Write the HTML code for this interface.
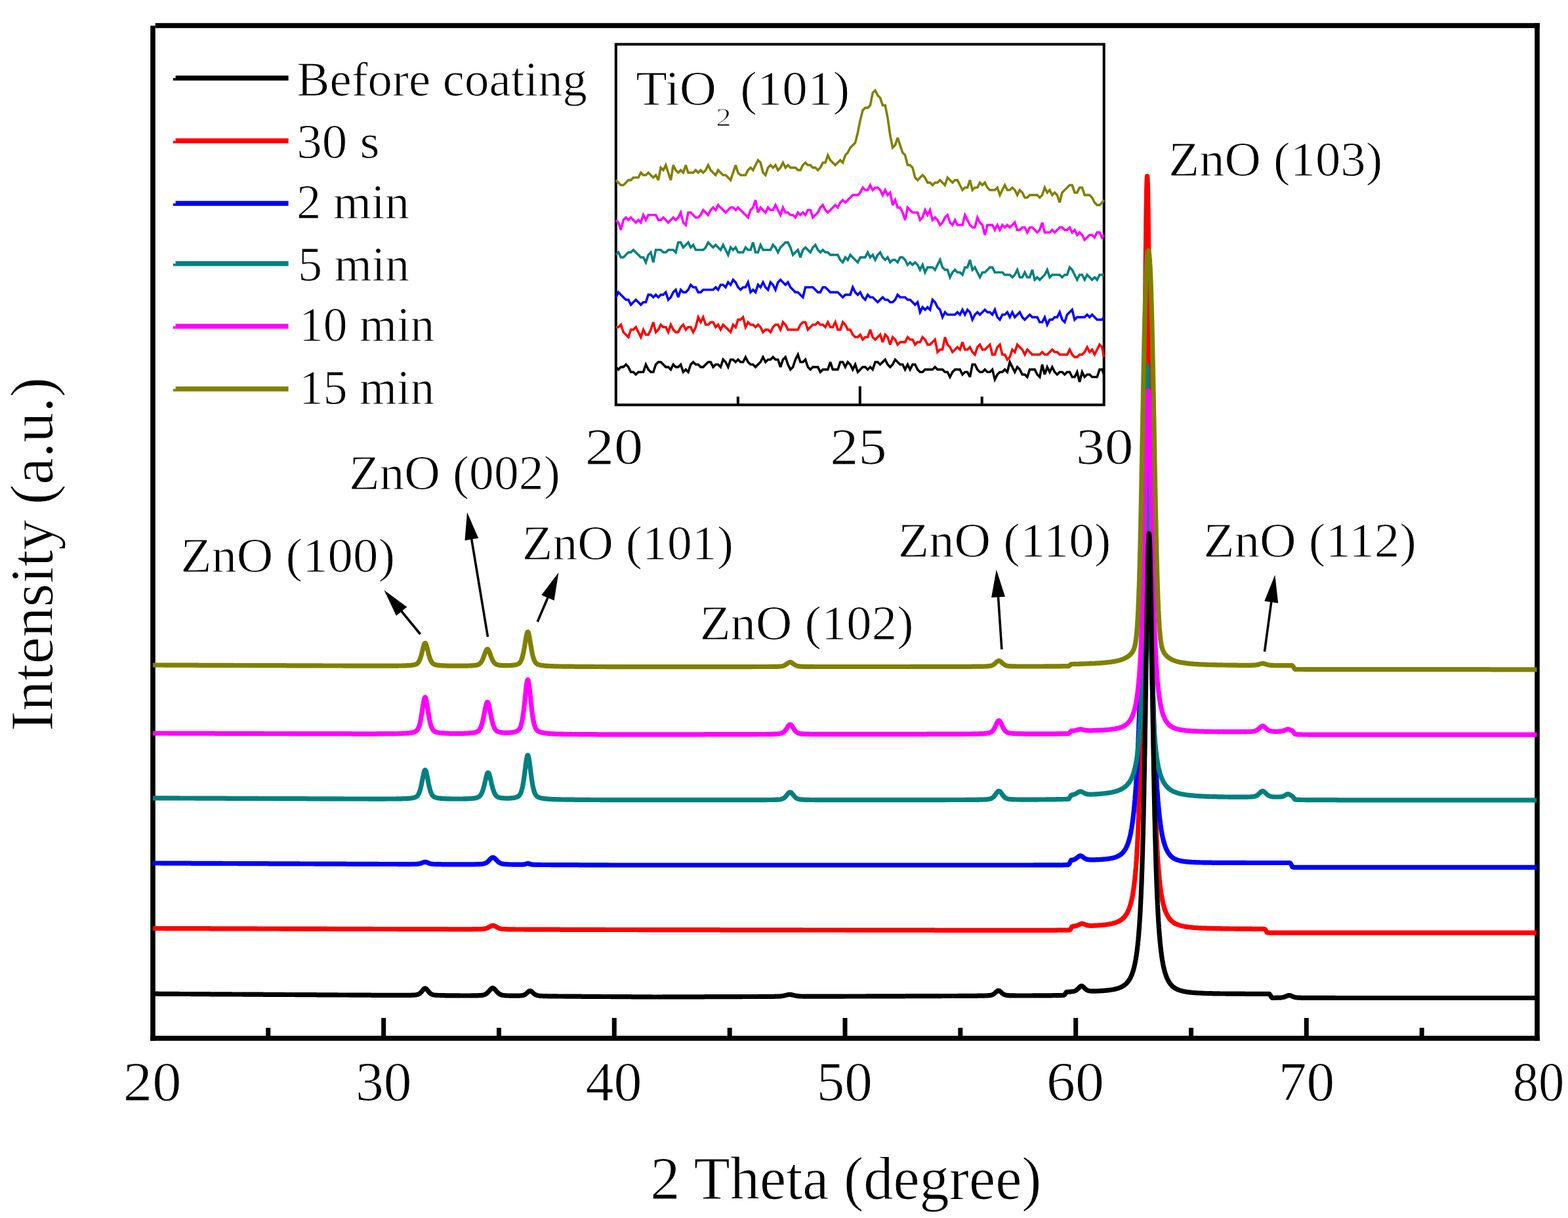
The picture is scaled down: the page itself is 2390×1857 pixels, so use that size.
<!DOCTYPE html>
<html><head><meta charset="utf-8"><title>XRD</title>
<style>html,body{margin:0;padding:0;background:#fff;}svg{display:block;}text{font-family:"Liberation Serif","Times New Roman",serif;fill:#000;stroke:#fff;stroke-width:1.0px;stroke-linejoin:round;}</style>
</head><body>
<svg width="2390" height="1857" viewBox="0 0 2390 1857">
<rect width="2390" height="1857" fill="#fff"/>
<rect x="236.8" y="35.2" width="2110" height="7.6" fill="#000"/>
<rect x="229.2" y="39.2" width="7.6" height="1547.6" fill="#000"/>
<rect x="229.2" y="1579.2" width="2117.6" height="7.6" fill="#000"/>
<rect x="2339.2" y="35.2" width="7.6" height="1551.6" fill="#000"/>
<line x1="408.8" y1="1580" x2="408.8" y2="1567" stroke="#000" stroke-width="7"/>
<line x1="584.7" y1="1580" x2="584.7" y2="1552" stroke="#000" stroke-width="7"/>
<line x1="760.5" y1="1580" x2="760.5" y2="1567" stroke="#000" stroke-width="7"/>
<line x1="936.3" y1="1580" x2="936.3" y2="1552" stroke="#000" stroke-width="7"/>
<line x1="1112.2" y1="1580" x2="1112.2" y2="1567" stroke="#000" stroke-width="7"/>
<line x1="1288.0" y1="1580" x2="1288.0" y2="1552" stroke="#000" stroke-width="7"/>
<line x1="1463.8" y1="1580" x2="1463.8" y2="1567" stroke="#000" stroke-width="7"/>
<line x1="1639.7" y1="1580" x2="1639.7" y2="1552" stroke="#000" stroke-width="7"/>
<line x1="1815.5" y1="1580" x2="1815.5" y2="1567" stroke="#000" stroke-width="7"/>
<line x1="1991.3" y1="1580" x2="1991.3" y2="1552" stroke="#000" stroke-width="7"/>
<line x1="2167.2" y1="1580" x2="2167.2" y2="1567" stroke="#000" stroke-width="7"/>
<text transform="translate(191.40,1678.00) scale(1.0361,1)" x="-3.42" y="0" font-size="85.5">20</text>
<text transform="translate(546.20,1678.00) scale(0.9999,1)" x="-4.28" y="0" font-size="85.5">30</text>
<text transform="translate(894.30,1678.00) scale(1.0066,1)" x="-1.71" y="0" font-size="85.5">40</text>
<text transform="translate(1249.80,1678.00) scale(0.9955,1)" x="-5.13" y="0" font-size="85.5">50</text>
<text transform="translate(1598.50,1678.00) scale(1.0285,1)" x="-3.42" y="0" font-size="85.5">60</text>
<text transform="translate(1954.60,1678.00) scale(1.0001,1)" x="-5.98" y="0" font-size="85.5">70</text>
<text transform="translate(2308.80,1678.00) scale(0.9204,1)" x="-3.42" y="0" font-size="85.5">80</text>
<text transform="translate(994.90,1827.60) scale(0.9677,1)" x="-3.74" y="0" font-size="93.5">2 Theta (degree)</text>
<text transform="translate(80.4,1111) rotate(-90) scale(0.9853,1)" x="-3.74" y="0" font-size="93.5">Intensity (a.u.)</text>
<rect x="267.6" y="115.25" width="172" height="7.5" fill="#000000"/>
<rect x="263.8" y="119.00" width="4" height="3.75" fill="#000000"/>
<text transform="translate(454.80,145.50) scale(1.0043,1)" x="-2.23" y="0" font-size="74.5">Before coating</text>
<rect x="267.6" y="210.95" width="172" height="7.5" fill="#ff0000"/>
<rect x="263.8" y="214.70" width="4" height="3.75" fill="#ff0000"/>
<text transform="translate(456.00,241.00) scale(1.0357,1)" x="-3.73" y="0" font-size="74.5">30 s</text>
<rect x="267.6" y="306.35" width="172" height="7.5" fill="#0000ff"/>
<rect x="263.8" y="310.10" width="4" height="3.75" fill="#0000ff"/>
<text transform="translate(455.00,332.90) scale(1.0022,1)" x="-2.98" y="0" font-size="74.5">2 min</text>
<rect x="267.6" y="398.15" width="172" height="7.5" fill="#008080"/>
<rect x="263.8" y="401.90" width="4" height="3.75" fill="#008080"/>
<text transform="translate(458.70,428.20) scale(0.9890,1)" x="-4.47" y="0" font-size="74.5">5 min</text>
<rect x="267.6" y="493.75" width="172" height="7.5" fill="#ff00ff"/>
<rect x="263.8" y="497.50" width="4" height="3.75" fill="#ff00ff"/>
<text transform="translate(462.60,519.60) scale(0.9863,1)" x="-6.71" y="0" font-size="74.5">10 min</text>
<rect x="267.6" y="589.25" width="172" height="7.5" fill="#808000"/>
<rect x="263.8" y="593.00" width="4" height="3.75" fill="#808000"/>
<text transform="translate(462.60,615.50) scale(0.9863,1)" x="-6.71" y="0" font-size="74.5">15 min</text>
<text transform="translate(1785.20,267.50) scale(1.0295,1)" x="-3.73" y="0" font-size="74.5">ZnO (103)</text>
<text transform="translate(536.00,745.80) scale(1.0163,1)" x="-3.73" y="0" font-size="74.5">ZnO (002)</text>
<text transform="translate(279.30,871.50) scale(1.0321,1)" x="-3.73" y="0" font-size="74.5">ZnO (100)</text>
<text transform="translate(799.90,852.60) scale(1.0166,1)" x="-3.73" y="0" font-size="74.5">ZnO (101)</text>
<text transform="translate(1372.80,848.90) scale(1.0338,1)" x="-3.73" y="0" font-size="74.5">ZnO (110)</text>
<text transform="translate(1838.30,848.60) scale(1.0338,1)" x="-3.73" y="0" font-size="74.5">ZnO (112)</text>
<text transform="translate(1070.60,974.90) scale(1.0292,1)" x="-3.73" y="0" font-size="74.5">ZnO (102)</text>
<line x1="640.7" y1="967.0" x2="610.9" y2="930.6" stroke="#000" stroke-width="3.6"/>
<polygon points="585.5,899.7 620.3,925.5 604.0,938.8" fill="#000"/>
<line x1="743.5" y1="971.0" x2="718.5" y2="820.4" stroke="#000" stroke-width="3.6"/>
<polygon points="712.0,780.9 729.2,820.6 708.5,824.1" fill="#000"/>
<line x1="819.2" y1="948.0" x2="835.7" y2="909.5" stroke="#000" stroke-width="3.6"/>
<polygon points="851.5,872.7 844.6,915.4 825.3,907.2" fill="#000"/>
<line x1="1526.9" y1="990.0" x2="1521.4" y2="908.4" stroke="#000" stroke-width="3.6"/>
<polygon points="1518.7,868.5 1532.0,909.7 1511.1,911.1" fill="#000"/>
<line x1="1927.5" y1="993.6" x2="1938.0" y2="916.0" stroke="#000" stroke-width="3.6"/>
<polygon points="1943.4,876.4 1948.2,919.4 1927.3,916.6" fill="#000"/>
<rect x="938.8" y="67.5" width="743.9" height="549.8" fill="none" stroke="#000" stroke-width="4"/>
<line x1="1124.8" y1="617.3" x2="1124.8" y2="604.7" stroke="#000" stroke-width="4"/>
<line x1="1310.8" y1="617.3" x2="1310.8" y2="588.9" stroke="#000" stroke-width="4"/>
<line x1="1496.7" y1="617.3" x2="1496.7" y2="604.7" stroke="#000" stroke-width="4"/>
<text transform="translate(895.30,706.50) scale(1.1200,1)" x="-3.16" y="0" font-size="79.0">20</text>
<text transform="translate(1268.80,706.50) scale(1.0925,1)" x="-3.16" y="0" font-size="79.0">25</text>
<text transform="translate(1644.30,706.50) scale(1.1086,1)" x="-3.95" y="0" font-size="79.0">30</text>
<text transform="translate(970.90,160.40) scale(1.0375,1)" x="-1.50" y="0" font-size="75.0">TiO</text>
<text transform="translate(1093.10,191.50) scale(1.1688,1)" x="-1.60" y="0" font-size="40.0">2</text>
<text transform="translate(1131.20,160.40) scale(1.0282,1)" x="-3.00" y="0" font-size="75.0">(101)</text>
<polyline points="938.8,559.6 942.6,563.4 946.4,559.6 950.2,559.6 954.0,555.8 957.8,559.6 961.6,567.2 965.4,567.2 969.2,571.0 973.0,567.2 976.8,567.2 980.6,567.2 984.4,555.8 988.2,563.4 992.0,567.2 995.8,567.2 999.6,555.8 1003.4,552.0 1007.2,552.0 1011.0,555.8 1014.8,559.6 1018.6,559.6 1022.4,563.4 1026.2,555.8 1030.0,559.6 1033.8,559.6 1037.6,555.8 1041.4,567.2 1045.2,563.4 1049.0,567.2 1052.8,555.8 1056.6,552.0 1060.4,555.8 1064.2,555.8 1068.0,559.6 1071.8,559.6 1075.6,555.8 1079.4,552.0 1083.2,552.0 1087.0,559.6 1090.8,555.8 1094.6,555.8 1098.4,559.6 1102.2,548.2 1106.0,552.0 1109.8,559.6 1113.6,548.2 1117.4,548.2 1121.2,552.0 1125.0,548.2 1128.8,552.0 1132.6,552.0 1136.4,544.4 1140.2,552.0 1144.0,555.8 1147.8,555.8 1151.6,559.6 1155.4,555.8 1159.2,552.0 1163.0,544.4 1166.8,552.0 1170.6,548.2 1174.4,548.2 1178.2,544.4 1182.0,548.2 1185.8,548.2 1189.6,559.6 1193.4,548.2 1197.2,544.4 1201.0,555.8 1204.8,563.4 1208.6,559.6 1212.4,548.2 1216.2,540.6 1220.0,552.0 1223.8,552.0 1227.6,548.2 1231.4,559.6 1235.2,563.4 1239.0,559.6 1242.8,559.6 1246.6,559.6 1250.4,567.2 1254.2,563.4 1258.0,563.4 1261.8,563.4 1265.6,552.0 1269.4,563.4 1273.2,563.4 1277.0,563.4 1280.8,552.0 1284.6,552.0 1288.4,559.6 1292.2,552.0 1296.0,555.8 1299.8,563.4 1303.6,555.8 1307.4,567.2 1311.2,563.4 1315.0,559.6 1318.8,559.6 1322.6,563.4 1326.4,559.6 1330.2,563.4 1334.0,552.0 1337.8,552.0 1341.6,555.8 1345.4,552.0 1349.2,548.2 1353.0,555.8 1356.8,559.6 1360.6,555.8 1364.4,548.2 1368.2,552.0 1372.0,555.8 1375.8,555.8 1379.6,563.4 1383.4,555.8 1387.2,563.4 1391.0,555.8 1394.8,555.8 1398.6,563.4 1402.4,567.2 1406.2,567.2 1410.0,563.4 1413.8,563.4 1417.6,563.4 1421.4,563.4 1425.2,559.6 1429.0,563.4 1432.8,563.4 1436.6,563.4 1440.4,567.2 1444.2,567.2 1448.0,574.8 1451.8,567.2 1455.6,563.4 1459.4,563.4 1463.2,563.4 1467.0,571.0 1470.8,567.2 1474.6,567.2 1478.4,574.8 1482.2,555.8 1486.0,555.8 1489.8,563.4 1493.6,567.2 1497.4,567.2 1501.2,563.4 1505.0,567.2 1508.8,567.2 1512.6,563.4 1516.4,578.6 1520.2,571.0 1524.0,567.2 1527.8,567.2 1531.6,563.4 1535.4,567.2 1539.2,552.0 1543.0,559.6 1546.8,567.2 1550.6,559.6 1554.4,563.4 1558.2,571.0 1562.0,571.0 1565.8,574.8 1569.6,563.4 1573.4,563.4 1577.2,563.4 1581.0,571.0 1584.8,574.8 1588.6,555.8 1592.4,571.0 1596.2,559.6 1600.0,567.2 1603.8,559.6 1607.6,567.2 1611.4,571.0 1615.2,567.2 1619.0,567.2 1622.8,571.0 1626.6,567.2 1630.4,567.2 1634.2,574.8 1638.0,574.8 1641.8,567.2 1645.6,582.4 1649.4,567.2 1653.2,574.8 1657.0,571.0 1660.8,571.0 1664.6,574.8 1668.4,574.8 1672.2,574.8 1676.0,563.4 1679.8,563.4 1682.7,571.0" fill="none" stroke="#000000" stroke-width="3.6" stroke-linejoin="miter" stroke-miterlimit="3"/>
<polyline points="938.8,498.8 942.6,498.8 946.4,495.0 950.2,506.4 954.0,510.2 957.8,514.0 961.6,502.6 965.4,502.6 969.2,498.8 973.0,506.4 976.8,514.0 980.6,502.6 984.4,510.2 988.2,510.2 992.0,502.6 995.8,491.2 999.6,506.4 1003.4,502.6 1007.2,495.0 1011.0,498.8 1014.8,498.8 1018.6,506.4 1022.4,495.0 1026.2,502.6 1030.0,506.4 1033.8,506.4 1037.6,498.8 1041.4,495.0 1045.2,502.6 1049.0,498.8 1052.8,498.8 1056.6,506.4 1060.4,498.8 1064.2,483.6 1068.0,491.2 1071.8,483.6 1075.6,495.0 1079.4,495.0 1083.2,491.2 1087.0,491.2 1090.8,498.8 1094.6,495.0 1098.4,502.6 1102.2,495.0 1106.0,498.8 1109.8,502.6 1113.6,506.4 1117.4,495.0 1121.2,498.8 1125.0,487.4 1128.8,487.4 1132.6,483.6 1136.4,498.8 1140.2,491.2 1144.0,495.0 1147.8,495.0 1151.6,498.8 1155.4,495.0 1159.2,498.8 1163.0,506.4 1166.8,502.6 1170.6,502.6 1174.4,506.4 1178.2,498.8 1182.0,495.0 1185.8,495.0 1189.6,502.6 1193.4,491.2 1197.2,495.0 1201.0,502.6 1204.8,502.6 1208.6,502.6 1212.4,502.6 1216.2,502.6 1220.0,495.0 1223.8,491.2 1227.6,491.2 1231.4,502.6 1235.2,498.8 1239.0,495.0 1242.8,495.0 1246.6,491.2 1250.4,495.0 1254.2,495.0 1258.0,498.8 1261.8,491.2 1265.6,498.8 1269.4,498.8 1273.2,491.2 1277.0,502.6 1280.8,502.6 1284.6,491.2 1288.4,495.0 1292.2,502.6 1296.0,502.6 1299.8,510.2 1303.6,514.0 1307.4,514.0 1311.2,510.2 1315.0,517.8 1318.8,514.0 1322.6,514.0 1326.4,502.6 1330.2,514.0 1334.0,517.8 1337.8,514.0 1341.6,510.2 1345.4,521.6 1349.2,510.2 1353.0,514.0 1356.8,525.4 1360.6,514.0 1364.4,517.8 1368.2,525.4 1372.0,521.6 1375.8,521.6 1379.6,521.6 1383.4,514.0 1387.2,517.8 1391.0,517.8 1394.8,525.4 1398.6,521.6 1402.4,521.6 1406.2,514.0 1410.0,517.8 1413.8,525.4 1417.6,525.4 1421.4,521.6 1425.2,517.8 1429.0,536.8 1432.8,533.0 1436.6,533.0 1440.4,514.0 1444.2,525.4 1448.0,529.2 1451.8,536.8 1455.6,533.0 1459.4,529.2 1463.2,533.0 1467.0,521.6 1470.8,533.0 1474.6,533.0 1478.4,529.2 1482.2,536.8 1486.0,540.6 1489.8,529.2 1493.6,525.4 1497.4,533.0 1501.2,533.0 1505.0,529.2 1508.8,525.4 1512.6,540.6 1516.4,540.6 1520.2,529.2 1524.0,525.4 1527.8,540.6 1531.6,540.6 1535.4,548.2 1539.2,544.4 1543.0,533.0 1546.8,536.8 1550.6,525.4 1554.4,529.2 1558.2,533.0 1562.0,540.6 1565.8,533.0 1569.6,536.8 1573.4,540.6 1577.2,540.6 1581.0,540.6 1584.8,540.6 1588.6,536.8 1592.4,540.6 1596.2,540.6 1600.0,536.8 1603.8,533.0 1607.6,536.8 1611.4,536.8 1615.2,540.6 1619.0,540.6 1622.8,540.6 1626.6,540.6 1630.4,533.0 1634.2,540.6 1638.0,544.4 1641.8,544.4 1645.6,540.6 1649.4,540.6 1653.2,536.8 1657.0,529.2 1660.8,536.8 1664.6,533.0 1668.4,540.6 1672.2,533.0 1676.0,525.4 1679.8,529.2 1682.7,544.4" fill="none" stroke="#ff0000" stroke-width="3.6" stroke-linejoin="miter" stroke-miterlimit="3"/>
<polyline points="938.8,453.2 942.6,445.6 946.4,449.4 950.2,453.2 954.0,457.0 957.8,457.0 961.6,464.6 965.4,460.8 969.2,457.0 973.0,460.8 976.8,464.6 980.6,460.8 984.4,460.8 988.2,449.4 992.0,449.4 995.8,453.2 999.6,449.4 1003.4,453.2 1007.2,449.4 1011.0,449.4 1014.8,445.6 1018.6,457.0 1022.4,453.2 1026.2,445.6 1030.0,441.8 1033.8,453.2 1037.6,441.8 1041.4,445.6 1045.2,445.6 1049.0,441.8 1052.8,434.2 1056.6,438.0 1060.4,438.0 1064.2,445.6 1068.0,445.6 1071.8,441.8 1075.6,441.8 1079.4,441.8 1083.2,441.8 1087.0,441.8 1090.8,438.0 1094.6,441.8 1098.4,434.2 1102.2,434.2 1106.0,438.0 1109.8,430.4 1113.6,434.2 1117.4,426.6 1121.2,430.4 1125.0,438.0 1128.8,441.8 1132.6,438.0 1136.4,438.0 1140.2,430.4 1144.0,445.6 1147.8,441.8 1151.6,445.6 1155.4,434.2 1159.2,438.0 1163.0,430.4 1166.8,438.0 1170.6,441.8 1174.4,430.4 1178.2,434.2 1182.0,441.8 1185.8,430.4 1189.6,426.6 1193.4,430.4 1197.2,434.2 1201.0,430.4 1204.8,438.0 1208.6,441.8 1212.4,445.6 1216.2,445.6 1220.0,449.4 1223.8,453.2 1227.6,438.0 1231.4,438.0 1235.2,438.0 1239.0,438.0 1242.8,441.8 1246.6,445.6 1250.4,445.6 1254.2,438.0 1258.0,438.0 1261.8,441.8 1265.6,445.6 1269.4,445.6 1273.2,445.6 1277.0,445.6 1280.8,449.4 1284.6,453.2 1288.4,449.4 1292.2,449.4 1296.0,449.4 1299.8,438.0 1303.6,445.6 1307.4,449.4 1311.2,445.6 1315.0,453.2 1318.8,457.0 1322.6,449.4 1326.4,453.2 1330.2,453.2 1334.0,457.0 1337.8,460.8 1341.6,457.0 1345.4,453.2 1349.2,457.0 1353.0,457.0 1356.8,460.8 1360.6,460.8 1364.4,457.0 1368.2,449.4 1372.0,453.2 1375.8,453.2 1379.6,453.2 1383.4,457.0 1387.2,457.0 1391.0,460.8 1394.8,464.6 1398.6,460.8 1402.4,476.0 1406.2,468.4 1410.0,472.2 1413.8,468.4 1417.6,472.2 1421.4,457.0 1425.2,460.8 1429.0,468.4 1432.8,472.2 1436.6,483.6 1440.4,476.0 1444.2,479.8 1448.0,479.8 1451.8,479.8 1455.6,479.8 1459.4,476.0 1463.2,479.8 1467.0,472.2 1470.8,479.8 1474.6,472.2 1478.4,476.0 1482.2,487.4 1486.0,479.8 1489.8,476.0 1493.6,479.8 1497.4,476.0 1501.2,472.2 1505.0,476.0 1508.8,476.0 1512.6,479.8 1516.4,472.2 1520.2,483.6 1524.0,487.4 1527.8,479.8 1531.6,479.8 1535.4,476.0 1539.2,483.6 1543.0,476.0 1546.8,483.6 1550.6,479.8 1554.4,476.0 1558.2,483.6 1562.0,487.4 1565.8,483.6 1569.6,479.8 1573.4,483.6 1577.2,483.6 1581.0,483.6 1584.8,491.2 1588.6,491.2 1592.4,483.6 1596.2,495.0 1600.0,487.4 1603.8,487.4 1607.6,483.6 1611.4,483.6 1615.2,476.0 1619.0,487.4 1622.8,491.2 1626.6,479.8 1630.4,476.0 1634.2,472.2 1638.0,487.4 1641.8,483.6 1645.6,483.6 1649.4,483.6 1653.2,483.6 1657.0,479.8 1660.8,483.6 1664.6,479.8 1668.4,483.6 1672.2,487.4 1676.0,487.4 1679.8,487.4 1682.7,483.6" fill="none" stroke="#0000ff" stroke-width="3.6" stroke-linejoin="miter" stroke-miterlimit="3"/>
<polyline points="938.8,388.6 942.6,384.8 946.4,392.4 950.2,392.4 954.0,388.6 957.8,384.8 961.6,384.8 965.4,381.0 969.2,384.8 973.0,388.6 976.8,392.4 980.6,392.4 984.4,400.0 988.2,388.6 992.0,384.8 995.8,400.0 999.6,381.0 1003.4,381.0 1007.2,381.0 1011.0,384.8 1014.8,384.8 1018.6,381.0 1022.4,381.0 1026.2,381.0 1030.0,384.8 1033.8,369.6 1037.6,369.6 1041.4,377.2 1045.2,373.4 1049.0,369.6 1052.8,377.2 1056.6,373.4 1060.4,381.0 1064.2,381.0 1068.0,381.0 1071.8,381.0 1075.6,377.2 1079.4,369.6 1083.2,373.4 1087.0,377.2 1090.8,373.4 1094.6,377.2 1098.4,381.0 1102.2,373.4 1106.0,381.0 1109.8,388.6 1113.6,377.2 1117.4,381.0 1121.2,377.2 1125.0,384.8 1128.8,384.8 1132.6,384.8 1136.4,377.2 1140.2,381.0 1144.0,381.0 1147.8,369.6 1151.6,384.8 1155.4,384.8 1159.2,373.4 1163.0,381.0 1166.8,381.0 1170.6,381.0 1174.4,381.0 1178.2,373.4 1182.0,377.2 1185.8,384.8 1189.6,377.2 1193.4,373.4 1197.2,369.6 1201.0,369.6 1204.8,377.2 1208.6,388.6 1212.4,384.8 1216.2,381.0 1220.0,392.4 1223.8,381.0 1227.6,377.2 1231.4,381.0 1235.2,384.8 1239.0,377.2 1242.8,373.4 1246.6,381.0 1250.4,384.8 1254.2,381.0 1258.0,384.8 1261.8,384.8 1265.6,388.6 1269.4,388.6 1273.2,388.6 1277.0,388.6 1280.8,396.2 1284.6,400.0 1288.4,392.4 1292.2,396.2 1296.0,388.6 1299.8,392.4 1303.6,396.2 1307.4,400.0 1311.2,392.4 1315.0,392.4 1318.8,392.4 1322.6,384.8 1326.4,392.4 1330.2,388.6 1334.0,396.2 1337.8,388.6 1341.6,384.8 1345.4,392.4 1349.2,396.2 1353.0,392.4 1356.8,400.0 1360.6,396.2 1364.4,396.2 1368.2,400.0 1372.0,392.4 1375.8,392.4 1379.6,396.2 1383.4,403.8 1387.2,400.0 1391.0,403.8 1394.8,400.0 1398.6,403.8 1402.4,411.4 1406.2,403.8 1410.0,415.2 1413.8,407.6 1417.6,407.6 1421.4,407.6 1425.2,411.4 1429.0,403.8 1432.8,396.2 1436.6,407.6 1440.4,411.4 1444.2,411.4 1448.0,422.8 1451.8,415.2 1455.6,411.4 1459.4,415.2 1463.2,415.2 1467.0,419.0 1470.8,407.6 1474.6,407.6 1478.4,396.2 1482.2,411.4 1486.0,407.6 1489.8,415.2 1493.6,422.8 1497.4,415.2 1501.2,415.2 1505.0,411.4 1508.8,407.6 1512.6,407.6 1516.4,415.2 1520.2,415.2 1524.0,415.2 1527.8,415.2 1531.6,419.0 1535.4,419.0 1539.2,419.0 1543.0,422.8 1546.8,419.0 1550.6,411.4 1554.4,422.8 1558.2,422.8 1562.0,415.2 1565.8,422.8 1569.6,422.8 1573.4,411.4 1577.2,426.6 1581.0,422.8 1584.8,426.6 1588.6,422.8 1592.4,419.0 1596.2,411.4 1600.0,422.8 1603.8,419.0 1607.6,419.0 1611.4,419.0 1615.2,419.0 1619.0,422.8 1622.8,419.0 1626.6,419.0 1630.4,407.6 1634.2,411.4 1638.0,419.0 1641.8,426.6 1645.6,419.0 1649.4,419.0 1653.2,426.6 1657.0,419.0 1660.8,422.8 1664.6,426.6 1668.4,422.8 1672.2,426.6 1676.0,419.0 1679.8,419.0 1682.7,419.0" fill="none" stroke="#008080" stroke-width="3.6" stroke-linejoin="miter" stroke-miterlimit="3"/>
<polyline points="938.8,335.4 942.6,339.2 946.4,350.6 950.2,335.4 954.0,331.6 957.8,335.4 961.6,331.6 965.4,335.4 969.2,339.2 973.0,335.4 976.8,339.2 980.6,327.8 984.4,335.4 988.2,327.8 992.0,327.8 995.8,327.8 999.6,327.8 1003.4,335.4 1007.2,335.4 1011.0,331.6 1014.8,335.4 1018.6,339.2 1022.4,335.4 1026.2,331.6 1030.0,335.4 1033.8,331.6 1037.6,324.0 1041.4,339.2 1045.2,343.0 1049.0,324.0 1052.8,324.0 1056.6,327.8 1060.4,331.6 1064.2,331.6 1068.0,327.8 1071.8,320.2 1075.6,324.0 1079.4,327.8 1083.2,320.2 1087.0,316.4 1090.8,320.2 1094.6,312.6 1098.4,316.4 1102.2,320.2 1106.0,324.0 1109.8,320.2 1113.6,316.4 1117.4,316.4 1121.2,320.2 1125.0,316.4 1128.8,320.2 1132.6,324.0 1136.4,327.8 1140.2,331.6 1144.0,320.2 1147.8,316.4 1151.6,305.0 1155.4,324.0 1159.2,316.4 1163.0,320.2 1166.8,324.0 1170.6,316.4 1174.4,320.2 1178.2,320.2 1182.0,312.6 1185.8,320.2 1189.6,327.8 1193.4,316.4 1197.2,324.0 1201.0,324.0 1204.8,327.8 1208.6,327.8 1212.4,331.6 1216.2,324.0 1220.0,327.8 1223.8,324.0 1227.6,327.8 1231.4,320.2 1235.2,320.2 1239.0,331.6 1242.8,327.8 1246.6,324.0 1250.4,316.4 1254.2,312.6 1258.0,320.2 1261.8,324.0 1265.6,320.2 1269.4,316.4 1273.2,312.6 1277.0,316.4 1280.8,308.8 1284.6,305.0 1288.4,308.8 1292.2,305.0 1296.0,301.2 1299.8,297.4 1303.6,297.4 1307.4,297.4 1311.2,293.6 1315.0,286.0 1318.8,289.8 1322.6,289.8 1326.4,282.2 1330.2,289.8 1334.0,286.0 1337.8,286.0 1341.6,289.8 1345.4,297.4 1349.2,289.8 1353.0,297.4 1356.8,293.6 1360.6,312.6 1364.4,305.0 1368.2,316.4 1372.0,316.4 1375.8,324.0 1379.6,335.4 1383.4,316.4 1387.2,320.2 1391.0,324.0 1394.8,324.0 1398.6,324.0 1402.4,335.4 1406.2,331.6 1410.0,320.2 1413.8,327.8 1417.6,320.2 1421.4,335.4 1425.2,331.6 1429.0,335.4 1432.8,343.0 1436.6,339.2 1440.4,331.6 1444.2,327.8 1448.0,339.2 1451.8,343.0 1455.6,335.4 1459.4,343.0 1463.2,343.0 1467.0,343.0 1470.8,327.8 1474.6,335.4 1478.4,343.0 1482.2,346.8 1486.0,346.8 1489.8,331.6 1493.6,339.2 1497.4,343.0 1501.2,358.2 1505.0,343.0 1508.8,343.0 1512.6,343.0 1516.4,350.6 1520.2,343.0 1524.0,350.6 1527.8,343.0 1531.6,346.8 1535.4,343.0 1539.2,346.8 1543.0,343.0 1546.8,339.2 1550.6,350.6 1554.4,350.6 1558.2,346.8 1562.0,346.8 1565.8,354.4 1569.6,346.8 1573.4,346.8 1577.2,350.6 1581.0,354.4 1584.8,350.6 1588.6,339.2 1592.4,354.4 1596.2,354.4 1600.0,354.4 1603.8,350.6 1607.6,354.4 1611.4,350.6 1615.2,346.8 1619.0,346.8 1622.8,350.6 1626.6,350.6 1630.4,346.8 1634.2,354.4 1638.0,350.6 1641.8,358.2 1645.6,354.4 1649.4,358.2 1653.2,365.8 1657.0,362.0 1660.8,358.2 1664.6,358.2 1668.4,362.0 1672.2,354.4 1676.0,354.4 1679.8,362.0 1682.7,358.2" fill="none" stroke="#ff00ff" stroke-width="3.6" stroke-linejoin="miter" stroke-miterlimit="3"/>
<polyline points="938.8,274.6 942.6,278.4 946.4,282.2 950.2,282.2 954.0,278.4 957.8,274.6 961.6,274.6 965.4,270.8 969.2,270.8 973.0,270.8 976.8,263.2 980.6,267.0 984.4,267.0 988.2,263.2 992.0,267.0 995.8,270.8 999.6,267.0 1003.4,274.6 1007.2,255.6 1011.0,259.4 1014.8,251.8 1018.6,263.2 1022.4,274.6 1026.2,251.8 1030.0,259.4 1033.8,263.2 1037.6,259.4 1041.4,263.2 1045.2,251.8 1049.0,263.2 1052.8,263.2 1056.6,263.2 1060.4,259.4 1064.2,263.2 1068.0,259.4 1071.8,263.2 1075.6,259.4 1079.4,251.8 1083.2,259.4 1087.0,263.2 1090.8,267.0 1094.6,259.4 1098.4,263.2 1102.2,267.0 1106.0,267.0 1109.8,270.8 1113.6,274.6 1117.4,263.2 1121.2,251.8 1125.0,263.2 1128.8,267.0 1132.6,267.0 1136.4,267.0 1140.2,259.4 1144.0,255.6 1147.8,259.4 1151.6,251.8 1155.4,244.2 1159.2,248.0 1163.0,263.2 1166.8,267.0 1170.6,255.6 1174.4,251.8 1178.2,255.6 1182.0,251.8 1185.8,259.4 1189.6,255.6 1193.4,248.0 1197.2,255.6 1201.0,251.8 1204.8,255.6 1208.6,255.6 1212.4,255.6 1216.2,259.4 1220.0,259.4 1223.8,251.8 1227.6,248.0 1231.4,251.8 1235.2,251.8 1239.0,255.6 1242.8,255.6 1246.6,259.4 1250.4,255.6 1254.2,248.0 1258.0,248.0 1261.8,236.6 1265.6,244.2 1269.4,248.0 1273.2,251.8 1277.0,248.0 1280.8,244.2 1284.6,248.0 1288.4,236.6 1292.2,232.8 1296.0,225.2 1299.8,221.4 1303.6,217.6 1307.4,202.4 1311.2,183.4 1315.0,168.2 1318.8,164.4 1322.6,164.4 1326.4,160.6 1330.2,141.6 1334.0,137.8 1337.8,145.4 1341.6,149.2 1345.4,160.6 1349.2,160.6 1353.0,179.6 1356.8,206.2 1360.6,225.2 1364.4,221.4 1368.2,210.0 1372.0,221.4 1375.8,232.8 1379.6,236.6 1383.4,251.8 1387.2,251.8 1391.0,255.6 1394.8,270.8 1398.6,274.6 1402.4,270.8 1406.2,267.0 1410.0,270.8 1413.8,278.4 1417.6,278.4 1421.4,282.2 1425.2,278.4 1429.0,278.4 1432.8,274.6 1436.6,278.4 1440.4,282.2 1444.2,270.8 1448.0,274.6 1451.8,278.4 1455.6,274.6 1459.4,274.6 1463.2,282.2 1467.0,289.8 1470.8,286.0 1474.6,286.0 1478.4,274.6 1482.2,289.8 1486.0,286.0 1489.8,286.0 1493.6,278.4 1497.4,282.2 1501.2,278.4 1505.0,286.0 1508.8,289.8 1512.6,289.8 1516.4,289.8 1520.2,286.0 1524.0,297.4 1527.8,289.8 1531.6,282.2 1535.4,289.8 1539.2,289.8 1543.0,286.0 1546.8,289.8 1550.6,297.4 1554.4,289.8 1558.2,293.6 1562.0,301.2 1565.8,301.2 1569.6,297.4 1573.4,297.4 1577.2,297.4 1581.0,297.4 1584.8,301.2 1588.6,297.4 1592.4,286.0 1596.2,293.6 1600.0,289.8 1603.8,297.4 1607.6,293.6 1611.4,297.4 1615.2,308.8 1619.0,293.6 1622.8,289.8 1626.6,286.0 1630.4,282.2 1634.2,282.2 1638.0,293.6 1641.8,293.6 1645.6,286.0 1649.4,286.0 1653.2,297.4 1657.0,297.4 1660.8,297.4 1664.6,301.2 1668.4,308.8 1672.2,312.6 1676.0,312.6 1679.8,308.8 1682.7,305.0" fill="none" stroke="#808000" stroke-width="3.6" stroke-linejoin="miter" stroke-miterlimit="3"/>
<polyline points="233.0,1415.5 234.4,1415.5 235.8,1415.5 237.2,1415.5 238.6,1415.5 240.0,1415.5 241.4,1415.5 242.8,1415.5 244.3,1415.5 245.7,1415.5 247.1,1415.5 248.5,1415.5 249.9,1415.5 251.3,1415.6 252.7,1415.6 254.1,1415.6 255.5,1415.6 256.9,1415.6 258.3,1415.6 259.7,1415.6 261.1,1415.6 262.5,1415.6 263.9,1415.6 265.4,1415.6 266.8,1415.6 268.2,1415.6 269.6,1415.6 271.0,1415.6 272.4,1415.6 273.8,1415.6 275.2,1415.6 276.6,1415.6 278.0,1415.6 279.4,1415.6 280.8,1415.6 282.2,1415.6 283.6,1415.6 285.0,1415.6 286.5,1415.7 287.9,1415.7 289.3,1415.7 290.7,1415.7 292.1,1415.7 293.5,1415.7 294.9,1415.7 296.3,1415.7 297.7,1415.7 299.1,1415.7 300.5,1415.7 301.9,1415.7 303.3,1415.7 304.7,1415.7 306.1,1415.7 307.6,1415.7 309.0,1415.7 310.4,1415.7 311.8,1415.7 313.2,1415.7 314.6,1415.7 316.0,1415.7 317.4,1415.7 318.8,1415.7 320.2,1415.7 321.6,1415.8 323.0,1415.8 324.4,1415.8 325.8,1415.8 327.2,1415.8 328.7,1415.8 330.1,1415.8 331.5,1415.8 332.9,1415.8 334.3,1415.8 335.7,1415.8 337.1,1415.8 338.5,1415.8 339.9,1415.8 341.3,1415.8 342.7,1415.8 344.1,1415.8 345.5,1415.8 346.9,1415.8 348.3,1415.8 349.8,1415.8 351.2,1415.8 352.6,1415.8 354.0,1415.8 355.4,1415.8 356.8,1415.9 358.2,1415.9 359.6,1415.9 361.0,1415.9 362.4,1415.9 363.8,1415.9 365.2,1415.9 366.6,1415.9 368.0,1415.9 369.4,1415.9 370.9,1415.9 372.3,1415.9 373.7,1415.9 375.1,1415.9 376.5,1415.9 377.9,1415.9 379.3,1415.9 380.7,1415.9 382.1,1415.9 383.5,1415.9 384.9,1415.9 386.3,1415.9 387.7,1415.9 389.1,1415.9 390.5,1415.9 392.0,1416.0 393.4,1416.0 394.8,1416.0 396.2,1416.0 397.6,1416.0 399.0,1416.0 400.4,1416.0 401.8,1416.0 403.2,1416.0 404.6,1416.0 406.0,1416.0 407.4,1416.0 408.8,1416.0 410.2,1416.0 411.6,1416.0 413.1,1416.0 414.5,1416.0 415.9,1416.0 417.3,1416.0 418.7,1416.0 420.1,1416.0 421.5,1416.0 422.9,1416.0 424.3,1416.0 425.7,1416.0 427.1,1416.1 428.5,1416.1 429.9,1416.1 431.3,1416.1 432.7,1416.1 434.2,1416.1 435.6,1416.1 437.0,1416.1 438.4,1416.1 439.8,1416.1 441.2,1416.1 442.6,1416.1 444.0,1416.1 445.4,1416.1 446.8,1416.1 448.2,1416.1 449.6,1416.1 451.0,1416.1 452.4,1416.1 453.8,1416.1 455.3,1416.1 456.7,1416.1 458.1,1416.1 459.5,1416.1 460.9,1416.1 462.3,1416.1 463.7,1416.2 465.1,1416.2 466.5,1416.2 467.9,1416.2 469.3,1416.2 470.7,1416.2 472.1,1416.2 473.5,1416.2 474.9,1416.2 476.4,1416.2 477.8,1416.2 479.2,1416.2 480.6,1416.2 482.0,1416.2 483.4,1416.2 484.8,1416.2 486.2,1416.2 487.6,1416.2 489.0,1416.2 490.4,1416.2 491.8,1416.2 493.2,1416.2 494.6,1416.2 496.0,1416.2 497.5,1416.2 498.9,1416.3 500.3,1416.3 501.7,1416.3 503.1,1416.3 504.5,1416.3 505.9,1416.3 507.3,1416.3 508.7,1416.3 510.1,1416.3 511.5,1416.3 512.9,1416.3 514.3,1416.3 515.7,1416.3 517.1,1416.3 518.6,1416.3 520.0,1416.3 521.4,1416.3 522.8,1416.3 524.2,1416.3 525.6,1416.3 527.0,1416.3 528.4,1416.3 529.8,1416.3 531.2,1416.3 532.6,1416.3 534.0,1416.4 535.4,1416.4 536.8,1416.4 538.2,1416.4 539.7,1416.4 541.1,1416.4 542.5,1416.4 543.9,1416.4 545.3,1416.4 546.7,1416.4 548.1,1416.4 549.5,1416.4 550.9,1416.4 552.3,1416.4 553.7,1416.4 555.1,1416.4 556.5,1416.4 557.9,1416.4 559.3,1416.4 560.8,1416.4 562.2,1416.4 563.6,1416.4 565.0,1416.4 566.4,1416.4 567.8,1416.4 569.2,1416.5 570.6,1416.5 572.0,1416.5 573.4,1416.5 574.8,1416.5 576.2,1416.5 577.6,1416.5 579.0,1416.5 580.4,1416.5 581.9,1416.5 583.3,1416.5 584.7,1416.5 586.1,1416.5 587.5,1416.5 588.9,1416.5 590.3,1416.5 591.7,1416.5 593.1,1416.5 594.5,1416.5 595.9,1416.5 597.3,1416.5 598.7,1416.5 600.1,1416.5 601.5,1416.5 603.0,1416.5 604.4,1416.5 605.8,1416.6 607.2,1416.6 608.6,1416.6 610.0,1416.6 611.4,1416.6 612.8,1416.6 614.2,1416.6 615.6,1416.6 617.0,1416.6 618.4,1416.6 619.8,1416.6 621.2,1416.6 622.6,1416.6 624.1,1416.6 625.5,1416.6 626.9,1416.6 628.3,1416.6 629.7,1416.6 631.1,1416.6 632.5,1416.6 633.9,1416.6 635.3,1416.6 636.7,1416.6 638.1,1416.6 639.5,1416.6 640.9,1416.6 642.3,1416.7 643.7,1416.7 645.2,1416.7 646.6,1416.7 648.0,1416.7 649.4,1416.7 650.8,1416.7 652.2,1416.7 653.6,1416.7 655.0,1416.7 656.4,1416.7 657.8,1416.7 659.2,1416.7 660.6,1416.7 662.0,1416.7 663.4,1416.7 664.8,1416.7 666.3,1416.7 667.7,1416.7 669.1,1416.7 670.5,1416.7 671.9,1416.7 673.3,1416.7 674.7,1416.7 676.1,1416.7 677.5,1416.7 678.9,1416.7 680.3,1416.7 681.7,1416.7 683.1,1416.8 684.5,1416.8 685.9,1416.8 687.4,1416.8 688.8,1416.8 690.2,1416.8 691.6,1416.8 693.0,1416.8 694.4,1416.8 695.8,1416.8 697.2,1416.8 698.6,1416.8 700.0,1416.8 701.4,1416.8 702.8,1416.8 704.2,1416.8 705.6,1416.8 707.0,1416.8 708.5,1416.8 709.9,1416.8 711.3,1416.8 712.7,1416.8 714.1,1416.8 715.5,1416.8 716.9,1416.8 718.3,1416.8 719.7,1416.8 721.1,1416.7 722.5,1416.7 723.9,1416.7 725.3,1416.7 726.7,1416.7 728.1,1416.7 729.6,1416.6 731.0,1416.6 732.4,1416.6 733.8,1416.5 735.2,1416.4 736.6,1416.3 738.0,1416.1 739.4,1415.9 740.8,1415.5 742.2,1415.1 743.6,1414.5 745.0,1413.7 746.4,1412.9 747.8,1412.1 749.2,1411.4 750.7,1411.0 752.1,1411.0 753.5,1411.4 754.9,1412.1 756.3,1413.0 757.7,1413.8 759.1,1414.5 760.5,1415.1 761.9,1415.6 763.3,1416.0 764.7,1416.2 766.1,1416.4 767.5,1416.5 768.9,1416.6 770.3,1416.7 771.8,1416.7 773.2,1416.8 774.6,1416.8 776.0,1416.8 777.4,1416.9 778.8,1416.9 780.2,1416.9 781.6,1416.9 783.0,1416.9 784.4,1416.9 785.8,1417.0 787.2,1417.0 788.6,1417.0 790.0,1417.0 791.4,1417.0 792.9,1417.0 794.3,1417.0 795.7,1417.0 797.1,1417.0 798.5,1417.0 799.9,1417.1 801.3,1417.1 802.7,1417.1 804.1,1417.1 805.5,1417.1 806.9,1417.1 808.3,1417.1 809.7,1417.1 811.1,1417.1 812.5,1417.1 814.0,1417.1 815.4,1417.1 816.8,1417.1 818.2,1417.1 819.6,1417.1 821.0,1417.1 822.4,1417.1 823.8,1417.2 825.2,1417.2 826.6,1417.2 828.0,1417.2 829.4,1417.2 830.8,1417.2 832.2,1417.2 833.6,1417.2 835.1,1417.2 836.5,1417.2 837.9,1417.2 839.3,1417.2 840.7,1417.2 842.1,1417.2 843.5,1417.2 844.9,1417.2 846.3,1417.2 847.7,1417.2 849.1,1417.2 850.5,1417.2 851.9,1417.2 853.3,1417.2 854.7,1417.3 856.2,1417.3 857.6,1417.3 859.0,1417.3 860.4,1417.3 861.8,1417.3 863.2,1417.3 864.6,1417.3 866.0,1417.3 867.4,1417.3 868.8,1417.3 870.2,1417.3 871.6,1417.3 873.0,1417.3 874.4,1417.3 875.8,1417.3 877.3,1417.3 878.7,1417.3 880.1,1417.3 881.5,1417.3 882.9,1417.3 884.3,1417.3 885.7,1417.3 887.1,1417.4 888.5,1417.4 889.9,1417.4 891.3,1417.4 892.7,1417.4 894.1,1417.4 895.5,1417.4 896.9,1417.4 898.4,1417.4 899.8,1417.4 901.2,1417.4 902.6,1417.4 904.0,1417.4 905.4,1417.4 906.8,1417.4 908.2,1417.4 909.6,1417.4 911.0,1417.4 912.4,1417.4 913.8,1417.4 915.2,1417.4 916.6,1417.4 918.0,1417.4 919.5,1417.4 920.9,1417.4 922.3,1417.5 923.7,1417.5 925.1,1417.5 926.5,1417.5 927.9,1417.5 929.3,1417.5 930.7,1417.5 932.1,1417.5 933.5,1417.5 934.9,1417.5 936.3,1417.5 937.7,1417.5 939.1,1417.5 940.6,1417.5 942.0,1417.5 943.4,1417.5 944.8,1417.5 946.2,1417.5 947.6,1417.5 949.0,1417.5 950.4,1417.5 951.8,1417.5 953.2,1417.5 954.6,1417.5 956.0,1417.5 957.4,1417.5 958.8,1417.5 960.2,1417.5 961.7,1417.5 963.1,1417.5 964.5,1417.5 965.9,1417.5 967.3,1417.5 968.7,1417.5 970.1,1417.5 971.5,1417.6 972.9,1417.6 974.3,1417.6 975.7,1417.6 977.1,1417.6 978.5,1417.6 979.9,1417.6 981.3,1417.6 982.8,1417.6 984.2,1417.6 985.6,1417.6 987.0,1417.6 988.4,1417.6 989.8,1417.6 991.2,1417.6 992.6,1417.6 994.0,1417.6 995.4,1417.6 996.8,1417.6 998.2,1417.6 999.6,1417.6 1001.0,1417.6 1002.4,1417.6 1003.9,1417.6 1005.3,1417.6 1006.7,1417.6 1008.1,1417.6 1009.5,1417.6 1010.9,1417.6 1012.3,1417.6 1013.7,1417.6 1015.1,1417.6 1016.5,1417.6 1017.9,1417.6 1019.3,1417.6 1020.7,1417.6 1022.1,1417.6 1023.5,1417.6 1025.0,1417.6 1026.4,1417.6 1027.8,1417.6 1029.2,1417.6 1030.6,1417.6 1032.0,1417.6 1033.4,1417.6 1034.8,1417.7 1036.2,1417.7 1037.6,1417.7 1039.0,1417.7 1040.4,1417.7 1041.8,1417.7 1043.2,1417.7 1044.6,1417.7 1046.1,1417.7 1047.5,1417.7 1048.9,1417.7 1050.3,1417.7 1051.7,1417.7 1053.1,1417.7 1054.5,1417.7 1055.9,1417.7 1057.3,1417.7 1058.7,1417.7 1060.1,1417.7 1061.5,1417.7 1062.9,1417.7 1064.3,1417.7 1065.7,1417.7 1067.2,1417.7 1068.6,1417.7 1070.0,1417.7 1071.4,1417.7 1072.8,1417.7 1074.2,1417.7 1075.6,1417.7 1077.0,1417.7 1078.4,1417.7 1079.8,1417.7 1081.2,1417.7 1082.6,1417.7 1084.0,1417.7 1085.4,1417.7 1086.8,1417.7 1088.3,1417.7 1089.7,1417.7 1091.1,1417.7 1092.5,1417.7 1093.9,1417.7 1095.3,1417.7 1096.7,1417.7 1098.1,1417.8 1099.5,1417.8 1100.9,1417.8 1102.3,1417.8 1103.7,1417.8 1105.1,1417.8 1106.5,1417.8 1107.9,1417.8 1109.4,1417.8 1110.8,1417.8 1112.2,1417.8 1113.6,1417.8 1115.0,1417.8 1116.4,1417.8 1117.8,1417.8 1119.2,1417.8 1120.6,1417.8 1122.0,1417.8 1123.4,1417.8 1124.8,1417.8 1126.2,1417.8 1127.6,1417.8 1129.0,1417.8 1130.5,1417.8 1131.9,1417.8 1133.3,1417.8 1134.7,1417.8 1136.1,1417.8 1137.5,1417.8 1138.9,1417.8 1140.3,1417.8 1141.7,1417.8 1143.1,1417.8 1144.5,1417.8 1145.9,1417.8 1147.3,1417.8 1148.7,1417.8 1150.1,1417.8 1151.6,1417.8 1153.0,1417.8 1154.4,1417.8 1155.8,1417.8 1157.2,1417.8 1158.6,1417.8 1160.0,1417.8 1161.4,1417.9 1162.8,1417.9 1164.2,1417.9 1165.6,1417.9 1167.0,1417.9 1168.4,1417.9 1169.8,1417.9 1171.2,1417.9 1172.7,1417.9 1174.1,1417.9 1175.5,1417.9 1176.9,1417.9 1178.3,1417.9 1179.7,1417.9 1181.1,1417.9 1182.5,1417.9 1183.9,1417.9 1185.3,1417.9 1186.7,1417.9 1188.1,1417.9 1189.5,1417.9 1190.9,1417.9 1192.3,1417.9 1193.8,1417.9 1195.2,1417.9 1196.6,1417.9 1198.0,1417.9 1199.4,1417.9 1200.8,1417.9 1202.2,1417.9 1203.6,1417.9 1205.0,1417.9 1206.4,1417.9 1207.8,1417.9 1209.2,1417.9 1210.6,1417.9 1212.0,1417.9 1213.4,1417.9 1214.9,1417.9 1216.3,1417.9 1217.7,1417.9 1219.1,1417.9 1220.5,1417.9 1221.9,1417.9 1223.3,1417.9 1224.7,1418.0 1226.1,1418.0 1227.5,1418.0 1228.9,1418.0 1230.3,1418.0 1231.7,1418.0 1233.1,1418.0 1234.5,1418.0 1236.0,1418.0 1237.4,1418.0 1238.8,1418.0 1240.2,1418.0 1241.6,1418.0 1243.0,1418.0 1244.4,1418.0 1245.8,1418.0 1247.2,1418.0 1248.6,1418.0 1250.0,1418.0 1251.4,1418.0 1252.8,1418.0 1254.2,1418.0 1255.6,1418.0 1257.1,1418.0 1258.5,1418.0 1259.9,1418.0 1261.3,1418.0 1262.7,1418.0 1264.1,1418.0 1265.5,1418.0 1266.9,1418.0 1268.3,1418.0 1269.7,1418.0 1271.1,1418.0 1272.5,1418.0 1273.9,1418.0 1275.3,1418.0 1276.7,1418.0 1278.2,1418.0 1279.6,1418.0 1281.0,1418.0 1282.4,1418.0 1283.8,1418.0 1285.2,1418.0 1286.6,1418.0 1288.0,1418.0 1289.4,1418.1 1290.8,1418.1 1292.2,1418.1 1293.6,1418.1 1295.0,1418.1 1296.4,1418.1 1297.8,1418.1 1299.3,1418.1 1300.7,1418.1 1302.1,1418.1 1303.5,1418.1 1304.9,1418.1 1306.3,1418.1 1307.7,1418.1 1309.1,1418.1 1310.5,1418.1 1311.9,1418.1 1313.3,1418.1 1314.7,1418.1 1316.1,1418.1 1317.5,1418.1 1318.9,1418.1 1320.4,1418.1 1321.8,1418.1 1323.2,1418.1 1324.6,1418.1 1326.0,1418.1 1327.4,1418.1 1328.8,1418.1 1330.2,1418.1 1331.6,1418.1 1333.0,1418.1 1334.4,1418.1 1335.8,1418.1 1337.2,1418.1 1338.6,1418.1 1340.0,1418.1 1341.5,1418.1 1342.9,1418.1 1344.3,1418.1 1345.7,1418.1 1347.1,1418.1 1348.5,1418.1 1349.9,1418.1 1351.3,1418.1 1352.7,1418.1 1354.1,1418.1 1355.5,1418.1 1356.9,1418.2 1358.3,1418.2 1359.7,1418.2 1361.1,1418.2 1362.6,1418.2 1364.0,1418.2 1365.4,1418.2 1366.8,1418.2 1368.2,1418.2 1369.6,1418.2 1371.0,1418.2 1372.4,1418.2 1373.8,1418.2 1375.2,1418.2 1376.6,1418.2 1378.0,1418.2 1379.4,1418.2 1380.8,1418.2 1382.2,1418.2 1383.7,1418.2 1385.1,1418.2 1386.5,1418.2 1387.9,1418.2 1389.3,1418.2 1390.7,1418.2 1392.1,1418.2 1393.5,1418.2 1394.9,1418.2 1396.3,1418.2 1397.7,1418.2 1399.1,1418.2 1400.5,1418.2 1401.9,1418.2 1403.3,1418.2 1404.8,1418.2 1406.2,1418.2 1407.6,1418.2 1409.0,1418.2 1410.4,1418.2 1411.8,1418.2 1413.2,1418.2 1414.6,1418.2 1416.0,1418.2 1417.4,1418.2 1418.8,1418.2 1420.2,1418.2 1421.6,1418.2 1423.0,1418.2 1424.4,1418.2 1425.9,1418.3 1427.3,1418.3 1428.7,1418.3 1430.1,1418.3 1431.5,1418.3 1432.9,1418.3 1434.3,1418.3 1435.7,1418.3 1437.1,1418.3 1438.5,1418.3 1439.9,1418.3 1441.3,1418.3 1442.7,1418.3 1444.1,1418.3 1445.5,1418.3 1447.0,1418.3 1448.4,1418.3 1449.8,1418.3 1451.2,1418.3 1452.6,1418.3 1454.0,1418.3 1455.4,1418.3 1456.8,1418.3 1458.2,1418.3 1459.6,1418.3 1461.0,1418.3 1462.4,1418.3 1463.8,1418.3 1465.2,1418.3 1466.6,1418.3 1468.1,1418.3 1469.5,1418.3 1470.9,1418.3 1472.3,1418.3 1473.7,1418.3 1475.1,1418.3 1476.5,1418.3 1477.9,1418.3 1479.3,1418.3 1480.7,1418.3 1482.1,1418.3 1483.5,1418.3 1484.9,1418.3 1486.3,1418.3 1487.7,1418.3 1489.2,1418.3 1490.6,1418.3 1492.0,1418.3 1493.4,1418.3 1494.8,1418.3 1496.2,1418.3 1497.6,1418.3 1499.0,1418.3 1500.4,1418.3 1501.8,1418.3 1503.2,1418.3 1504.6,1418.3 1506.0,1418.3 1507.4,1418.3 1508.8,1418.3 1510.3,1418.4 1511.7,1418.4 1513.1,1418.4 1514.5,1418.4 1515.9,1418.4 1517.3,1418.4 1518.7,1418.4 1520.1,1418.4 1521.5,1418.4 1522.9,1418.4 1524.3,1418.4 1525.7,1418.4 1527.1,1418.4 1528.5,1418.4 1529.9,1418.4 1531.4,1418.4 1532.8,1418.4 1534.2,1418.4 1535.6,1418.4 1537.0,1418.4 1538.4,1418.4 1539.8,1418.4 1541.2,1418.4 1542.6,1418.4 1544.0,1418.4 1545.4,1418.4 1546.8,1418.4 1548.2,1418.4 1549.6,1418.4 1551.0,1418.4 1552.5,1418.4 1553.9,1418.4 1555.3,1418.4 1556.7,1418.4 1558.1,1418.4 1559.5,1418.4 1560.9,1418.4 1562.3,1418.4 1563.7,1418.4 1565.1,1418.4 1566.5,1418.4 1567.9,1418.4 1569.3,1418.4 1570.7,1418.4 1572.1,1418.4 1573.6,1418.4 1575.0,1418.4 1576.4,1418.4 1577.8,1418.4 1579.2,1418.4 1580.6,1418.4 1582.0,1418.4 1583.4,1418.3 1584.8,1418.3 1586.2,1418.3 1587.6,1418.3 1589.0,1418.3 1590.4,1418.3 1591.8,1418.3 1593.2,1418.3 1594.7,1418.3 1596.1,1418.3 1597.5,1418.3 1598.9,1418.3 1600.3,1418.3 1601.7,1418.3 1603.1,1418.3 1604.5,1418.3 1605.9,1418.3 1607.3,1418.3 1608.7,1418.3 1610.1,1418.3 1611.5,1418.2 1612.9,1418.2 1614.3,1418.2 1615.8,1418.2 1617.2,1418.2 1618.6,1418.2 1620.0,1418.2 1621.4,1418.2 1622.8,1418.1 1624.2,1418.1 1625.6,1418.1 1627.0,1418.1 1628.4,1418.1 1629.8,1418.0 1631.2,1417.4 1632.6,1415.1 1634.0,1412.8 1635.4,1412.2 1636.9,1412.1 1638.3,1411.9 1639.7,1411.6 1641.1,1411.2 1642.5,1410.8 1643.9,1410.2 1645.3,1409.5 1646.7,1408.8 1648.1,1408.3 1649.5,1408.1 1650.9,1408.4 1652.3,1408.9 1653.7,1409.5 1655.1,1410.1 1656.5,1410.6 1658.0,1410.9 1659.4,1411.1 1660.8,1411.2 1662.2,1411.3 1663.6,1411.3 1665.0,1411.3 1666.4,1411.2 1667.8,1411.2 1669.2,1411.1 1670.6,1411.1 1672.0,1411.0 1673.4,1410.9 1674.8,1410.8 1676.2,1410.7 1677.6,1410.6 1679.1,1410.5 1680.5,1410.3 1681.9,1410.2 1683.3,1410.0 1684.7,1409.9 1686.1,1409.7 1687.5,1409.5 1688.9,1409.3 1690.3,1409.1 1691.7,1408.8 1693.1,1408.5 1694.5,1408.2 1695.9,1407.9 1697.3,1407.5 1698.7,1407.1 1700.2,1406.7 1701.6,1406.2 1701.7,1406.1 1701.9,1406.1 1702.1,1406.0 1702.3,1405.9 1702.4,1405.8 1702.6,1405.8 1702.8,1405.7 1703.0,1405.6 1703.1,1405.5 1703.3,1405.5 1703.5,1405.4 1703.7,1405.3 1703.8,1405.2 1704.0,1405.2 1704.2,1405.1 1704.4,1405.0 1704.6,1404.9 1704.7,1404.8 1704.9,1404.7 1705.1,1404.7 1705.3,1404.6 1705.4,1404.5 1705.6,1404.4 1705.8,1404.3 1706.0,1404.2 1706.1,1404.1 1706.3,1404.0 1706.5,1403.9 1706.7,1403.8 1706.8,1403.7 1707.0,1403.6 1707.2,1403.5 1707.4,1403.4 1707.5,1403.3 1707.7,1403.2 1707.9,1403.1 1708.1,1402.9 1708.2,1402.8 1708.4,1402.7 1708.6,1402.6 1708.8,1402.5 1708.9,1402.3 1709.1,1402.2 1709.3,1402.1 1709.5,1402.0 1709.6,1401.8 1709.8,1401.7 1710.0,1401.6 1710.2,1401.4 1710.4,1401.3 1710.5,1401.1 1710.7,1401.0 1710.9,1400.8 1711.1,1400.7 1711.2,1400.5 1711.4,1400.4 1711.6,1400.2 1711.8,1400.1 1711.9,1399.9 1712.1,1399.7 1712.3,1399.6 1712.5,1399.4 1712.6,1399.2 1712.8,1399.0 1713.0,1398.9 1713.2,1398.7 1713.3,1398.5 1713.5,1398.3 1713.7,1398.1 1713.9,1397.9 1714.0,1397.7 1714.2,1397.5 1714.4,1397.3 1714.6,1397.1 1714.7,1396.8 1714.9,1396.6 1715.1,1396.4 1715.3,1396.1 1715.5,1395.9 1715.6,1395.7 1715.8,1395.4 1716.0,1395.2 1716.2,1394.9 1716.3,1394.7 1716.5,1394.4 1716.7,1394.1 1716.9,1393.8 1717.0,1393.6 1717.2,1393.3 1717.4,1393.0 1717.6,1392.7 1717.7,1392.4 1717.9,1392.1 1718.1,1391.7 1718.3,1391.4 1718.4,1391.1 1718.6,1390.7 1718.8,1390.4 1719.0,1390.0 1719.1,1389.7 1719.3,1389.3 1719.5,1388.9 1719.7,1388.5 1719.8,1388.1 1720.0,1387.7 1720.2,1387.3 1720.4,1386.9 1720.6,1386.5 1720.7,1386.0 1720.9,1385.6 1721.1,1385.1 1721.3,1384.7 1721.4,1384.2 1721.6,1383.7 1721.8,1383.2 1722.0,1382.7 1722.1,1382.1 1722.3,1381.6 1722.5,1381.0 1722.7,1380.5 1722.8,1379.9 1723.0,1379.3 1723.2,1378.7 1723.4,1378.1 1723.5,1377.4 1723.7,1376.8 1723.9,1376.1 1724.1,1375.4 1724.2,1374.7 1724.4,1374.0 1724.6,1373.2 1724.8,1372.5 1724.9,1371.7 1725.1,1370.9 1725.3,1370.1 1725.5,1369.2 1725.7,1368.4 1725.8,1367.5 1726.0,1366.6 1726.2,1365.7 1726.4,1364.7 1726.5,1363.7 1726.7,1362.7 1726.9,1361.7 1727.1,1360.6 1727.2,1359.5 1727.4,1358.4 1727.6,1357.2 1727.8,1356.1 1727.9,1354.8 1728.1,1353.6 1728.3,1352.3 1728.5,1351.0 1728.6,1349.6 1728.8,1348.3 1729.0,1346.8 1729.2,1345.3 1729.3,1343.8 1729.5,1342.2 1729.7,1340.6 1729.9,1339.0 1730.0,1337.3 1730.2,1335.5 1730.4,1333.7 1730.6,1331.8 1730.7,1329.9 1730.9,1327.9 1731.1,1325.8 1731.3,1323.7 1731.5,1321.5 1731.6,1319.2 1731.8,1316.9 1732.0,1314.5 1732.2,1312.0 1732.3,1309.4 1732.5,1306.8 1732.7,1304.0 1732.9,1301.2 1733.0,1298.2 1733.2,1295.2 1733.4,1292.1 1733.6,1288.9 1733.7,1285.5 1733.9,1282.1 1734.1,1278.5 1734.3,1274.8 1734.4,1270.9 1734.6,1267.0 1734.8,1262.9 1735.0,1258.6 1735.1,1254.2 1735.3,1249.7 1735.5,1245.0 1735.7,1240.1 1735.8,1235.1 1736.0,1229.8 1736.2,1224.4 1736.4,1218.8 1736.6,1213.0 1736.7,1206.9 1736.9,1200.7 1737.1,1194.2 1737.3,1187.5 1737.4,1180.5 1737.6,1173.3 1737.8,1165.9 1738.0,1158.1 1738.1,1150.1 1738.3,1141.8 1738.5,1133.1 1738.7,1124.2 1738.8,1114.9 1739.0,1105.4 1739.2,1095.4 1739.4,1085.1 1739.5,1074.5 1739.7,1063.4 1739.9,1052.0 1740.1,1040.2 1740.2,1028.0 1740.4,1015.3 1740.6,1002.3 1740.8,988.8 1740.9,974.8 1741.1,960.4 1741.3,945.6 1741.5,930.3 1741.7,914.6 1741.8,898.3 1742.0,881.7 1742.2,864.5 1742.4,847.0 1742.5,828.9 1742.7,810.5 1742.9,791.6 1743.1,772.4 1743.2,752.7 1743.4,732.7 1743.6,712.4 1743.8,691.7 1743.9,670.9 1744.1,649.8 1744.3,628.6 1744.5,607.2 1744.6,585.8 1744.8,564.4 1745.0,543.1 1745.2,522.0 1745.3,501.1 1745.5,480.6 1745.7,460.4 1745.9,440.8 1746.0,421.7 1746.2,403.4 1746.4,385.8 1746.6,369.2 1746.8,353.5 1746.9,338.9 1747.1,325.4 1747.3,313.2 1747.5,302.4 1747.6,292.9 1747.8,284.9 1748.0,278.5 1748.2,273.6 1748.3,270.3 1748.5,268.6 1748.7,268.6 1748.9,270.2 1749.0,273.5 1749.2,278.3 1749.4,284.8 1749.6,292.7 1749.7,302.2 1749.9,313.0 1750.1,325.2 1750.3,338.6 1750.4,353.2 1750.6,368.9 1750.8,385.5 1751.0,403.1 1751.1,421.4 1751.3,440.5 1751.5,460.1 1751.7,480.3 1751.8,500.8 1752.0,521.7 1752.2,542.9 1752.4,564.2 1752.6,585.6 1752.7,607.0 1752.9,628.4 1753.1,649.6 1753.3,670.7 1753.4,691.7 1753.6,712.3 1753.8,732.7 1754.0,752.7 1754.1,772.4 1754.3,791.7 1754.5,810.6 1754.7,829.1 1754.8,847.2 1755.0,864.8 1755.2,882.0 1755.4,898.7 1755.5,914.9 1755.7,930.7 1755.9,946.0 1756.1,960.9 1756.2,975.3 1756.4,989.3 1756.6,1002.9 1756.8,1016.0 1756.9,1028.6 1757.1,1040.9 1757.3,1052.8 1757.5,1064.2 1757.7,1075.3 1757.8,1086.0 1758.0,1096.3 1758.2,1106.3 1758.4,1115.9 1758.5,1125.2 1758.7,1134.2 1758.9,1142.8 1759.1,1151.2 1759.2,1159.3 1759.4,1167.0 1759.6,1174.5 1759.8,1181.8 1759.9,1188.8 1760.1,1195.5 1760.3,1202.0 1760.5,1208.3 1760.6,1214.4 1760.8,1220.2 1761.0,1225.9 1761.2,1231.3 1761.3,1236.6 1761.5,1241.7 1761.7,1246.6 1761.9,1251.3 1762.0,1255.9 1762.2,1260.3 1762.4,1264.6 1762.6,1268.7 1762.8,1272.7 1762.9,1276.6 1763.1,1280.3 1763.3,1283.9 1763.5,1287.4 1763.6,1290.8 1763.8,1294.0 1764.0,1297.2 1764.2,1300.2 1764.3,1303.2 1764.5,1306.0 1764.7,1308.8 1764.9,1311.5 1765.0,1314.1 1765.2,1316.6 1765.4,1319.0 1765.6,1321.4 1765.7,1323.7 1765.9,1325.9 1766.1,1328.1 1766.3,1330.1 1766.4,1332.2 1766.6,1334.1 1766.8,1336.0 1767.0,1337.9 1767.1,1339.7 1767.3,1341.4 1767.5,1343.1 1767.7,1344.7 1767.9,1346.3 1768.0,1347.9 1768.2,1349.4 1768.4,1350.9 1768.6,1352.3 1768.7,1353.7 1768.9,1355.0 1769.1,1356.3 1769.3,1357.6 1769.4,1358.8 1769.6,1360.0 1769.8,1361.2 1770.0,1362.3 1770.1,1363.4 1770.3,1364.5 1770.5,1365.5 1770.7,1366.6 1770.8,1367.6 1771.0,1368.5 1771.2,1369.5 1771.4,1370.4 1771.5,1371.3 1771.7,1372.2 1771.9,1373.0 1772.1,1373.8 1772.2,1374.6 1772.4,1375.4 1772.6,1376.2 1772.8,1377.0 1772.9,1377.7 1773.1,1378.4 1773.3,1379.1 1773.5,1379.8 1773.7,1380.4 1773.8,1381.1 1774.0,1381.7 1774.2,1382.3 1774.4,1383.0 1774.5,1383.5 1774.7,1384.1 1774.9,1384.7 1775.1,1385.2 1775.2,1385.8 1775.4,1386.3 1775.6,1386.8 1775.8,1387.3 1775.9,1387.8 1776.1,1388.3 1776.3,1388.8 1776.5,1389.2 1776.6,1389.7 1776.8,1390.1 1777.0,1390.5 1777.2,1391.0 1777.3,1391.4 1777.5,1391.8 1777.7,1392.2 1777.9,1392.6 1778.0,1393.0 1778.2,1393.3 1778.4,1393.7 1778.6,1394.0 1778.8,1394.4 1778.9,1394.7 1779.1,1395.1 1779.3,1395.4 1779.5,1395.7 1779.6,1396.0 1779.8,1396.4 1780.0,1396.7 1780.2,1397.0 1780.3,1397.3 1780.5,1397.5 1780.7,1397.8 1780.9,1398.1 1781.0,1398.4 1781.2,1398.6 1781.4,1398.9 1781.6,1399.2 1781.7,1399.4 1781.9,1399.7 1782.1,1399.9 1782.3,1400.1 1782.4,1400.4 1782.6,1400.6 1782.8,1400.8 1783.0,1401.0 1783.1,1401.3 1783.3,1401.5 1783.5,1401.7 1783.7,1401.9 1783.9,1402.1 1784.0,1402.3 1784.2,1402.5 1784.4,1402.7 1784.6,1402.9 1784.7,1403.1 1784.9,1403.2 1785.1,1403.4 1785.3,1403.6 1785.4,1403.8 1785.6,1403.9 1785.8,1404.1 1786.0,1404.3 1786.1,1404.4 1786.3,1404.6 1786.5,1404.8 1786.7,1404.9 1786.8,1405.1 1787.0,1405.2 1787.2,1405.4 1787.4,1405.5 1787.5,1405.6 1787.7,1405.8 1787.9,1405.9 1788.1,1406.0 1788.2,1406.2 1788.4,1406.3 1788.6,1406.4 1788.8,1406.5 1789.0,1406.6 1789.1,1406.8 1789.3,1406.9 1789.5,1407.0 1789.7,1407.1 1789.8,1407.2 1790.0,1407.3 1790.2,1407.4 1790.4,1407.5 1790.5,1407.6 1790.7,1407.7 1790.9,1407.8 1791.1,1407.9 1791.2,1408.0 1791.4,1408.1 1791.6,1408.2 1791.8,1408.3 1791.9,1408.4 1792.1,1408.4 1792.3,1408.5 1792.5,1408.6 1792.6,1408.7 1792.8,1408.8 1793.0,1408.9 1793.2,1408.9 1793.3,1409.0 1793.5,1409.1 1793.7,1409.2 1793.9,1409.3 1794.0,1409.3 1794.2,1409.4 1794.4,1409.5 1794.6,1409.5 1794.8,1409.6 1794.9,1409.7 1795.1,1409.8 1795.3,1409.8 1795.5,1409.9 1795.6,1410.0 1795.8,1410.0 1796.0,1410.1 1796.2,1410.1 1796.3,1410.2 1797.7,1410.7 1799.1,1411.1 1800.6,1411.5 1802.0,1411.8 1803.4,1412.1 1804.8,1412.4 1806.2,1412.7 1807.6,1412.9 1809.0,1413.1 1810.4,1413.3 1811.8,1413.5 1813.2,1413.6 1814.6,1413.8 1816.0,1413.9 1817.4,1414.1 1818.8,1414.2 1820.2,1414.3 1821.7,1414.4 1823.1,1414.5 1824.5,1414.6 1825.9,1414.7 1827.3,1414.8 1828.7,1414.8 1830.1,1414.9 1831.5,1415.0 1832.9,1415.0 1834.3,1415.1 1835.7,1415.1 1837.1,1415.2 1838.5,1415.2 1839.9,1415.3 1841.3,1415.3 1842.8,1415.4 1844.2,1415.4 1845.6,1415.4 1847.0,1415.5 1848.4,1415.5 1849.8,1415.6 1851.2,1415.6 1852.6,1415.6 1854.0,1415.6 1855.4,1415.7 1856.8,1415.7 1858.2,1415.7 1859.6,1415.7 1861.0,1415.8 1862.4,1415.8 1863.9,1415.8 1865.3,1415.8 1866.7,1415.9 1868.1,1415.9 1869.5,1415.9 1870.9,1415.9 1872.3,1415.9 1873.7,1415.9 1875.1,1416.0 1876.5,1416.0 1877.9,1416.0 1879.3,1416.0 1880.7,1416.0 1882.1,1416.0 1883.5,1416.1 1885.0,1416.1 1886.4,1416.1 1887.8,1416.1 1889.2,1416.1 1890.6,1416.1 1892.0,1416.1 1893.4,1416.1 1894.8,1416.2 1896.2,1416.2 1897.6,1416.2 1899.0,1416.2 1900.4,1416.2 1901.8,1416.2 1903.2,1416.2 1904.6,1416.2 1906.1,1416.2 1907.5,1416.2 1908.9,1416.3 1910.3,1416.3 1911.7,1416.3 1913.1,1416.3 1914.5,1416.3 1915.9,1416.3 1917.3,1416.3 1918.7,1416.3 1920.1,1416.3 1921.5,1416.3 1922.9,1416.3 1924.3,1416.4 1925.7,1416.4 1927.2,1416.4 1928.6,1417.2 1930.0,1419.5 1931.4,1421.8 1932.8,1422.1 1934.2,1422.1 1935.6,1422.1 1937.0,1422.1 1938.4,1422.1 1939.8,1422.1 1941.2,1422.1 1942.6,1422.1 1944.0,1422.1 1945.4,1422.1 1946.8,1422.1 1948.3,1422.1 1949.7,1422.1 1951.1,1422.1 1952.5,1422.1 1953.9,1422.1 1955.3,1422.1 1956.7,1422.1 1958.1,1422.1 1959.5,1422.1 1960.9,1422.1 1962.3,1422.1 1963.7,1422.1 1965.1,1422.1 1966.5,1422.1 1967.9,1422.1 1969.4,1422.1 1970.8,1422.1 1972.2,1422.1 1973.6,1422.1 1975.0,1422.1 1976.4,1422.1 1977.8,1422.1 1979.2,1422.1 1980.6,1422.1 1982.0,1422.1 1983.4,1422.1 1984.8,1422.1 1986.2,1422.1 1987.6,1422.1 1989.0,1422.1 1990.5,1422.1 1991.9,1422.1 1993.3,1422.1 1994.7,1422.1 1996.1,1422.1 1997.5,1422.2 1998.9,1422.2 2000.3,1422.2 2001.7,1422.2 2003.1,1422.2 2004.5,1422.2 2005.9,1422.2 2007.3,1422.2 2008.7,1422.2 2010.1,1422.2 2011.6,1422.2 2013.0,1422.2 2014.4,1422.2 2015.8,1422.2 2017.2,1422.2 2018.6,1422.2 2020.0,1422.2 2021.4,1422.2 2022.8,1422.2 2024.2,1422.2 2025.6,1422.2 2027.0,1422.2 2028.4,1422.2 2029.8,1422.2 2031.2,1422.2 2032.7,1422.2 2034.1,1422.2 2035.5,1422.2 2036.9,1422.2 2038.3,1422.2 2039.7,1422.2 2041.1,1422.2 2042.5,1422.2 2043.9,1422.2 2045.3,1422.2 2046.7,1422.2 2048.1,1422.2 2049.5,1422.2 2050.9,1422.2 2052.3,1422.2 2053.8,1422.2 2055.2,1422.2 2056.6,1422.2 2058.0,1422.2 2059.4,1422.2 2060.8,1422.2 2062.2,1422.2 2063.6,1422.2 2065.0,1422.2 2066.4,1422.2 2067.8,1422.2 2069.2,1422.2 2070.6,1422.2 2072.0,1422.2 2073.4,1422.2 2074.9,1422.2 2076.3,1422.2 2077.7,1422.2 2079.1,1422.2 2080.5,1422.2 2081.9,1422.2 2083.3,1422.2 2084.7,1422.2 2086.1,1422.2 2087.5,1422.2 2088.9,1422.2 2090.3,1422.2 2091.7,1422.2 2093.1,1422.2 2094.5,1422.2 2096.0,1422.2 2097.4,1422.2 2098.8,1422.2 2100.2,1422.2 2101.6,1422.2 2103.0,1422.2 2104.4,1422.2 2105.8,1422.2 2107.2,1422.2 2108.6,1422.2 2110.0,1422.2 2111.4,1422.2 2112.8,1422.2 2114.2,1422.2 2115.6,1422.2 2117.1,1422.2 2118.5,1422.2 2119.9,1422.2 2121.3,1422.2 2122.7,1422.2 2124.1,1422.2 2125.5,1422.2 2126.9,1422.2 2128.3,1422.2 2129.7,1422.2 2131.1,1422.2 2132.5,1422.2 2133.9,1422.2 2135.3,1422.2 2136.7,1422.2 2138.2,1422.2 2139.6,1422.2 2141.0,1422.2 2142.4,1422.2 2143.8,1422.2 2145.2,1422.2 2146.6,1422.2 2148.0,1422.2 2149.4,1422.2 2150.8,1422.2 2152.2,1422.2 2153.6,1422.2 2155.0,1422.2 2156.4,1422.2 2157.8,1422.2 2159.3,1422.2 2160.7,1422.2 2162.1,1422.2 2163.5,1422.2 2164.9,1422.2 2166.3,1422.2 2167.7,1422.2 2169.1,1422.2 2170.5,1422.2 2171.9,1422.2 2173.3,1422.2 2174.7,1422.2 2176.1,1422.2 2177.5,1422.2 2178.9,1422.2 2180.4,1422.2 2181.8,1422.2 2183.2,1422.2 2184.6,1422.2 2186.0,1422.2 2187.4,1422.2 2188.8,1422.2 2190.2,1422.2 2191.6,1422.2 2193.0,1422.2 2194.4,1422.2 2195.8,1422.2 2197.2,1422.2 2198.6,1422.2 2200.0,1422.2 2201.5,1422.2 2202.9,1422.2 2204.3,1422.2 2205.7,1422.2 2207.1,1422.2 2208.5,1422.2 2209.9,1422.2 2211.3,1422.2 2212.7,1422.2 2214.1,1422.2 2215.5,1422.2 2216.9,1422.2 2218.3,1422.2 2219.7,1422.2 2221.1,1422.2 2222.6,1422.2 2224.0,1422.2 2225.4,1422.2 2226.8,1422.2 2228.2,1422.2 2229.6,1422.2 2231.0,1422.2 2232.4,1422.2 2233.8,1422.2 2235.2,1422.2 2236.6,1422.2 2238.0,1422.2 2239.4,1422.2 2240.8,1422.2 2242.2,1422.2 2243.7,1422.2 2245.1,1422.2 2246.5,1422.2 2247.9,1422.2 2249.3,1422.2 2250.7,1422.2 2252.1,1422.2 2253.5,1422.2 2254.9,1422.2 2256.3,1422.2 2257.7,1422.2 2259.1,1422.2 2260.5,1422.2 2261.9,1422.2 2263.3,1422.2 2264.8,1422.2 2266.2,1422.2 2267.6,1422.2 2269.0,1422.2 2270.4,1422.2 2271.8,1422.2 2273.2,1422.2 2274.6,1422.2 2276.0,1422.2 2277.4,1422.2 2278.8,1422.2 2280.2,1422.2 2281.6,1422.2 2283.0,1422.2 2284.4,1422.2 2285.9,1422.2 2287.3,1422.2 2288.7,1422.2 2290.1,1422.2 2291.5,1422.2 2292.9,1422.2 2294.3,1422.2 2295.7,1422.2 2297.1,1422.2 2298.5,1422.2 2299.9,1422.2 2301.3,1422.2 2302.7,1422.2 2304.1,1422.2 2305.5,1422.2 2307.0,1422.2 2308.4,1422.2 2309.8,1422.2 2311.2,1422.2 2312.6,1422.2 2314.0,1422.2 2315.4,1422.2 2316.8,1422.2 2318.2,1422.2 2319.6,1422.2 2321.0,1422.2 2322.4,1422.2 2323.8,1422.2 2325.2,1422.2 2326.6,1422.2 2328.1,1422.2 2329.5,1422.2 2330.9,1422.2 2332.3,1422.2 2333.7,1422.2 2335.1,1422.2 2336.5,1422.2 2337.9,1422.2 2339.3,1422.2 2340.7,1422.2 2342.1,1422.2" fill="none" stroke="#ff0000" stroke-width="7.2" stroke-linejoin="round"/>
<polyline points="233.0,1316.0 234.4,1316.0 235.8,1316.0 237.2,1316.0 238.6,1316.0 240.0,1316.0 241.4,1316.0 242.8,1316.0 244.3,1316.0 245.7,1316.1 247.1,1316.1 248.5,1316.1 249.9,1316.1 251.3,1316.1 252.7,1316.1 254.1,1316.1 255.5,1316.1 256.9,1316.1 258.3,1316.1 259.7,1316.1 261.1,1316.1 262.5,1316.1 263.9,1316.1 265.4,1316.1 266.8,1316.1 268.2,1316.1 269.6,1316.2 271.0,1316.2 272.4,1316.2 273.8,1316.2 275.2,1316.2 276.6,1316.2 278.0,1316.2 279.4,1316.2 280.8,1316.2 282.2,1316.2 283.6,1316.2 285.0,1316.2 286.5,1316.2 287.9,1316.2 289.3,1316.2 290.7,1316.2 292.1,1316.3 293.5,1316.3 294.9,1316.3 296.3,1316.3 297.7,1316.3 299.1,1316.3 300.5,1316.3 301.9,1316.3 303.3,1316.3 304.7,1316.3 306.1,1316.3 307.6,1316.3 309.0,1316.3 310.4,1316.3 311.8,1316.3 313.2,1316.3 314.6,1316.3 316.0,1316.4 317.4,1316.4 318.8,1316.4 320.2,1316.4 321.6,1316.4 323.0,1316.4 324.4,1316.4 325.8,1316.4 327.2,1316.4 328.7,1316.4 330.1,1316.4 331.5,1316.4 332.9,1316.4 334.3,1316.4 335.7,1316.4 337.1,1316.4 338.5,1316.4 339.9,1316.5 341.3,1316.5 342.7,1316.5 344.1,1316.5 345.5,1316.5 346.9,1316.5 348.3,1316.5 349.8,1316.5 351.2,1316.5 352.6,1316.5 354.0,1316.5 355.4,1316.5 356.8,1316.5 358.2,1316.5 359.6,1316.5 361.0,1316.5 362.4,1316.5 363.8,1316.6 365.2,1316.6 366.6,1316.6 368.0,1316.6 369.4,1316.6 370.9,1316.6 372.3,1316.6 373.7,1316.6 375.1,1316.6 376.5,1316.6 377.9,1316.6 379.3,1316.6 380.7,1316.6 382.1,1316.6 383.5,1316.6 384.9,1316.6 386.3,1316.7 387.7,1316.7 389.1,1316.7 390.5,1316.7 392.0,1316.7 393.4,1316.7 394.8,1316.7 396.2,1316.7 397.6,1316.7 399.0,1316.7 400.4,1316.7 401.8,1316.7 403.2,1316.7 404.6,1316.7 406.0,1316.7 407.4,1316.7 408.8,1316.7 410.2,1316.8 411.6,1316.8 413.1,1316.8 414.5,1316.8 415.9,1316.8 417.3,1316.8 418.7,1316.8 420.1,1316.8 421.5,1316.8 422.9,1316.8 424.3,1316.8 425.7,1316.8 427.1,1316.8 428.5,1316.8 429.9,1316.8 431.3,1316.8 432.7,1316.8 434.2,1316.9 435.6,1316.9 437.0,1316.9 438.4,1316.9 439.8,1316.9 441.2,1316.9 442.6,1316.9 444.0,1316.9 445.4,1316.9 446.8,1316.9 448.2,1316.9 449.6,1316.9 451.0,1316.9 452.4,1316.9 453.8,1316.9 455.3,1316.9 456.7,1316.9 458.1,1317.0 459.5,1317.0 460.9,1317.0 462.3,1317.0 463.7,1317.0 465.1,1317.0 466.5,1317.0 467.9,1317.0 469.3,1317.0 470.7,1317.0 472.1,1317.0 473.5,1317.0 474.9,1317.0 476.4,1317.0 477.8,1317.0 479.2,1317.0 480.6,1317.1 482.0,1317.1 483.4,1317.1 484.8,1317.1 486.2,1317.1 487.6,1317.1 489.0,1317.1 490.4,1317.1 491.8,1317.1 493.2,1317.1 494.6,1317.1 496.0,1317.1 497.5,1317.1 498.9,1317.1 500.3,1317.1 501.7,1317.1 503.1,1317.1 504.5,1317.2 505.9,1317.2 507.3,1317.2 508.7,1317.2 510.1,1317.2 511.5,1317.2 512.9,1317.2 514.3,1317.2 515.7,1317.2 517.1,1317.2 518.6,1317.2 520.0,1317.2 521.4,1317.2 522.8,1317.2 524.2,1317.2 525.6,1317.2 527.0,1317.2 528.4,1317.3 529.8,1317.3 531.2,1317.3 532.6,1317.3 534.0,1317.3 535.4,1317.3 536.8,1317.3 538.2,1317.3 539.7,1317.3 541.1,1317.3 542.5,1317.3 543.9,1317.3 545.3,1317.3 546.7,1317.3 548.1,1317.3 549.5,1317.3 550.9,1317.3 552.3,1317.3 553.7,1317.4 555.1,1317.4 556.5,1317.4 557.9,1317.4 559.3,1317.4 560.8,1317.4 562.2,1317.4 563.6,1317.4 565.0,1317.4 566.4,1317.4 567.8,1317.4 569.2,1317.4 570.6,1317.4 572.0,1317.4 573.4,1317.4 574.8,1317.4 576.2,1317.4 577.6,1317.5 579.0,1317.5 580.4,1317.5 581.9,1317.5 583.3,1317.5 584.7,1317.5 586.1,1317.5 587.5,1317.5 588.9,1317.5 590.3,1317.5 591.7,1317.5 593.1,1317.5 594.5,1317.5 595.9,1317.5 597.3,1317.5 598.7,1317.5 600.1,1317.5 601.5,1317.5 603.0,1317.5 604.4,1317.5 605.8,1317.5 607.2,1317.6 608.6,1317.6 610.0,1317.6 611.4,1317.6 612.8,1317.6 614.2,1317.6 615.6,1317.6 617.0,1317.6 618.4,1317.6 619.8,1317.6 621.2,1317.6 622.6,1317.6 624.1,1317.6 625.5,1317.6 626.9,1317.5 628.3,1317.5 629.7,1317.5 631.1,1317.5 632.5,1317.5 633.9,1317.4 635.3,1317.4 636.7,1317.2 638.1,1317.1 639.5,1316.8 640.9,1316.5 642.3,1316.0 643.7,1315.4 645.2,1314.9 646.6,1314.4 648.0,1314.2 649.4,1314.4 650.8,1314.9 652.2,1315.5 653.6,1316.0 655.0,1316.5 656.4,1316.9 657.8,1317.2 659.2,1317.3 660.6,1317.5 662.0,1317.5 663.4,1317.6 664.8,1317.6 666.3,1317.7 667.7,1317.7 669.1,1317.7 670.5,1317.7 671.9,1317.7 673.3,1317.8 674.7,1317.8 676.1,1317.8 677.5,1317.8 678.9,1317.8 680.3,1317.8 681.7,1317.8 683.1,1317.8 684.5,1317.8 685.9,1317.8 687.4,1317.8 688.8,1317.8 690.2,1317.9 691.6,1317.9 693.0,1317.9 694.4,1317.9 695.8,1317.9 697.2,1317.9 698.6,1317.9 700.0,1317.9 701.4,1317.9 702.8,1317.9 704.2,1317.9 705.6,1317.9 707.0,1317.9 708.5,1317.9 709.9,1317.9 711.3,1317.9 712.7,1317.9 714.1,1317.9 715.5,1317.9 716.9,1317.8 718.3,1317.8 719.7,1317.8 721.1,1317.8 722.5,1317.8 723.9,1317.8 725.3,1317.7 726.7,1317.7 728.1,1317.7 729.6,1317.6 731.0,1317.6 732.4,1317.5 733.8,1317.4 735.2,1317.2 736.6,1317.0 738.0,1316.7 739.4,1316.2 740.8,1315.6 742.2,1314.7 743.6,1313.6 745.0,1312.3 746.4,1310.8 747.8,1309.3 749.2,1308.0 750.7,1307.3 752.1,1307.3 753.5,1308.1 754.9,1309.3 756.3,1310.9 757.7,1312.3 759.1,1313.7 760.5,1314.8 761.9,1315.7 763.3,1316.3 764.7,1316.8 766.1,1317.1 767.5,1317.4 768.9,1317.5 770.3,1317.6 771.8,1317.7 773.2,1317.8 774.6,1317.9 776.0,1317.9 777.4,1318.0 778.8,1318.0 780.2,1318.0 781.6,1318.1 783.0,1318.1 784.4,1318.1 785.8,1318.1 787.2,1318.1 788.6,1318.2 790.0,1318.2 791.4,1318.2 792.9,1318.2 794.3,1318.2 795.7,1318.1 797.1,1318.1 798.5,1317.9 799.9,1317.7 801.3,1317.3 802.7,1316.7 804.1,1316.4 805.5,1316.5 806.9,1317.0 808.3,1317.5 809.7,1317.9 811.1,1318.1 812.5,1318.2 814.0,1318.3 815.4,1318.3 816.8,1318.4 818.2,1318.4 819.6,1318.4 821.0,1318.4 822.4,1318.4 823.8,1318.4 825.2,1318.5 826.6,1318.5 828.0,1318.5 829.4,1318.5 830.8,1318.5 832.2,1318.5 833.6,1318.5 835.1,1318.5 836.5,1318.5 837.9,1318.5 839.3,1318.5 840.7,1318.6 842.1,1318.6 843.5,1318.6 844.9,1318.6 846.3,1318.6 847.7,1318.6 849.1,1318.6 850.5,1318.6 851.9,1318.6 853.3,1318.6 854.7,1318.6 856.2,1318.6 857.6,1318.6 859.0,1318.6 860.4,1318.7 861.8,1318.7 863.2,1318.7 864.6,1318.7 866.0,1318.7 867.4,1318.7 868.8,1318.7 870.2,1318.7 871.6,1318.7 873.0,1318.7 874.4,1318.7 875.8,1318.7 877.3,1318.7 878.7,1318.7 880.1,1318.7 881.5,1318.7 882.9,1318.8 884.3,1318.8 885.7,1318.8 887.1,1318.8 888.5,1318.8 889.9,1318.8 891.3,1318.8 892.7,1318.8 894.1,1318.8 895.5,1318.8 896.9,1318.8 898.4,1318.8 899.8,1318.8 901.2,1318.8 902.6,1318.8 904.0,1318.8 905.4,1318.9 906.8,1318.9 908.2,1318.9 909.6,1318.9 911.0,1318.9 912.4,1318.9 913.8,1318.9 915.2,1318.9 916.6,1318.9 918.0,1318.9 919.5,1318.9 920.9,1318.9 922.3,1318.9 923.7,1318.9 925.1,1318.9 926.5,1318.9 927.9,1319.0 929.3,1319.0 930.7,1319.0 932.1,1319.0 933.5,1319.0 934.9,1319.0 936.3,1319.0 937.7,1319.0 939.1,1319.0 940.6,1319.0 942.0,1319.0 943.4,1319.0 944.8,1319.0 946.2,1319.0 947.6,1319.0 949.0,1319.0 950.4,1319.0 951.8,1319.0 953.2,1319.0 954.6,1319.0 956.0,1319.0 957.4,1319.0 958.8,1319.0 960.2,1319.0 961.7,1319.0 963.1,1319.0 964.5,1319.0 965.9,1319.0 967.3,1319.0 968.7,1319.0 970.1,1319.0 971.5,1319.0 972.9,1319.0 974.3,1319.0 975.7,1319.0 977.1,1319.0 978.5,1319.0 979.9,1319.0 981.3,1319.0 982.8,1319.0 984.2,1319.0 985.6,1319.0 987.0,1319.0 988.4,1319.0 989.8,1319.0 991.2,1319.0 992.6,1319.0 994.0,1319.0 995.4,1319.0 996.8,1319.0 998.2,1319.0 999.6,1319.0 1001.0,1319.0 1002.4,1319.0 1003.9,1319.0 1005.3,1319.0 1006.7,1319.0 1008.1,1319.0 1009.5,1319.0 1010.9,1319.0 1012.3,1319.0 1013.7,1319.0 1015.1,1319.0 1016.5,1319.0 1017.9,1319.0 1019.3,1319.0 1020.7,1319.0 1022.1,1319.0 1023.5,1319.0 1025.0,1319.0 1026.4,1319.0 1027.8,1319.0 1029.2,1319.0 1030.6,1319.0 1032.0,1319.0 1033.4,1319.0 1034.8,1319.0 1036.2,1319.0 1037.6,1319.0 1039.0,1319.0 1040.4,1319.0 1041.8,1319.0 1043.2,1319.0 1044.6,1319.0 1046.1,1319.0 1047.5,1319.0 1048.9,1319.0 1050.3,1319.0 1051.7,1319.0 1053.1,1319.0 1054.5,1319.0 1055.9,1319.0 1057.3,1319.0 1058.7,1319.0 1060.1,1319.0 1061.5,1319.0 1062.9,1319.0 1064.3,1319.0 1065.7,1319.0 1067.2,1319.0 1068.6,1319.0 1070.0,1319.0 1071.4,1319.0 1072.8,1319.0 1074.2,1319.0 1075.6,1319.0 1077.0,1319.0 1078.4,1319.0 1079.8,1319.0 1081.2,1319.0 1082.6,1319.0 1084.0,1319.0 1085.4,1319.0 1086.8,1319.0 1088.3,1319.0 1089.7,1319.0 1091.1,1319.0 1092.5,1319.0 1093.9,1319.0 1095.3,1319.0 1096.7,1319.0 1098.1,1319.0 1099.5,1319.0 1100.9,1319.0 1102.3,1319.0 1103.7,1319.0 1105.1,1319.0 1106.5,1319.0 1107.9,1319.0 1109.4,1319.0 1110.8,1319.0 1112.2,1319.0 1113.6,1319.0 1115.0,1319.0 1116.4,1319.0 1117.8,1319.0 1119.2,1319.0 1120.6,1319.0 1122.0,1319.0 1123.4,1319.0 1124.8,1319.0 1126.2,1319.0 1127.6,1319.0 1129.0,1319.0 1130.5,1319.0 1131.9,1319.0 1133.3,1319.0 1134.7,1319.0 1136.1,1319.0 1137.5,1319.0 1138.9,1319.0 1140.3,1319.0 1141.7,1319.0 1143.1,1319.0 1144.5,1319.0 1145.9,1319.0 1147.3,1319.0 1148.7,1319.0 1150.1,1319.0 1151.6,1319.0 1153.0,1319.0 1154.4,1319.0 1155.8,1319.0 1157.2,1319.0 1158.6,1319.0 1160.0,1319.0 1161.4,1319.0 1162.8,1319.0 1164.2,1319.0 1165.6,1319.0 1167.0,1319.0 1168.4,1319.0 1169.8,1319.0 1171.2,1319.0 1172.7,1319.0 1174.1,1319.0 1175.5,1319.0 1176.9,1319.0 1178.3,1319.0 1179.7,1319.0 1181.1,1319.0 1182.5,1319.0 1183.9,1319.0 1185.3,1319.0 1186.7,1319.0 1188.1,1319.0 1189.5,1319.0 1190.9,1319.0 1192.3,1319.0 1193.8,1319.0 1195.2,1319.0 1196.6,1319.0 1198.0,1319.0 1199.4,1319.0 1200.8,1319.0 1202.2,1319.0 1203.6,1319.0 1205.0,1319.0 1206.4,1319.0 1207.8,1319.0 1209.2,1319.0 1210.6,1319.0 1212.0,1319.0 1213.4,1319.0 1214.9,1319.0 1216.3,1319.0 1217.7,1319.0 1219.1,1319.0 1220.5,1319.0 1221.9,1319.0 1223.3,1319.0 1224.7,1319.0 1226.1,1319.0 1227.5,1319.0 1228.9,1319.0 1230.3,1319.0 1231.7,1319.0 1233.1,1319.0 1234.5,1319.0 1236.0,1319.0 1237.4,1319.0 1238.8,1319.0 1240.2,1319.0 1241.6,1319.0 1243.0,1319.0 1244.4,1319.0 1245.8,1319.0 1247.2,1319.0 1248.6,1319.0 1250.0,1319.0 1251.4,1319.0 1252.8,1319.0 1254.2,1319.0 1255.6,1319.0 1257.1,1319.0 1258.5,1319.0 1259.9,1319.0 1261.3,1319.0 1262.7,1319.0 1264.1,1319.0 1265.5,1319.0 1266.9,1319.0 1268.3,1319.0 1269.7,1319.0 1271.1,1319.0 1272.5,1319.0 1273.9,1319.0 1275.3,1319.0 1276.7,1319.0 1278.2,1319.0 1279.6,1319.0 1281.0,1319.0 1282.4,1319.0 1283.8,1319.0 1285.2,1319.0 1286.6,1319.0 1288.0,1319.0 1289.4,1319.0 1290.8,1319.0 1292.2,1319.0 1293.6,1319.0 1295.0,1319.0 1296.4,1319.0 1297.8,1319.0 1299.3,1319.0 1300.7,1319.0 1302.1,1319.0 1303.5,1319.0 1304.9,1319.0 1306.3,1319.0 1307.7,1319.0 1309.1,1319.0 1310.5,1319.0 1311.9,1319.0 1313.3,1319.0 1314.7,1319.0 1316.1,1319.0 1317.5,1319.0 1318.9,1319.0 1320.4,1319.0 1321.8,1319.0 1323.2,1319.0 1324.6,1319.0 1326.0,1319.0 1327.4,1319.0 1328.8,1319.0 1330.2,1319.0 1331.6,1319.0 1333.0,1319.0 1334.4,1319.0 1335.8,1319.0 1337.2,1319.0 1338.6,1319.0 1340.0,1319.0 1341.5,1319.0 1342.9,1319.0 1344.3,1319.0 1345.7,1319.0 1347.1,1319.0 1348.5,1319.0 1349.9,1319.0 1351.3,1319.0 1352.7,1319.0 1354.1,1319.0 1355.5,1319.0 1356.9,1319.0 1358.3,1319.0 1359.7,1319.0 1361.1,1319.0 1362.6,1319.0 1364.0,1319.0 1365.4,1319.0 1366.8,1319.0 1368.2,1319.0 1369.6,1319.0 1371.0,1319.0 1372.4,1319.0 1373.8,1319.0 1375.2,1319.0 1376.6,1319.0 1378.0,1319.0 1379.4,1319.0 1380.8,1319.0 1382.2,1319.0 1383.7,1319.0 1385.1,1319.0 1386.5,1319.0 1387.9,1319.0 1389.3,1319.0 1390.7,1319.0 1392.1,1319.0 1393.5,1319.0 1394.9,1319.0 1396.3,1319.0 1397.7,1319.0 1399.1,1319.0 1400.5,1319.0 1401.9,1319.0 1403.3,1319.0 1404.8,1319.0 1406.2,1319.0 1407.6,1319.0 1409.0,1319.0 1410.4,1319.0 1411.8,1319.0 1413.2,1319.0 1414.6,1319.0 1416.0,1319.0 1417.4,1319.0 1418.8,1319.0 1420.2,1319.0 1421.6,1319.0 1423.0,1319.0 1424.4,1319.0 1425.9,1319.0 1427.3,1319.0 1428.7,1319.0 1430.1,1319.0 1431.5,1319.0 1432.9,1319.0 1434.3,1319.0 1435.7,1319.0 1437.1,1319.0 1438.5,1319.0 1439.9,1319.0 1441.3,1319.0 1442.7,1319.0 1444.1,1319.0 1445.5,1319.0 1447.0,1319.0 1448.4,1319.0 1449.8,1319.0 1451.2,1319.0 1452.6,1319.0 1454.0,1319.0 1455.4,1319.0 1456.8,1319.0 1458.2,1319.0 1459.6,1319.0 1461.0,1319.0 1462.4,1319.0 1463.8,1319.0 1465.2,1319.0 1466.6,1319.0 1468.1,1319.0 1469.5,1319.0 1470.9,1319.0 1472.3,1319.0 1473.7,1319.0 1475.1,1319.0 1476.5,1319.0 1477.9,1319.0 1479.3,1319.0 1480.7,1319.0 1482.1,1319.0 1483.5,1319.0 1484.9,1319.0 1486.3,1319.0 1487.7,1319.0 1489.2,1319.0 1490.6,1319.0 1492.0,1319.0 1493.4,1319.0 1494.8,1319.0 1496.2,1319.0 1497.6,1319.0 1499.0,1319.0 1500.4,1319.0 1501.8,1319.0 1503.2,1319.0 1504.6,1319.0 1506.0,1319.0 1507.4,1319.0 1508.8,1319.0 1510.3,1319.0 1511.7,1319.0 1513.1,1319.0 1514.5,1319.0 1515.9,1319.0 1517.3,1319.0 1518.7,1319.0 1520.1,1319.0 1521.5,1319.0 1522.9,1319.0 1524.3,1319.0 1525.7,1319.0 1527.1,1319.0 1528.5,1319.0 1529.9,1319.0 1531.4,1319.0 1532.8,1319.0 1534.2,1319.0 1535.6,1319.0 1537.0,1319.0 1538.4,1319.0 1539.8,1319.0 1541.2,1319.0 1542.6,1319.0 1544.0,1319.0 1545.4,1319.0 1546.8,1319.0 1548.2,1319.0 1549.6,1319.0 1551.0,1319.0 1552.5,1319.0 1553.9,1319.0 1555.3,1319.0 1556.7,1319.0 1558.1,1319.0 1559.5,1319.0 1560.9,1319.0 1562.3,1319.0 1563.7,1319.0 1565.1,1319.0 1566.5,1319.0 1567.9,1319.0 1569.3,1319.0 1570.7,1319.0 1572.1,1319.0 1573.6,1319.0 1575.0,1319.0 1576.4,1318.9 1577.8,1318.9 1579.2,1318.9 1580.6,1318.9 1582.0,1318.9 1583.4,1318.9 1584.8,1318.9 1586.2,1318.9 1587.6,1318.9 1589.0,1318.9 1590.4,1318.9 1591.8,1318.9 1593.2,1318.9 1594.7,1318.9 1596.1,1318.9 1597.5,1318.9 1598.9,1318.9 1600.3,1318.9 1601.7,1318.9 1603.1,1318.9 1604.5,1318.9 1605.9,1318.9 1607.3,1318.9 1608.7,1318.9 1610.1,1318.8 1611.5,1318.8 1612.9,1318.8 1614.3,1318.8 1615.8,1318.8 1617.2,1318.8 1618.6,1318.8 1620.0,1318.8 1621.4,1318.7 1622.8,1318.7 1624.2,1318.7 1625.6,1318.7 1627.0,1318.6 1628.4,1318.6 1629.8,1317.1 1631.2,1314.2 1632.6,1311.3 1634.0,1311.2 1635.4,1310.9 1636.9,1310.5 1638.3,1310.0 1639.7,1309.2 1641.1,1308.2 1642.5,1307.1 1643.9,1305.9 1645.3,1305.0 1646.7,1304.6 1648.1,1304.9 1649.5,1305.8 1650.9,1306.9 1652.3,1308.0 1653.7,1308.9 1655.1,1309.6 1656.5,1310.1 1658.0,1310.4 1658.1,1310.5 1658.3,1310.5 1658.5,1310.5 1658.7,1310.6 1658.8,1310.6 1659.0,1310.6 1659.2,1310.6 1659.4,1310.6 1659.5,1310.7 1659.7,1310.7 1659.9,1310.7 1660.1,1310.7 1660.2,1310.7 1660.4,1310.7 1660.6,1310.7 1660.8,1310.8 1660.9,1310.8 1661.1,1310.8 1661.3,1310.8 1661.5,1310.8 1661.6,1310.8 1661.8,1310.8 1662.0,1310.8 1662.2,1310.8 1662.4,1310.8 1662.5,1310.8 1662.7,1310.8 1662.9,1310.8 1663.1,1310.8 1663.2,1310.8 1663.4,1310.8 1663.6,1310.8 1663.8,1310.8 1663.9,1310.8 1664.1,1310.8 1664.3,1310.8 1664.5,1310.8 1664.6,1310.8 1664.8,1310.8 1665.0,1310.8 1665.2,1310.8 1665.3,1310.8 1665.5,1310.8 1665.7,1310.8 1665.9,1310.8 1666.0,1310.8 1666.2,1310.8 1666.4,1310.8 1666.6,1310.8 1666.7,1310.8 1666.9,1310.8 1667.1,1310.8 1667.3,1310.8 1667.4,1310.8 1667.6,1310.8 1667.8,1310.8 1668.0,1310.8 1668.2,1310.8 1668.3,1310.8 1668.5,1310.8 1668.7,1310.8 1668.9,1310.8 1669.0,1310.8 1669.2,1310.8 1669.4,1310.8 1669.6,1310.8 1669.7,1310.8 1669.9,1310.8 1670.1,1310.7 1670.3,1310.7 1670.4,1310.7 1670.6,1310.7 1670.8,1310.7 1671.0,1310.7 1671.1,1310.7 1671.3,1310.7 1671.5,1310.7 1671.7,1310.7 1671.8,1310.7 1672.0,1310.7 1672.2,1310.7 1672.4,1310.7 1672.5,1310.7 1672.7,1310.7 1672.9,1310.7 1673.1,1310.6 1673.3,1310.6 1673.4,1310.6 1673.6,1310.6 1673.8,1310.6 1674.0,1310.6 1674.1,1310.6 1674.3,1310.6 1674.5,1310.6 1674.7,1310.6 1674.8,1310.6 1675.0,1310.6 1675.2,1310.6 1675.4,1310.5 1675.5,1310.5 1675.7,1310.5 1675.9,1310.5 1676.1,1310.5 1676.2,1310.5 1676.4,1310.5 1676.6,1310.5 1676.8,1310.5 1676.9,1310.5 1677.1,1310.5 1677.3,1310.4 1677.5,1310.4 1677.6,1310.4 1677.8,1310.4 1678.0,1310.4 1678.2,1310.4 1678.4,1310.4 1678.5,1310.4 1678.7,1310.4 1678.9,1310.3 1679.1,1310.3 1679.2,1310.3 1679.4,1310.3 1679.6,1310.3 1679.8,1310.3 1679.9,1310.3 1680.1,1310.3 1680.3,1310.3 1680.5,1310.2 1680.6,1310.2 1680.8,1310.2 1681.0,1310.2 1681.2,1310.2 1681.3,1310.2 1681.5,1310.2 1681.7,1310.1 1681.9,1310.1 1682.0,1310.1 1682.2,1310.1 1682.4,1310.1 1682.6,1310.1 1682.7,1310.1 1682.9,1310.0 1683.1,1310.0 1683.3,1310.0 1683.5,1310.0 1683.6,1310.0 1683.8,1310.0 1684.0,1310.0 1684.2,1309.9 1684.3,1309.9 1684.5,1309.9 1684.7,1309.9 1684.9,1309.9 1685.0,1309.9 1685.2,1309.8 1685.4,1309.8 1685.6,1309.8 1685.7,1309.8 1685.9,1309.8 1686.1,1309.7 1686.3,1309.7 1686.4,1309.7 1686.6,1309.7 1686.8,1309.7 1687.0,1309.6 1687.1,1309.6 1687.3,1309.6 1687.5,1309.6 1687.7,1309.6 1687.8,1309.5 1688.0,1309.5 1688.2,1309.5 1688.4,1309.5 1688.5,1309.5 1688.7,1309.4 1688.9,1309.4 1689.1,1309.4 1689.3,1309.4 1689.4,1309.3 1689.6,1309.3 1689.8,1309.3 1690.0,1309.3 1690.1,1309.2 1690.3,1309.2 1690.5,1309.2 1690.7,1309.2 1690.8,1309.1 1691.0,1309.1 1691.2,1309.1 1691.4,1309.0 1691.5,1309.0 1691.7,1309.0 1691.9,1309.0 1692.1,1308.9 1692.2,1308.9 1692.4,1308.9 1692.6,1308.8 1692.8,1308.8 1692.9,1308.8 1693.1,1308.7 1693.3,1308.7 1693.5,1308.7 1693.6,1308.6 1693.8,1308.6 1694.0,1308.6 1694.2,1308.5 1694.4,1308.5 1694.5,1308.5 1694.7,1308.4 1694.9,1308.4 1695.1,1308.4 1695.2,1308.3 1695.4,1308.3 1695.6,1308.2 1695.8,1308.2 1695.9,1308.2 1696.1,1308.1 1696.3,1308.1 1696.5,1308.0 1696.6,1308.0 1696.8,1307.9 1697.0,1307.9 1697.2,1307.9 1697.3,1307.8 1697.5,1307.8 1697.7,1307.7 1697.9,1307.7 1698.0,1307.6 1698.2,1307.6 1698.4,1307.5 1698.6,1307.5 1698.7,1307.4 1698.9,1307.4 1699.1,1307.3 1699.3,1307.3 1699.5,1307.2 1699.6,1307.1 1699.8,1307.1 1700.0,1307.0 1700.2,1307.0 1700.3,1306.9 1700.5,1306.8 1700.7,1306.8 1700.9,1306.7 1701.0,1306.7 1701.2,1306.6 1701.4,1306.5 1701.6,1306.5 1701.7,1306.4 1701.9,1306.3 1702.1,1306.2 1702.3,1306.2 1702.4,1306.1 1702.6,1306.0 1702.8,1306.0 1703.0,1305.9 1703.1,1305.8 1703.3,1305.7 1703.5,1305.6 1703.7,1305.6 1703.8,1305.5 1704.0,1305.4 1704.2,1305.3 1704.4,1305.2 1704.6,1305.1 1704.7,1305.0 1704.9,1304.9 1705.1,1304.8 1705.3,1304.7 1705.4,1304.6 1705.6,1304.5 1705.8,1304.4 1706.0,1304.3 1706.1,1304.2 1706.3,1304.1 1706.5,1304.0 1706.7,1303.9 1706.8,1303.8 1707.0,1303.7 1707.2,1303.6 1707.4,1303.4 1707.5,1303.3 1707.7,1303.2 1707.9,1303.1 1708.1,1302.9 1708.2,1302.8 1708.4,1302.7 1708.6,1302.5 1708.8,1302.4 1708.9,1302.2 1709.1,1302.1 1709.3,1301.9 1709.5,1301.8 1709.6,1301.6 1709.8,1301.5 1710.0,1301.3 1710.2,1301.2 1710.4,1301.0 1710.5,1300.8 1710.7,1300.7 1710.9,1300.5 1711.1,1300.3 1711.2,1300.1 1711.4,1299.9 1711.6,1299.7 1711.8,1299.5 1711.9,1299.3 1712.1,1299.1 1712.3,1298.9 1712.5,1298.7 1712.6,1298.5 1712.8,1298.3 1713.0,1298.1 1713.2,1297.8 1713.3,1297.6 1713.5,1297.4 1713.7,1297.1 1713.9,1296.9 1714.0,1296.6 1714.2,1296.4 1714.4,1296.1 1714.6,1295.8 1714.7,1295.5 1714.9,1295.3 1715.1,1295.0 1715.3,1294.7 1715.5,1294.4 1715.6,1294.1 1715.8,1293.8 1716.0,1293.4 1716.2,1293.1 1716.3,1292.8 1716.5,1292.4 1716.7,1292.1 1716.9,1291.7 1717.0,1291.3 1717.2,1291.0 1717.4,1290.6 1717.6,1290.2 1717.7,1289.8 1717.9,1289.4 1718.1,1289.0 1718.3,1288.5 1718.4,1288.1 1718.6,1287.7 1718.8,1287.2 1719.0,1286.7 1719.1,1286.3 1719.3,1285.8 1719.5,1285.3 1719.7,1284.7 1719.8,1284.2 1720.0,1283.7 1720.2,1283.1 1720.4,1282.6 1720.6,1282.0 1720.7,1281.4 1720.9,1280.8 1721.1,1280.2 1721.3,1279.5 1721.4,1278.9 1721.6,1278.2 1721.8,1277.5 1722.0,1276.9 1722.1,1276.1 1722.3,1275.4 1722.5,1274.7 1722.7,1273.9 1722.8,1273.1 1723.0,1272.3 1723.2,1271.5 1723.4,1270.6 1723.5,1269.8 1723.7,1268.9 1723.9,1268.0 1724.1,1267.0 1724.2,1266.1 1724.4,1265.1 1724.6,1264.1 1724.8,1263.1 1724.9,1262.0 1725.1,1260.9 1725.3,1259.8 1725.5,1258.7 1725.7,1257.5 1725.8,1256.3 1726.0,1255.1 1726.2,1253.9 1726.4,1252.6 1726.5,1251.3 1726.7,1249.9 1726.9,1248.5 1727.1,1247.1 1727.2,1245.7 1727.4,1244.2 1727.6,1242.6 1727.8,1241.1 1727.9,1239.5 1728.1,1237.9 1728.3,1236.2 1728.5,1234.5 1728.6,1232.7 1728.8,1230.9 1729.0,1229.0 1729.2,1227.1 1729.3,1225.2 1729.5,1223.2 1729.7,1221.1 1729.9,1219.0 1730.0,1216.9 1730.2,1214.7 1730.4,1212.4 1730.6,1210.1 1730.7,1207.7 1730.9,1205.2 1731.1,1202.7 1731.3,1200.2 1731.5,1197.5 1731.6,1194.9 1731.8,1192.1 1732.0,1189.3 1732.2,1186.4 1732.3,1183.4 1732.5,1180.4 1732.7,1177.3 1732.9,1174.1 1733.0,1170.8 1733.2,1167.5 1733.4,1164.1 1733.6,1160.6 1733.7,1157.0 1733.9,1153.4 1734.1,1149.6 1734.3,1145.8 1734.4,1141.9 1734.6,1137.9 1734.8,1133.8 1735.0,1129.7 1735.1,1125.4 1735.3,1121.1 1735.5,1116.7 1735.7,1112.2 1735.8,1107.6 1736.0,1102.9 1736.2,1098.1 1736.4,1093.2 1736.6,1088.3 1736.7,1083.2 1736.9,1078.1 1737.1,1072.9 1737.3,1067.6 1737.4,1062.2 1737.6,1056.7 1737.8,1051.2 1738.0,1045.5 1738.1,1039.8 1738.3,1034.1 1738.5,1028.2 1738.7,1022.3 1738.8,1016.3 1739.0,1010.3 1739.2,1004.2 1739.4,998.0 1739.5,991.8 1739.7,985.5 1739.9,979.2 1740.1,972.9 1740.2,966.6 1740.4,960.2 1740.6,953.8 1740.8,947.4 1740.9,941.0 1741.1,934.6 1741.3,928.2 1741.5,921.8 1741.7,915.5 1741.8,909.2 1742.0,903.0 1742.2,896.8 1742.4,890.7 1742.5,884.6 1742.7,878.7 1742.9,872.8 1743.1,867.1 1743.2,861.4 1743.4,855.9 1743.6,850.6 1743.8,845.3 1743.9,840.3 1744.1,835.4 1744.3,830.6 1744.5,826.1 1744.6,821.8 1744.8,817.6 1745.0,813.7 1745.2,810.0 1745.3,806.5 1745.5,803.3 1745.7,800.4 1745.9,797.6 1746.0,795.2 1746.2,793.0 1746.4,791.1 1746.6,789.4 1746.8,788.1 1746.9,787.0 1747.1,786.2 1747.3,785.7 1747.5,785.5 1747.6,785.6 1747.8,786.0 1748.0,786.6 1748.2,787.6 1748.3,788.8 1748.5,790.3 1748.7,792.1 1748.9,794.2 1749.0,796.5 1749.2,799.2 1749.4,802.0 1749.6,805.1 1749.7,808.5 1749.9,812.1 1750.1,815.9 1750.3,820.0 1750.4,824.2 1750.6,828.7 1750.8,833.4 1751.0,838.2 1751.1,843.2 1751.3,848.4 1751.5,853.7 1751.7,859.2 1751.8,864.8 1752.0,870.5 1752.2,876.3 1752.4,882.2 1752.6,888.3 1752.7,894.4 1752.9,900.6 1753.1,906.8 1753.3,913.1 1753.4,919.4 1753.6,925.8 1753.8,932.2 1754.0,938.6 1754.1,945.0 1754.3,951.5 1754.5,957.9 1754.7,964.3 1754.8,970.7 1755.0,977.1 1755.2,983.4 1755.4,989.7 1755.5,996.0 1755.7,1002.2 1755.9,1008.3 1756.1,1014.4 1756.2,1020.5 1756.4,1026.5 1756.6,1032.4 1756.8,1038.2 1756.9,1044.0 1757.1,1049.7 1757.3,1055.3 1757.5,1060.8 1757.7,1066.3 1757.8,1071.7 1758.0,1077.0 1758.2,1082.2 1758.4,1087.3 1758.5,1092.3 1758.7,1097.3 1758.9,1102.1 1759.1,1106.9 1759.2,1111.5 1759.4,1116.1 1759.6,1120.6 1759.8,1125.0 1759.9,1129.3 1760.1,1133.6 1760.3,1137.7 1760.5,1141.8 1760.6,1145.8 1760.8,1149.6 1761.0,1153.4 1761.2,1157.2 1761.3,1160.8 1761.5,1164.4 1761.7,1167.9 1761.9,1171.3 1762.0,1174.6 1762.2,1177.8 1762.4,1181.0 1762.6,1184.1 1762.8,1187.1 1762.9,1190.1 1763.1,1193.0 1763.3,1195.8 1763.5,1198.6 1763.6,1201.2 1763.8,1203.9 1764.0,1206.4 1764.2,1208.9 1764.3,1211.4 1764.5,1213.7 1764.7,1216.1 1764.9,1218.3 1765.0,1220.5 1765.2,1222.7 1765.4,1224.8 1765.6,1226.9 1765.7,1228.9 1765.9,1230.8 1766.1,1232.7 1766.3,1234.6 1766.4,1236.4 1766.6,1238.2 1766.8,1239.9 1767.0,1241.6 1767.1,1243.2 1767.3,1244.8 1767.5,1246.4 1767.7,1247.9 1767.9,1249.4 1768.0,1250.8 1768.2,1252.3 1768.4,1253.6 1768.6,1255.0 1768.7,1256.3 1768.9,1257.6 1769.1,1258.8 1769.3,1260.0 1769.4,1261.2 1769.6,1262.4 1769.8,1263.5 1770.0,1264.6 1770.1,1265.7 1770.3,1266.8 1770.5,1267.8 1770.7,1268.8 1770.8,1269.8 1771.0,1270.7 1771.2,1271.7 1771.4,1272.6 1771.5,1273.5 1771.7,1274.3 1771.9,1275.2 1772.1,1276.0 1772.2,1276.8 1772.4,1277.6 1772.6,1278.4 1772.8,1279.1 1772.9,1279.8 1773.1,1280.6 1773.3,1281.3 1773.5,1282.0 1773.7,1282.6 1773.8,1283.3 1774.0,1283.9 1774.2,1284.5 1774.4,1285.1 1774.5,1285.7 1774.7,1286.3 1774.9,1286.9 1775.1,1287.4 1775.2,1288.0 1775.4,1288.5 1775.6,1289.0 1775.8,1289.5 1775.9,1290.0 1776.1,1290.5 1776.3,1291.0 1776.5,1291.5 1776.6,1291.9 1776.8,1292.4 1777.0,1292.8 1777.2,1293.2 1777.3,1293.6 1777.5,1294.1 1777.7,1294.5 1777.9,1294.8 1778.0,1295.2 1778.2,1295.6 1778.4,1296.0 1778.6,1296.3 1778.8,1296.7 1778.9,1297.0 1779.1,1297.4 1779.3,1297.7 1779.5,1298.0 1779.6,1298.3 1779.8,1298.6 1780.0,1298.9 1780.2,1299.2 1780.3,1299.5 1780.5,1299.8 1780.7,1300.1 1780.9,1300.4 1781.0,1300.6 1781.2,1300.9 1781.4,1301.2 1781.6,1301.4 1781.7,1301.7 1781.9,1301.9 1782.1,1302.1 1782.3,1302.4 1782.4,1302.6 1782.6,1302.8 1782.8,1303.0 1783.0,1303.3 1783.1,1303.5 1783.3,1303.7 1783.5,1303.9 1783.7,1304.1 1783.9,1304.3 1784.0,1304.5 1784.2,1304.7 1784.4,1304.9 1784.6,1305.0 1784.7,1305.2 1784.9,1305.4 1785.1,1305.6 1785.3,1305.7 1785.4,1305.9 1785.6,1306.1 1785.8,1306.2 1786.0,1306.4 1786.1,1306.5 1786.3,1306.7 1786.5,1306.8 1786.7,1307.0 1786.8,1307.1 1787.0,1307.3 1787.2,1307.4 1787.4,1307.6 1787.5,1307.7 1787.7,1307.8 1787.9,1307.9 1788.1,1308.0 1788.2,1308.1 1788.4,1308.3 1788.6,1308.4 1788.8,1308.5 1789.0,1308.6 1789.1,1308.7 1789.3,1308.8 1789.5,1308.9 1789.7,1309.0 1789.8,1309.1 1790.0,1309.2 1790.2,1309.3 1790.4,1309.4 1790.5,1309.4 1790.7,1309.5 1790.9,1309.6 1791.1,1309.7 1791.2,1309.8 1791.4,1309.9 1791.6,1309.9 1791.8,1310.0 1791.9,1310.1 1792.1,1310.2 1792.3,1310.3 1792.5,1310.3 1792.6,1310.4 1792.8,1310.5 1793.0,1310.5 1793.2,1310.6 1793.3,1310.7 1793.5,1310.7 1793.7,1310.8 1793.9,1310.9 1794.0,1310.9 1794.2,1311.0 1794.4,1311.1 1794.6,1311.1 1794.8,1311.2 1794.9,1311.2 1795.1,1311.3 1795.3,1311.4 1795.5,1311.4 1795.6,1311.5 1795.8,1311.5 1796.0,1311.6 1796.2,1311.6 1796.3,1311.7 1796.5,1311.7 1796.7,1311.8 1796.9,1311.8 1797.0,1311.9 1797.2,1311.9 1797.4,1312.0 1797.6,1312.0 1797.7,1312.1 1797.9,1312.1 1798.1,1312.1 1798.3,1312.2 1798.4,1312.2 1798.6,1312.3 1798.8,1312.3 1799.0,1312.3 1799.1,1312.4 1799.3,1312.4 1799.5,1312.5 1799.7,1312.5 1799.9,1312.5 1800.0,1312.6 1800.2,1312.6 1800.4,1312.6 1800.6,1312.7 1800.7,1312.7 1800.9,1312.8 1801.1,1312.8 1801.3,1312.8 1801.4,1312.8 1801.6,1312.9 1801.8,1312.9 1802.0,1312.9 1802.1,1313.0 1802.3,1313.0 1802.5,1313.0 1802.7,1313.1 1802.8,1313.1 1803.0,1313.1 1803.2,1313.1 1803.4,1313.2 1803.5,1313.2 1803.7,1313.2 1803.9,1313.3 1804.1,1313.3 1804.2,1313.3 1804.4,1313.3 1804.6,1313.4 1804.8,1313.4 1805.0,1313.4 1805.1,1313.4 1805.3,1313.5 1805.5,1313.5 1805.7,1313.5 1805.8,1313.5 1806.0,1313.5 1806.2,1313.6 1806.4,1313.6 1806.5,1313.6 1806.7,1313.6 1806.9,1313.7 1807.1,1313.7 1807.2,1313.7 1807.4,1313.7 1807.6,1313.7 1807.8,1313.8 1807.9,1313.8 1808.1,1313.8 1808.3,1313.8 1808.5,1313.8 1808.6,1313.8 1808.8,1313.9 1809.0,1313.9 1809.2,1313.9 1809.3,1313.9 1809.5,1313.9 1809.7,1313.9 1809.9,1314.0 1810.1,1314.0 1810.2,1314.0 1810.4,1314.0 1810.6,1314.0 1810.8,1314.0 1810.9,1314.1 1811.1,1314.1 1811.3,1314.1 1811.5,1314.1 1811.6,1314.1 1811.8,1314.1 1812.0,1314.1 1812.2,1314.2 1812.3,1314.2 1812.5,1314.2 1812.7,1314.2 1812.9,1314.2 1813.0,1314.2 1813.2,1314.2 1813.4,1314.3 1813.6,1314.3 1813.7,1314.3 1813.9,1314.3 1814.1,1314.3 1814.3,1314.3 1814.4,1314.3 1814.6,1314.3 1814.8,1314.4 1815.0,1314.4 1815.1,1314.4 1815.3,1314.4 1815.5,1314.4 1815.7,1314.4 1815.9,1314.4 1816.0,1314.4 1816.2,1314.4 1816.4,1314.4 1816.6,1314.5 1816.7,1314.5 1816.9,1314.5 1817.1,1314.5 1817.3,1314.5 1817.4,1314.5 1817.6,1314.5 1817.8,1314.5 1818.0,1314.5 1818.1,1314.5 1818.3,1314.6 1818.5,1314.6 1818.7,1314.6 1818.8,1314.6 1819.0,1314.6 1819.2,1314.6 1819.4,1314.6 1819.5,1314.6 1819.7,1314.6 1819.9,1314.6 1820.1,1314.6 1820.2,1314.6 1820.4,1314.7 1820.6,1314.7 1820.8,1314.7 1821.0,1314.7 1821.1,1314.7 1821.3,1314.7 1821.5,1314.7 1821.7,1314.7 1821.8,1314.7 1822.0,1314.7 1822.2,1314.7 1822.4,1314.7 1822.5,1314.7 1822.7,1314.7 1822.9,1314.8 1823.1,1314.8 1823.2,1314.8 1823.4,1314.8 1823.6,1314.8 1823.8,1314.8 1823.9,1314.8 1824.1,1314.8 1824.3,1314.8 1824.5,1314.8 1824.6,1314.8 1824.8,1314.8 1825.0,1314.8 1825.2,1314.8 1825.3,1314.8 1825.5,1314.8 1825.7,1314.9 1825.9,1314.9 1826.1,1314.9 1826.2,1314.9 1826.4,1314.9 1826.6,1314.9 1826.8,1314.9 1826.9,1314.9 1827.1,1314.9 1827.3,1314.9 1827.5,1314.9 1827.6,1314.9 1827.8,1314.9 1828.0,1314.9 1828.2,1314.9 1828.3,1314.9 1828.5,1314.9 1828.7,1314.9 1828.9,1314.9 1829.0,1315.0 1829.2,1315.0 1829.4,1315.0 1829.6,1315.0 1829.7,1315.0 1829.9,1315.0 1830.1,1315.0 1830.3,1315.0 1830.4,1315.0 1830.6,1315.0 1830.8,1315.0 1831.0,1315.0 1831.2,1315.0 1831.3,1315.0 1831.5,1315.0 1831.7,1315.0 1831.9,1315.0 1832.0,1315.0 1832.2,1315.0 1832.4,1315.0 1832.6,1315.0 1832.7,1315.0 1832.9,1315.0 1833.1,1315.0 1833.3,1315.0 1833.4,1315.1 1833.6,1315.1 1833.8,1315.1 1834.0,1315.1 1834.1,1315.1 1834.3,1315.1 1834.5,1315.1 1834.7,1315.1 1834.8,1315.1 1835.0,1315.1 1835.2,1315.1 1835.4,1315.1 1835.5,1315.1 1835.7,1315.1 1835.9,1315.1 1836.1,1315.1 1836.2,1315.1 1836.4,1315.1 1836.6,1315.1 1836.8,1315.1 1837.0,1315.1 1837.1,1315.1 1837.3,1315.1 1837.5,1315.1 1837.7,1315.1 1839.1,1315.1 1840.5,1315.2 1841.9,1315.2 1843.3,1315.2 1844.7,1315.2 1846.1,1315.2 1847.5,1315.3 1848.9,1315.3 1850.3,1315.3 1851.7,1315.3 1853.1,1315.3 1854.5,1315.3 1855.9,1315.3 1857.3,1315.3 1858.8,1315.3 1860.2,1315.3 1861.6,1315.4 1863.0,1315.4 1864.4,1315.4 1865.8,1315.4 1867.2,1315.4 1868.6,1315.4 1870.0,1315.4 1871.4,1315.4 1872.8,1315.4 1874.2,1315.4 1875.6,1315.4 1877.0,1315.4 1878.4,1315.4 1879.9,1315.4 1881.3,1315.4 1882.7,1315.4 1884.1,1315.4 1885.5,1315.4 1886.9,1315.4 1888.3,1315.4 1889.7,1315.4 1891.1,1315.4 1892.5,1315.4 1893.9,1315.4 1895.3,1315.4 1896.7,1315.4 1898.1,1315.4 1899.5,1315.5 1901.0,1315.5 1902.4,1315.5 1903.8,1315.5 1905.2,1315.5 1906.6,1315.5 1908.0,1315.5 1909.4,1315.5 1910.8,1315.5 1912.2,1315.5 1913.6,1315.5 1915.0,1315.5 1916.4,1315.5 1917.8,1315.5 1919.2,1315.5 1920.6,1315.5 1922.1,1315.5 1923.5,1315.5 1924.9,1315.5 1926.3,1315.5 1927.7,1315.5 1929.1,1315.5 1930.5,1315.5 1931.9,1315.5 1933.3,1315.5 1934.7,1315.5 1936.1,1315.5 1937.5,1315.5 1938.9,1315.5 1940.3,1315.5 1941.7,1315.5 1943.2,1315.5 1944.6,1315.5 1946.0,1315.5 1947.4,1315.5 1948.8,1315.5 1950.2,1315.5 1951.6,1315.5 1953.0,1315.5 1954.4,1315.5 1955.8,1315.5 1957.2,1315.5 1958.6,1315.5 1960.0,1315.5 1961.4,1315.5 1962.8,1315.5 1964.3,1315.5 1965.7,1315.5 1967.1,1316.2 1968.5,1318.9 1969.9,1321.7 1971.3,1322.4 1972.7,1322.4 1974.1,1322.4 1975.5,1322.4 1976.9,1322.4 1978.3,1322.4 1979.7,1322.4 1981.1,1322.4 1982.5,1322.4 1983.9,1322.4 1985.4,1322.4 1986.8,1322.4 1988.2,1322.4 1989.6,1322.4 1991.0,1322.4 1992.4,1322.4 1993.8,1322.4 1995.2,1322.4 1996.6,1322.4 1998.0,1322.4 1999.4,1322.4 2000.8,1322.4 2002.2,1322.4 2003.6,1322.4 2005.1,1322.4 2006.5,1322.4 2007.9,1322.4 2009.3,1322.4 2010.7,1322.4 2012.1,1322.4 2013.5,1322.4 2014.9,1322.4 2016.3,1322.4 2017.7,1322.4 2019.1,1322.4 2020.5,1322.4 2021.9,1322.4 2023.3,1322.4 2024.7,1322.4 2026.2,1322.4 2027.6,1322.4 2029.0,1322.4 2030.4,1322.4 2031.8,1322.4 2033.2,1322.4 2034.6,1322.4 2036.0,1322.4 2037.4,1322.4 2038.8,1322.4 2040.2,1322.4 2041.6,1322.4 2043.0,1322.4 2044.4,1322.4 2045.8,1322.4 2047.3,1322.4 2048.7,1322.4 2050.1,1322.4 2051.5,1322.4 2052.9,1322.4 2054.3,1322.4 2055.7,1322.4 2057.1,1322.4 2058.5,1322.4 2059.9,1322.4 2061.3,1322.4 2062.7,1322.4 2064.1,1322.4 2065.5,1322.4 2066.9,1322.4 2068.4,1322.4 2069.8,1322.4 2071.2,1322.4 2072.6,1322.4 2074.0,1322.4 2075.4,1322.4 2076.8,1322.4 2078.2,1322.4 2079.6,1322.4 2081.0,1322.4 2082.4,1322.4 2083.8,1322.4 2085.2,1322.4 2086.6,1322.4 2088.0,1322.4 2089.5,1322.4 2090.9,1322.4 2092.3,1322.4 2093.7,1322.4 2095.1,1322.4 2096.5,1322.4 2097.9,1322.4 2099.3,1322.4 2100.7,1322.4 2102.1,1322.4 2103.5,1322.4 2104.9,1322.4 2106.3,1322.4 2107.7,1322.4 2109.1,1322.4 2110.6,1322.4 2112.0,1322.4 2113.4,1322.4 2114.8,1322.4 2116.2,1322.4 2117.6,1322.4 2119.0,1322.4 2120.4,1322.4 2121.8,1322.4 2123.2,1322.4 2124.6,1322.4 2126.0,1322.4 2127.4,1322.4 2128.8,1322.4 2130.2,1322.4 2131.7,1322.4 2133.1,1322.4 2134.5,1322.4 2135.9,1322.4 2137.3,1322.4 2138.7,1322.4 2140.1,1322.4 2141.5,1322.4 2142.9,1322.4 2144.3,1322.4 2145.7,1322.4 2147.1,1322.4 2148.5,1322.4 2149.9,1322.4 2151.3,1322.4 2152.8,1322.4 2154.2,1322.4 2155.6,1322.4 2157.0,1322.4 2158.4,1322.4 2159.8,1322.4 2161.2,1322.4 2162.6,1322.4 2164.0,1322.4 2165.4,1322.4 2166.8,1322.4 2168.2,1322.4 2169.6,1322.4 2171.0,1322.4 2172.4,1322.4 2173.9,1322.4 2175.3,1322.4 2176.7,1322.4 2178.1,1322.4 2179.5,1322.4 2180.9,1322.4 2182.3,1322.4 2183.7,1322.4 2185.1,1322.4 2186.5,1322.4 2187.9,1322.4 2189.3,1322.4 2190.7,1322.4 2192.1,1322.4 2193.5,1322.4 2195.0,1322.4 2196.4,1322.4 2197.8,1322.4 2199.2,1322.4 2200.6,1322.4 2202.0,1322.4 2203.4,1322.4 2204.8,1322.4 2206.2,1322.4 2207.6,1322.4 2209.0,1322.4 2210.4,1322.4 2211.8,1322.4 2213.2,1322.4 2214.6,1322.4 2216.1,1322.4 2217.5,1322.4 2218.9,1322.4 2220.3,1322.4 2221.7,1322.4 2223.1,1322.4 2224.5,1322.4 2225.9,1322.4 2227.3,1322.4 2228.7,1322.4 2230.1,1322.4 2231.5,1322.4 2232.9,1322.4 2234.3,1322.4 2235.7,1322.4 2237.2,1322.4 2238.6,1322.4 2240.0,1322.4 2241.4,1322.4 2242.8,1322.4 2244.2,1322.4 2245.6,1322.4 2247.0,1322.4 2248.4,1322.4 2249.8,1322.4 2251.2,1322.4 2252.6,1322.4 2254.0,1322.4 2255.4,1322.4 2256.8,1322.4 2258.3,1322.4 2259.7,1322.4 2261.1,1322.4 2262.5,1322.4 2263.9,1322.4 2265.3,1322.4 2266.7,1322.4 2268.1,1322.4 2269.5,1322.4 2270.9,1322.4 2272.3,1322.4 2273.7,1322.4 2275.1,1322.4 2276.5,1322.4 2277.9,1322.4 2279.4,1322.4 2280.8,1322.4 2282.2,1322.4 2283.6,1322.4 2285.0,1322.4 2286.4,1322.4 2287.8,1322.4 2289.2,1322.4 2290.6,1322.4 2292.0,1322.4 2293.4,1322.4 2294.8,1322.4 2296.2,1322.4 2297.6,1322.4 2299.0,1322.4 2300.5,1322.4 2301.9,1322.4 2303.3,1322.4 2304.7,1322.4 2306.1,1322.4 2307.5,1322.4 2308.9,1322.4 2310.3,1322.4 2311.7,1322.4 2313.1,1322.4 2314.5,1322.4 2315.9,1322.4 2317.3,1322.4 2318.7,1322.4 2320.1,1322.4 2321.6,1322.4 2323.0,1322.4 2324.4,1322.4 2325.8,1322.4 2327.2,1322.4 2328.6,1322.4 2330.0,1322.4 2331.4,1322.4 2332.8,1322.4 2334.2,1322.4 2335.6,1322.4 2337.0,1322.4 2338.4,1322.4 2339.8,1322.4 2341.2,1322.4 2342.7,1322.4" fill="none" stroke="#0000ff" stroke-width="7.2" stroke-linejoin="round"/>
<polyline points="233.0,1216.8 234.4,1216.8 235.8,1216.8 237.2,1216.8 238.6,1216.8 240.0,1216.8 241.4,1216.8 242.8,1216.8 244.3,1216.8 245.7,1216.8 247.1,1216.8 248.5,1216.8 249.9,1216.9 251.3,1216.9 252.7,1216.9 254.1,1216.9 255.5,1216.9 256.9,1216.9 258.3,1216.9 259.7,1216.9 261.1,1216.9 262.5,1216.9 263.9,1216.9 265.4,1216.9 266.8,1216.9 268.2,1216.9 269.6,1216.9 271.0,1216.9 272.4,1216.9 273.8,1217.0 275.2,1217.0 276.6,1217.0 278.0,1217.0 279.4,1217.0 280.8,1217.0 282.2,1217.0 283.6,1217.0 285.0,1217.0 286.5,1217.0 287.9,1217.0 289.3,1217.0 290.7,1217.0 292.1,1217.0 293.5,1217.0 294.9,1217.0 296.3,1217.0 297.7,1217.1 299.1,1217.1 300.5,1217.1 301.9,1217.1 303.3,1217.1 304.7,1217.1 306.1,1217.1 307.6,1217.1 309.0,1217.1 310.4,1217.1 311.8,1217.1 313.2,1217.1 314.6,1217.1 316.0,1217.1 317.4,1217.1 318.8,1217.1 320.2,1217.1 321.6,1217.2 323.0,1217.2 324.4,1217.2 325.8,1217.2 327.2,1217.2 328.7,1217.2 330.1,1217.2 331.5,1217.2 332.9,1217.2 334.3,1217.2 335.7,1217.2 337.1,1217.2 338.5,1217.2 339.9,1217.2 341.3,1217.2 342.7,1217.2 344.1,1217.2 345.5,1217.3 346.9,1217.3 348.3,1217.3 349.8,1217.3 351.2,1217.3 352.6,1217.3 354.0,1217.3 355.4,1217.3 356.8,1217.3 358.2,1217.3 359.6,1217.3 361.0,1217.3 362.4,1217.3 363.8,1217.3 365.2,1217.3 366.6,1217.3 368.0,1217.3 369.4,1217.4 370.9,1217.4 372.3,1217.4 373.7,1217.4 375.1,1217.4 376.5,1217.4 377.9,1217.4 379.3,1217.4 380.7,1217.4 382.1,1217.4 383.5,1217.4 384.9,1217.4 386.3,1217.4 387.7,1217.4 389.1,1217.4 390.5,1217.4 392.0,1217.4 393.4,1217.4 394.8,1217.5 396.2,1217.5 397.6,1217.5 399.0,1217.5 400.4,1217.5 401.8,1217.5 403.2,1217.5 404.6,1217.5 406.0,1217.5 407.4,1217.5 408.8,1217.5 410.2,1217.5 411.6,1217.5 413.1,1217.5 414.5,1217.5 415.9,1217.5 417.3,1217.5 418.7,1217.6 420.1,1217.6 421.5,1217.6 422.9,1217.6 424.3,1217.6 425.7,1217.6 427.1,1217.6 428.5,1217.6 429.9,1217.6 431.3,1217.6 432.7,1217.6 434.2,1217.6 435.6,1217.6 437.0,1217.6 438.4,1217.6 439.8,1217.6 441.2,1217.6 442.6,1217.6 444.0,1217.7 445.4,1217.7 446.8,1217.7 448.2,1217.7 449.6,1217.7 451.0,1217.7 452.4,1217.7 453.8,1217.7 455.3,1217.7 456.7,1217.7 458.1,1217.7 459.5,1217.7 460.9,1217.7 462.3,1217.7 463.7,1217.7 465.1,1217.7 466.5,1217.7 467.9,1217.7 469.3,1217.8 470.7,1217.8 472.1,1217.8 473.5,1217.8 474.9,1217.8 476.4,1217.8 477.8,1217.8 479.2,1217.8 480.6,1217.8 482.0,1217.8 483.4,1217.8 484.8,1217.8 486.2,1217.8 487.6,1217.8 489.0,1217.8 490.4,1217.8 491.8,1217.8 493.2,1217.8 494.6,1217.8 496.0,1217.9 497.5,1217.9 498.9,1217.9 500.3,1217.9 501.7,1217.9 503.1,1217.9 504.5,1217.9 505.9,1217.9 507.3,1217.9 508.7,1217.9 510.1,1217.9 511.5,1217.9 512.9,1217.9 514.3,1217.9 515.7,1217.9 517.1,1217.9 518.6,1217.9 520.0,1217.9 521.4,1217.9 522.8,1217.9 524.2,1218.0 525.6,1218.0 527.0,1218.0 528.4,1218.0 529.8,1218.0 531.2,1218.0 532.6,1218.0 534.0,1218.0 535.4,1218.0 536.8,1218.0 538.2,1218.0 539.7,1218.0 541.1,1218.0 542.5,1218.0 543.9,1218.0 545.3,1218.0 546.7,1218.0 548.1,1218.0 549.5,1218.0 550.9,1218.0 552.3,1218.0 553.7,1218.0 555.1,1218.0 556.5,1218.0 557.9,1218.0 559.3,1218.0 560.8,1218.0 562.2,1218.1 563.6,1218.1 565.0,1218.1 566.4,1218.1 567.8,1218.1 569.2,1218.1 570.6,1218.1 572.0,1218.1 573.4,1218.1 574.8,1218.1 576.2,1218.1 577.6,1218.1 579.0,1218.1 580.4,1218.1 581.9,1218.1 583.3,1218.1 584.7,1218.1 586.1,1218.1 587.5,1218.1 588.9,1218.0 590.3,1218.0 591.7,1218.0 593.1,1218.0 594.5,1218.0 595.9,1218.0 597.3,1218.0 598.7,1218.0 600.1,1218.0 601.5,1218.0 603.0,1218.0 604.4,1217.9 605.8,1217.9 607.2,1217.9 608.6,1217.9 610.0,1217.8 611.4,1217.8 612.8,1217.8 614.2,1217.7 615.6,1217.7 615.8,1217.7 616.0,1217.7 616.1,1217.7 616.3,1217.7 616.5,1217.7 616.7,1217.7 616.8,1217.6 617.0,1217.6 617.2,1217.6 617.4,1217.6 617.5,1217.6 617.7,1217.6 617.9,1217.6 618.1,1217.6 618.3,1217.6 618.4,1217.6 618.6,1217.6 618.8,1217.6 619.0,1217.5 619.1,1217.5 619.3,1217.5 619.5,1217.5 619.7,1217.5 619.8,1217.5 620.0,1217.5 620.2,1217.5 620.4,1217.5 620.5,1217.5 620.7,1217.5 620.9,1217.4 621.1,1217.4 621.2,1217.4 621.4,1217.4 621.6,1217.4 621.8,1217.4 621.9,1217.4 622.1,1217.4 622.3,1217.3 622.5,1217.3 622.6,1217.3 622.8,1217.3 623.0,1217.3 623.2,1217.3 623.4,1217.3 623.5,1217.3 623.7,1217.2 623.9,1217.2 624.1,1217.2 624.2,1217.2 624.4,1217.2 624.6,1217.2 624.8,1217.1 624.9,1217.1 625.1,1217.1 625.3,1217.1 625.5,1217.1 625.6,1217.1 625.8,1217.0 626.0,1217.0 626.2,1217.0 626.3,1217.0 626.5,1217.0 626.7,1216.9 626.9,1216.9 627.0,1216.9 627.2,1216.9 627.4,1216.8 627.6,1216.8 627.7,1216.8 627.9,1216.8 628.1,1216.7 628.3,1216.7 628.4,1216.7 628.6,1216.7 628.8,1216.6 629.0,1216.6 629.2,1216.6 629.3,1216.5 629.5,1216.5 629.7,1216.5 629.9,1216.4 630.0,1216.4 630.2,1216.3 630.4,1216.3 630.6,1216.3 630.7,1216.2 630.9,1216.2 631.1,1216.1 631.3,1216.1 631.4,1216.0 631.6,1216.0 631.8,1215.9 632.0,1215.9 632.1,1215.8 632.3,1215.8 632.5,1215.7 632.7,1215.6 632.8,1215.6 633.0,1215.5 633.2,1215.4 633.4,1215.3 633.5,1215.2 633.7,1215.2 633.9,1215.1 634.1,1215.0 634.3,1214.9 634.4,1214.8 634.6,1214.6 634.8,1214.5 635.0,1214.4 635.1,1214.3 635.3,1214.1 635.5,1214.0 635.7,1213.8 635.8,1213.6 636.0,1213.5 636.2,1213.3 636.4,1213.1 636.5,1212.9 636.7,1212.6 636.9,1212.4 637.1,1212.1 637.2,1211.9 637.4,1211.6 637.6,1211.3 637.8,1211.0 637.9,1210.7 638.1,1210.4 638.3,1210.0 638.5,1209.6 638.6,1209.2 638.8,1208.8 639.0,1208.4 639.2,1208.0 639.4,1207.5 639.5,1207.0 639.7,1206.5 639.9,1206.0 640.1,1205.4 640.2,1204.8 640.4,1204.2 640.6,1203.6 640.8,1203.0 640.9,1202.3 641.1,1201.6 641.3,1200.9 641.5,1200.2 641.6,1199.5 641.8,1198.7 642.0,1197.9 642.2,1197.1 642.3,1196.3 642.5,1195.5 642.7,1194.6 642.9,1193.7 643.0,1192.8 643.2,1191.9 643.4,1191.0 643.6,1190.1 643.7,1189.2 643.9,1188.3 644.1,1187.4 644.3,1186.4 644.5,1185.5 644.6,1184.6 644.8,1183.7 645.0,1182.8 645.2,1182.0 645.3,1181.1 645.5,1180.3 645.7,1179.5 645.9,1178.8 646.0,1178.1 646.2,1177.4 646.4,1176.8 646.6,1176.2 646.7,1175.7 646.9,1175.2 647.1,1174.8 647.3,1174.5 647.4,1174.3 647.6,1174.1 647.8,1174.0 648.0,1173.9 648.1,1174.0 648.3,1174.1 648.5,1174.3 648.7,1174.5 648.8,1174.8 649.0,1175.2 649.2,1175.7 649.4,1176.2 649.5,1176.8 649.7,1177.4 649.9,1178.1 650.1,1178.8 650.3,1179.5 650.4,1180.3 650.6,1181.1 650.8,1182.0 651.0,1182.9 651.1,1183.7 651.3,1184.6 651.5,1185.5 651.7,1186.5 651.8,1187.4 652.0,1188.3 652.2,1189.2 652.4,1190.2 652.5,1191.1 652.7,1192.0 652.9,1192.9 653.1,1193.7 653.2,1194.6 653.4,1195.5 653.6,1196.3 653.8,1197.1 653.9,1197.9 654.1,1198.7 654.3,1199.5 654.5,1200.2 654.6,1201.0 654.8,1201.7 655.0,1202.3 655.2,1203.0 655.4,1203.6 655.5,1204.3 655.7,1204.9 655.9,1205.4 656.1,1206.0 656.2,1206.5 656.4,1207.0 656.6,1207.5 656.8,1208.0 656.9,1208.4 657.1,1208.9 657.3,1209.3 657.5,1209.7 657.6,1210.0 657.8,1210.4 658.0,1210.7 658.2,1211.1 658.3,1211.4 658.5,1211.6 658.7,1211.9 658.9,1212.2 659.0,1212.4 659.2,1212.7 659.4,1212.9 659.6,1213.1 659.7,1213.3 659.9,1213.5 660.1,1213.7 660.3,1213.8 660.5,1214.0 660.6,1214.2 660.8,1214.3 661.0,1214.4 661.2,1214.6 661.3,1214.7 661.5,1214.8 661.7,1214.9 661.9,1215.0 662.0,1215.1 662.2,1215.2 662.4,1215.3 662.6,1215.4 662.7,1215.5 662.9,1215.5 663.1,1215.6 663.3,1215.7 663.4,1215.8 663.6,1215.8 663.8,1215.9 664.0,1215.9 664.1,1216.0 664.3,1216.1 664.5,1216.1 664.7,1216.2 664.8,1216.2 665.0,1216.2 665.2,1216.3 665.4,1216.3 665.6,1216.4 665.7,1216.4 665.9,1216.5 666.1,1216.5 666.3,1216.5 666.4,1216.6 666.6,1216.6 666.8,1216.6 667.0,1216.7 667.1,1216.7 667.3,1216.7 667.5,1216.7 667.7,1216.8 667.8,1216.8 668.0,1216.8 668.2,1216.9 668.4,1216.9 668.5,1216.9 668.7,1216.9 668.9,1217.0 669.1,1217.0 669.2,1217.0 669.4,1217.0 669.6,1217.0 669.8,1217.1 669.9,1217.1 670.1,1217.1 670.3,1217.1 670.5,1217.1 670.6,1217.2 670.8,1217.2 671.0,1217.2 671.2,1217.2 671.4,1217.2 671.5,1217.3 671.7,1217.3 671.9,1217.3 672.1,1217.3 672.2,1217.3 672.4,1217.3 672.6,1217.3 672.8,1217.4 672.9,1217.4 673.1,1217.4 673.3,1217.4 673.5,1217.4 673.6,1217.4 673.8,1217.4 674.0,1217.5 674.2,1217.5 674.3,1217.5 674.5,1217.5 674.7,1217.5 674.9,1217.5 675.0,1217.5 675.2,1217.5 675.4,1217.6 675.6,1217.6 675.7,1217.6 675.9,1217.6 676.1,1217.6 676.3,1217.6 676.5,1217.6 676.6,1217.6 676.8,1217.6 677.0,1217.6 677.2,1217.6 677.3,1217.7 677.5,1217.7 677.7,1217.7 677.9,1217.7 678.0,1217.7 678.2,1217.7 678.4,1217.7 678.6,1217.7 678.7,1217.7 678.9,1217.7 679.1,1217.7 679.3,1217.7 679.4,1217.8 679.6,1217.8 679.8,1217.8 680.0,1217.8 680.1,1217.8 680.3,1217.8 680.5,1217.8 680.7,1217.8 680.8,1217.8 681.0,1217.8 681.2,1217.8 681.4,1217.8 681.6,1217.8 681.7,1217.8 683.1,1217.9 684.5,1217.9 685.9,1217.9 687.4,1218.0 688.8,1218.0 690.2,1218.0 691.6,1218.0 693.0,1218.0 694.4,1218.0 695.8,1218.0 697.2,1218.0 698.6,1218.0 700.0,1218.0 701.4,1218.0 702.8,1218.0 704.2,1218.0 705.6,1218.0 707.0,1217.9 707.2,1217.9 707.4,1217.9 707.6,1217.9 707.8,1217.9 707.9,1217.9 708.1,1217.9 708.3,1217.9 708.5,1217.9 708.6,1217.9 708.8,1217.9 709.0,1217.9 709.2,1217.9 709.3,1217.9 709.5,1217.9 709.7,1217.9 709.9,1217.9 710.0,1217.9 710.2,1217.9 710.4,1217.9 710.6,1217.9 710.7,1217.8 710.9,1217.8 711.1,1217.8 711.3,1217.8 711.4,1217.8 711.6,1217.8 711.8,1217.8 712.0,1217.8 712.1,1217.8 712.3,1217.8 712.5,1217.8 712.7,1217.8 712.8,1217.8 713.0,1217.8 713.2,1217.8 713.4,1217.7 713.6,1217.7 713.7,1217.7 713.9,1217.7 714.1,1217.7 714.3,1217.7 714.4,1217.7 714.6,1217.7 714.8,1217.7 715.0,1217.7 715.1,1217.7 715.3,1217.7 715.5,1217.6 715.7,1217.6 715.8,1217.6 716.0,1217.6 716.2,1217.6 716.4,1217.6 716.5,1217.6 716.7,1217.6 716.9,1217.6 717.1,1217.5 717.2,1217.5 717.4,1217.5 717.6,1217.5 717.8,1217.5 717.9,1217.5 718.1,1217.5 718.3,1217.5 718.5,1217.4 718.7,1217.4 718.8,1217.4 719.0,1217.4 719.2,1217.4 719.4,1217.4 719.5,1217.4 719.7,1217.3 719.9,1217.3 720.1,1217.3 720.2,1217.3 720.4,1217.3 720.6,1217.3 720.8,1217.2 720.9,1217.2 721.1,1217.2 721.3,1217.2 721.5,1217.2 721.6,1217.1 721.8,1217.1 722.0,1217.1 722.2,1217.1 722.3,1217.1 722.5,1217.0 722.7,1217.0 722.9,1217.0 723.0,1217.0 723.2,1216.9 723.4,1216.9 723.6,1216.9 723.8,1216.9 723.9,1216.8 724.1,1216.8 724.3,1216.8 724.5,1216.7 724.6,1216.7 724.8,1216.7 725.0,1216.6 725.2,1216.6 725.3,1216.6 725.5,1216.5 725.7,1216.5 725.9,1216.4 726.0,1216.4 726.2,1216.4 726.4,1216.3 726.6,1216.3 726.7,1216.2 726.9,1216.2 727.1,1216.1 727.3,1216.0 727.4,1216.0 727.6,1215.9 727.8,1215.9 728.0,1215.8 728.1,1215.7 728.3,1215.6 728.5,1215.6 728.7,1215.5 728.9,1215.4 729.0,1215.3 729.2,1215.2 729.4,1215.1 729.6,1215.0 729.7,1214.9 729.9,1214.8 730.1,1214.7 730.3,1214.5 730.4,1214.4 730.6,1214.3 730.8,1214.1 731.0,1214.0 731.1,1213.8 731.3,1213.6 731.5,1213.5 731.7,1213.3 731.8,1213.1 732.0,1212.9 732.2,1212.6 732.4,1212.4 732.5,1212.2 732.7,1211.9 732.9,1211.7 733.1,1211.4 733.2,1211.1 733.4,1210.8 733.6,1210.5 733.8,1210.1 733.9,1209.8 734.1,1209.4 734.3,1209.1 734.5,1208.7 734.7,1208.3 734.8,1207.9 735.0,1207.4 735.2,1207.0 735.4,1206.5 735.5,1206.0 735.7,1205.5 735.9,1205.0 736.1,1204.5 736.2,1203.9 736.4,1203.4 736.6,1202.8 736.8,1202.2 736.9,1201.6 737.1,1200.9 737.3,1200.3 737.5,1199.6 737.6,1199.0 737.8,1198.3 738.0,1197.6 738.2,1196.9 738.3,1196.2 738.5,1195.4 738.7,1194.7 738.9,1193.9 739.0,1193.2 739.2,1192.4 739.4,1191.7 739.6,1190.9 739.8,1190.1 739.9,1189.4 740.1,1188.6 740.3,1187.8 740.5,1187.1 740.6,1186.4 740.8,1185.6 741.0,1184.9 741.2,1184.2 741.3,1183.6 741.5,1182.9 741.7,1182.3 741.9,1181.7 742.0,1181.2 742.2,1180.6 742.4,1180.2 742.6,1179.7 742.7,1179.3 742.9,1179.0 743.1,1178.7 743.3,1178.4 743.4,1178.2 743.6,1178.1 743.8,1178.0 744.0,1178.0 744.1,1178.0 744.3,1178.1 744.5,1178.2 744.7,1178.4 744.9,1178.7 745.0,1179.0 745.2,1179.3 745.4,1179.7 745.6,1180.2 745.7,1180.6 745.9,1181.1 746.1,1181.7 746.3,1182.3 746.4,1182.9 746.6,1183.6 746.8,1184.2 747.0,1184.9 747.1,1185.6 747.3,1186.3 747.5,1187.1 747.7,1187.8 747.8,1188.6 748.0,1189.3 748.2,1190.1 748.4,1190.9 748.5,1191.6 748.7,1192.4 748.9,1193.1 749.1,1193.9 749.2,1194.6 749.4,1195.4 749.6,1196.1 749.8,1196.8 750.0,1197.5 750.1,1198.2 750.3,1198.9 750.5,1199.6 750.7,1200.2 750.8,1200.9 751.0,1201.5 751.2,1202.1 751.4,1202.7 751.5,1203.3 751.7,1203.9 751.9,1204.4 752.1,1204.9 752.2,1205.5 752.4,1206.0 752.6,1206.4 752.8,1206.9 752.9,1207.4 753.1,1207.8 753.3,1208.2 753.5,1208.6 753.6,1209.0 753.8,1209.4 754.0,1209.7 754.2,1210.1 754.3,1210.4 754.5,1210.7 754.7,1211.0 754.9,1211.3 755.0,1211.6 755.2,1211.8 755.4,1212.1 755.6,1212.3 755.8,1212.5 755.9,1212.8 756.1,1213.0 756.3,1213.2 756.5,1213.3 756.6,1213.5 756.8,1213.7 757.0,1213.9 757.2,1214.0 757.3,1214.1 757.5,1214.3 757.7,1214.4 757.9,1214.5 758.0,1214.7 758.2,1214.8 758.4,1214.9 758.6,1215.0 758.7,1215.1 758.9,1215.2 759.1,1215.3 759.3,1215.3 759.4,1215.4 759.6,1215.5 759.8,1215.6 760.0,1215.6 760.1,1215.7 760.3,1215.8 760.5,1215.8 760.7,1215.9 760.9,1215.9 761.0,1216.0 761.2,1216.0 761.4,1216.1 761.6,1216.1 761.7,1216.2 761.9,1216.2 762.1,1216.2 762.3,1216.3 762.4,1216.3 762.6,1216.4 762.8,1216.4 763.0,1216.4 763.1,1216.5 763.3,1216.5 763.5,1216.5 763.7,1216.5 763.8,1216.6 764.0,1216.6 764.2,1216.6 764.4,1216.6 764.5,1216.7 764.7,1216.7 764.9,1216.7 765.1,1216.7 765.2,1216.7 765.4,1216.8 765.6,1216.8 765.8,1216.8 766.0,1216.8 766.1,1216.8 766.3,1216.9 766.5,1216.9 766.7,1216.9 766.8,1216.9 767.0,1216.9 767.2,1216.9 767.4,1216.9 767.5,1216.9 767.7,1217.0 767.9,1217.0 768.1,1217.0 768.2,1217.0 768.4,1217.0 768.6,1217.0 768.8,1217.0 768.9,1217.0 769.1,1217.0 769.3,1217.0 769.5,1217.1 769.6,1217.1 769.8,1217.1 770.0,1217.1 770.2,1217.1 770.3,1217.1 770.5,1217.1 770.7,1217.1 770.9,1217.1 771.1,1217.1 771.2,1217.1 771.4,1217.1 771.6,1217.1 771.8,1217.1 771.9,1217.1 772.1,1217.1 772.3,1217.1 772.5,1217.1 772.6,1217.1 772.8,1217.1 773.0,1217.1 773.2,1217.1 773.3,1217.1 773.5,1217.1 773.7,1217.1 773.9,1217.1 774.0,1217.1 774.2,1217.1 774.4,1217.1 774.6,1217.1 774.7,1217.1 774.9,1217.1 775.1,1217.1 775.3,1217.1 775.4,1217.1 775.6,1217.1 775.8,1217.1 776.0,1217.1 776.1,1217.1 776.3,1217.1 776.5,1217.0 776.7,1217.0 776.9,1217.0 777.0,1217.0 777.2,1217.0 777.4,1217.0 777.6,1217.0 777.7,1217.0 777.9,1217.0 778.1,1217.0 778.3,1216.9 778.4,1216.9 778.6,1216.9 778.8,1216.9 779.0,1216.9 779.1,1216.9 779.3,1216.9 779.5,1216.9 779.7,1216.8 779.8,1216.8 780.0,1216.8 780.2,1216.8 780.4,1216.8 780.5,1216.8 780.7,1216.7 780.9,1216.7 781.1,1216.7 781.2,1216.7 781.4,1216.7 781.6,1216.6 781.8,1216.6 782.0,1216.6 782.1,1216.6 782.3,1216.5 782.5,1216.5 782.7,1216.5 782.8,1216.5 783.0,1216.4 783.2,1216.4 783.4,1216.4 783.5,1216.3 783.7,1216.3 783.9,1216.3 784.1,1216.2 784.2,1216.2 784.4,1216.2 784.6,1216.1 784.8,1216.1 784.9,1216.1 785.1,1216.0 785.3,1216.0 785.5,1215.9 785.6,1215.9 785.8,1215.9 786.0,1215.8 786.2,1215.8 786.3,1215.7 786.5,1215.7 786.7,1215.6 786.9,1215.5 787.1,1215.5 787.2,1215.4 787.4,1215.4 787.6,1215.3 787.8,1215.2 787.9,1215.2 788.1,1215.1 788.3,1215.0 788.5,1214.9 788.6,1214.8 788.8,1214.7 789.0,1214.7 789.2,1214.6 789.3,1214.5 789.5,1214.3 789.7,1214.2 789.9,1214.1 790.0,1214.0 790.2,1213.9 790.4,1213.7 790.6,1213.6 790.7,1213.4 790.9,1213.3 791.1,1213.1 791.3,1212.9 791.4,1212.7 791.6,1212.5 791.8,1212.3 792.0,1212.1 792.2,1211.8 792.3,1211.6 792.5,1211.3 792.7,1211.0 792.9,1210.7 793.0,1210.4 793.2,1210.1 793.4,1209.7 793.6,1209.3 793.7,1208.9 793.9,1208.5 794.1,1208.1 794.3,1207.6 794.4,1207.1 794.6,1206.6 794.8,1206.1 795.0,1205.5 795.1,1204.9 795.3,1204.3 795.5,1203.7 795.7,1203.0 795.8,1202.3 796.0,1201.5 796.2,1200.8 796.4,1200.0 796.5,1199.1 796.7,1198.3 796.9,1197.4 797.1,1196.4 797.2,1195.4 797.4,1194.4 797.6,1193.4 797.8,1192.3 798.0,1191.2 798.1,1190.1 798.3,1189.0 798.5,1187.8 798.7,1186.5 798.8,1185.3 799.0,1184.0 799.2,1182.7 799.4,1181.4 799.5,1180.1 799.7,1178.7 799.9,1177.3 800.1,1176.0 800.2,1174.6 800.4,1173.2 800.6,1171.8 800.8,1170.4 800.9,1169.0 801.1,1167.6 801.3,1166.2 801.5,1164.9 801.6,1163.6 801.8,1162.3 802.0,1161.1 802.2,1159.9 802.3,1158.7 802.5,1157.6 802.7,1156.6 802.9,1155.7 803.1,1154.8 803.2,1154.0 803.4,1153.3 803.6,1152.8 803.8,1152.3 803.9,1151.9 804.1,1151.6 804.3,1151.4 804.5,1151.4 804.6,1151.4 804.8,1151.6 805.0,1151.9 805.2,1152.3 805.3,1152.8 805.5,1153.4 805.7,1154.1 805.9,1154.8 806.0,1155.7 806.2,1156.7 806.4,1157.7 806.6,1158.8 806.7,1159.9 806.9,1161.1 807.1,1162.4 807.3,1163.6 807.4,1165.0 807.6,1166.3 807.8,1167.7 808.0,1169.1 808.2,1170.5 808.3,1171.9 808.5,1173.3 808.7,1174.7 808.9,1176.1 809.0,1177.4 809.2,1178.8 809.4,1180.2 809.6,1181.5 809.7,1182.8 809.9,1184.1 810.1,1185.4 810.3,1186.7 810.4,1187.9 810.6,1189.1 810.8,1190.3 811.0,1191.4 811.1,1192.5 811.3,1193.6 811.5,1194.6 811.7,1195.6 811.8,1196.6 812.0,1197.5 812.2,1198.4 812.4,1199.3 812.5,1200.1 812.7,1201.0 812.9,1201.7 813.1,1202.5 813.3,1203.2 813.4,1203.9 813.6,1204.5 813.8,1205.1 814.0,1205.7 814.1,1206.3 814.3,1206.8 814.5,1207.4 814.7,1207.9 814.8,1208.3 815.0,1208.8 815.2,1209.2 815.4,1209.6 815.5,1210.0 815.7,1210.3 815.9,1210.7 816.1,1211.0 816.2,1211.3 816.4,1211.6 816.6,1211.9 816.8,1212.1 816.9,1212.4 817.1,1212.6 817.3,1212.8 817.5,1213.0 817.6,1213.2 817.8,1213.4 818.0,1213.6 818.2,1213.7 818.3,1213.9 818.5,1214.1 818.7,1214.2 818.9,1214.3 819.1,1214.5 819.2,1214.6 819.4,1214.7 819.6,1214.8 819.8,1214.9 819.9,1215.0 820.1,1215.1 820.3,1215.2 820.5,1215.3 820.6,1215.4 820.8,1215.5 821.0,1215.6 821.2,1215.6 821.3,1215.7 821.5,1215.8 821.7,1215.9 821.9,1215.9 822.0,1216.0 822.2,1216.1 822.4,1216.1 822.6,1216.2 822.7,1216.2 822.9,1216.3 823.1,1216.3 823.3,1216.4 823.4,1216.4 823.6,1216.5 823.8,1216.5 824.0,1216.6 824.2,1216.6 824.3,1216.7 824.5,1216.7 824.7,1216.7 824.9,1216.8 825.0,1216.8 825.2,1216.9 825.4,1216.9 825.6,1216.9 825.7,1217.0 825.9,1217.0 826.1,1217.0 826.3,1217.1 826.4,1217.1 826.6,1217.1 826.8,1217.2 827.0,1217.2 827.1,1217.2 827.3,1217.3 827.5,1217.3 827.7,1217.3 827.8,1217.3 828.0,1217.4 828.2,1217.4 828.4,1217.4 828.5,1217.5 828.7,1217.5 828.9,1217.5 829.1,1217.5 829.3,1217.5 829.4,1217.6 829.6,1217.6 829.8,1217.6 830.0,1217.6 830.1,1217.7 830.3,1217.7 830.5,1217.7 830.7,1217.7 830.8,1217.7 831.0,1217.8 831.2,1217.8 831.4,1217.8 831.5,1217.8 831.7,1217.8 831.9,1217.9 832.1,1217.9 832.2,1217.9 832.4,1217.9 832.6,1217.9 832.8,1217.9 832.9,1218.0 833.1,1218.0 833.3,1218.0 833.5,1218.0 833.6,1218.0 833.8,1218.0 834.0,1218.0 834.2,1218.1 834.4,1218.1 834.5,1218.1 834.7,1218.1 834.9,1218.1 835.1,1218.1 835.2,1218.1 835.4,1218.2 835.6,1218.2 835.8,1218.2 835.9,1218.2 836.1,1218.2 836.3,1218.2 836.5,1218.2 836.6,1218.2 836.8,1218.3 837.0,1218.3 837.2,1218.3 837.3,1218.3 837.5,1218.3 837.7,1218.3 837.9,1218.3 838.0,1218.3 838.2,1218.3 839.6,1218.4 841.0,1218.5 842.4,1218.6 843.8,1218.6 845.3,1218.7 846.7,1218.7 848.1,1218.8 849.5,1218.8 850.9,1218.8 852.3,1218.9 853.7,1218.9 855.1,1218.9 856.5,1219.0 857.9,1219.0 859.3,1219.0 860.7,1219.0 862.1,1219.1 863.5,1219.1 864.9,1219.1 866.4,1219.1 867.8,1219.2 869.2,1219.2 870.6,1219.2 872.0,1219.2 873.4,1219.2 874.8,1219.2 876.2,1219.3 877.6,1219.3 879.0,1219.3 880.4,1219.3 881.8,1219.3 883.2,1219.3 884.6,1219.3 886.0,1219.3 887.5,1219.4 888.9,1219.4 890.3,1219.4 891.7,1219.4 893.1,1219.4 894.5,1219.4 895.9,1219.4 897.3,1219.4 898.7,1219.4 900.1,1219.5 901.5,1219.5 902.9,1219.5 904.3,1219.5 905.7,1219.5 907.1,1219.5 908.6,1219.5 910.0,1219.5 911.4,1219.5 912.8,1219.5 914.2,1219.5 915.6,1219.6 917.0,1219.6 918.4,1219.6 919.8,1219.6 921.2,1219.6 922.6,1219.6 924.0,1219.6 925.4,1219.6 926.8,1219.6 928.2,1219.6 929.7,1219.6 931.1,1219.6 932.5,1219.7 933.9,1219.7 935.3,1219.7 936.7,1219.7 938.1,1219.7 939.5,1219.7 940.9,1219.7 942.3,1219.7 943.7,1219.7 945.1,1219.7 946.5,1219.7 947.9,1219.7 949.3,1219.7 950.8,1219.7 952.2,1219.7 953.6,1219.7 955.0,1219.7 956.4,1219.7 957.8,1219.7 959.2,1219.7 960.6,1219.7 962.0,1219.7 963.4,1219.7 964.8,1219.7 966.2,1219.7 967.6,1219.7 969.0,1219.7 970.4,1219.7 971.9,1219.7 973.3,1219.7 974.7,1219.7 976.1,1219.7 977.5,1219.7 978.9,1219.7 980.3,1219.7 981.7,1219.7 983.1,1219.7 984.5,1219.7 985.9,1219.7 987.3,1219.7 988.7,1219.7 990.1,1219.7 991.5,1219.7 993.0,1219.7 994.4,1219.7 995.8,1219.7 997.2,1219.7 998.6,1219.7 1000.0,1219.7 1001.4,1219.7 1002.8,1219.7 1004.2,1219.7 1005.6,1219.7 1007.0,1219.7 1008.4,1219.7 1009.8,1219.7 1011.2,1219.7 1012.6,1219.7 1014.1,1219.7 1015.5,1219.7 1016.9,1219.7 1018.3,1219.7 1019.7,1219.7 1021.1,1219.7 1022.5,1219.7 1023.9,1219.7 1025.3,1219.7 1026.7,1219.7 1028.1,1219.7 1029.5,1219.7 1030.9,1219.7 1032.3,1219.7 1033.7,1219.7 1035.2,1219.7 1036.6,1219.7 1038.0,1219.7 1039.4,1219.7 1040.8,1219.7 1042.2,1219.7 1043.6,1219.7 1045.0,1219.7 1046.4,1219.7 1047.8,1219.7 1049.2,1219.7 1050.6,1219.7 1052.0,1219.7 1053.4,1219.7 1054.8,1219.7 1056.3,1219.7 1057.7,1219.7 1059.1,1219.7 1060.5,1219.7 1061.9,1219.7 1063.3,1219.7 1064.7,1219.7 1066.1,1219.7 1067.5,1219.7 1068.9,1219.7 1070.3,1219.7 1071.7,1219.7 1073.1,1219.7 1074.5,1219.7 1075.9,1219.7 1077.4,1219.7 1078.8,1219.7 1080.2,1219.7 1081.6,1219.7 1083.0,1219.7 1084.4,1219.7 1085.8,1219.7 1087.2,1219.7 1088.6,1219.7 1090.0,1219.7 1091.4,1219.7 1092.8,1219.7 1094.2,1219.7 1095.6,1219.7 1097.0,1219.7 1098.5,1219.7 1099.9,1219.7 1101.3,1219.7 1102.7,1219.7 1104.1,1219.7 1105.5,1219.7 1106.9,1219.7 1108.3,1219.7 1109.7,1219.7 1111.1,1219.7 1112.5,1219.7 1113.9,1219.7 1115.3,1219.7 1116.7,1219.7 1118.1,1219.7 1119.6,1219.7 1121.0,1219.7 1122.4,1219.7 1123.8,1219.7 1125.2,1219.7 1126.6,1219.7 1128.0,1219.7 1129.4,1219.7 1130.8,1219.7 1132.2,1219.7 1133.6,1219.7 1135.0,1219.7 1136.4,1219.7 1137.8,1219.7 1139.2,1219.7 1140.7,1219.7 1142.1,1219.7 1143.5,1219.7 1144.9,1219.7 1146.3,1219.7 1147.7,1219.7 1149.1,1219.7 1150.5,1219.6 1151.9,1219.6 1153.3,1219.6 1154.7,1219.6 1156.1,1219.6 1157.5,1219.6 1158.9,1219.6 1160.3,1219.6 1161.8,1219.6 1163.2,1219.6 1164.6,1219.6 1166.0,1219.6 1167.4,1219.6 1168.8,1219.5 1170.2,1219.5 1171.6,1219.5 1173.0,1219.5 1174.4,1219.5 1175.8,1219.5 1177.2,1219.4 1178.6,1219.4 1180.0,1219.4 1181.4,1219.3 1182.9,1219.3 1184.3,1219.2 1185.7,1219.1 1187.1,1219.0 1188.5,1218.9 1189.9,1218.7 1191.3,1218.3 1192.7,1217.9 1194.1,1217.2 1195.5,1216.3 1196.9,1215.0 1198.3,1213.5 1199.7,1211.8 1201.1,1210.0 1202.5,1208.5 1204.0,1207.8 1205.4,1208.0 1206.8,1209.2 1208.2,1210.8 1209.6,1212.6 1211.0,1214.3 1212.4,1215.7 1213.8,1216.8 1215.2,1217.6 1216.6,1218.1 1218.0,1218.5 1219.4,1218.8 1220.8,1218.9 1222.2,1219.1 1223.6,1219.2 1225.1,1219.2 1226.5,1219.3 1227.9,1219.3 1229.3,1219.4 1230.7,1219.4 1232.1,1219.4 1233.5,1219.5 1234.9,1219.5 1236.3,1219.5 1237.7,1219.5 1239.1,1219.5 1240.5,1219.5 1241.9,1219.6 1243.3,1219.6 1244.7,1219.6 1246.2,1219.6 1247.6,1219.6 1249.0,1219.6 1250.4,1219.6 1251.8,1219.6 1253.2,1219.6 1254.6,1219.6 1256.0,1219.6 1257.4,1219.6 1258.8,1219.6 1260.2,1219.6 1261.6,1219.6 1263.0,1219.6 1264.4,1219.6 1265.8,1219.6 1267.3,1219.6 1268.7,1219.6 1270.1,1219.6 1271.5,1219.6 1272.9,1219.7 1274.3,1219.7 1275.7,1219.7 1277.1,1219.7 1278.5,1219.7 1279.9,1219.7 1281.3,1219.7 1282.7,1219.7 1284.1,1219.7 1285.5,1219.7 1286.9,1219.7 1288.4,1219.7 1289.8,1219.7 1291.2,1219.7 1292.6,1219.7 1294.0,1219.7 1295.4,1219.7 1296.8,1219.7 1298.2,1219.7 1299.6,1219.7 1301.0,1219.7 1302.4,1219.7 1303.8,1219.7 1305.2,1219.7 1306.6,1219.7 1308.0,1219.7 1309.5,1219.7 1310.9,1219.7 1312.3,1219.7 1313.7,1219.7 1315.1,1219.7 1316.5,1219.7 1317.9,1219.7 1319.3,1219.7 1320.7,1219.7 1322.1,1219.7 1323.5,1219.7 1324.9,1219.7 1326.3,1219.7 1327.7,1219.7 1329.1,1219.7 1330.6,1219.7 1332.0,1219.7 1333.4,1219.7 1334.8,1219.7 1336.2,1219.7 1337.6,1219.7 1339.0,1219.7 1340.4,1219.7 1341.8,1219.7 1343.2,1219.7 1344.6,1219.7 1346.0,1219.7 1347.4,1219.7 1348.8,1219.7 1350.2,1219.6 1351.7,1219.6 1353.1,1219.6 1354.5,1219.6 1355.9,1219.6 1357.3,1219.6 1358.7,1219.6 1360.1,1219.6 1361.5,1219.6 1362.9,1219.6 1364.3,1219.6 1365.7,1219.6 1367.1,1219.6 1368.5,1219.6 1369.9,1219.6 1371.3,1219.6 1372.8,1219.6 1374.2,1219.6 1375.6,1219.6 1377.0,1219.6 1378.4,1219.6 1379.8,1219.6 1381.2,1219.6 1382.6,1219.6 1384.0,1219.6 1385.4,1219.6 1386.8,1219.6 1388.2,1219.6 1389.6,1219.6 1391.0,1219.6 1392.4,1219.6 1393.9,1219.6 1395.3,1219.6 1396.7,1219.6 1398.1,1219.6 1399.5,1219.6 1400.9,1219.6 1402.3,1219.6 1403.7,1219.6 1405.1,1219.6 1406.5,1219.6 1407.9,1219.6 1409.3,1219.6 1410.7,1219.6 1412.1,1219.6 1413.5,1219.6 1415.0,1219.6 1416.4,1219.6 1417.8,1219.6 1419.2,1219.6 1420.6,1219.6 1422.0,1219.6 1423.4,1219.6 1424.8,1219.6 1426.2,1219.6 1427.6,1219.6 1429.0,1219.6 1430.4,1219.6 1431.8,1219.6 1433.2,1219.6 1434.6,1219.6 1436.1,1219.6 1437.5,1219.6 1438.9,1219.6 1440.3,1219.6 1441.7,1219.5 1443.1,1219.5 1444.5,1219.5 1445.9,1219.5 1447.3,1219.5 1448.7,1219.5 1450.1,1219.5 1451.5,1219.5 1452.9,1219.5 1454.3,1219.5 1455.7,1219.5 1457.2,1219.5 1458.6,1219.5 1460.0,1219.5 1461.4,1219.5 1462.8,1219.5 1464.2,1219.5 1465.6,1219.5 1467.0,1219.5 1468.4,1219.5 1469.8,1219.5 1471.2,1219.4 1472.6,1219.4 1474.0,1219.4 1475.4,1219.4 1476.8,1219.4 1478.3,1219.4 1479.7,1219.4 1481.1,1219.4 1482.5,1219.4 1483.9,1219.4 1485.3,1219.3 1486.7,1219.3 1488.1,1219.3 1489.5,1219.3 1490.9,1219.3 1492.3,1219.2 1493.7,1219.2 1495.1,1219.2 1496.5,1219.1 1497.9,1219.1 1499.4,1219.0 1500.8,1219.0 1502.2,1218.9 1503.6,1218.8 1505.0,1218.7 1506.4,1218.6 1507.8,1218.3 1509.2,1218.0 1510.6,1217.5 1512.0,1216.9 1513.4,1215.9 1514.8,1214.6 1516.2,1212.9 1517.6,1211.0 1519.0,1209.0 1520.5,1207.2 1521.9,1206.1 1523.3,1206.1 1524.7,1207.2 1526.1,1208.9 1527.5,1211.0 1528.9,1212.9 1530.3,1214.5 1531.7,1215.8 1533.1,1216.8 1534.5,1217.5 1535.9,1217.9 1537.3,1218.2 1538.7,1218.5 1540.1,1218.6 1541.6,1218.7 1543.0,1218.8 1544.4,1218.8 1545.8,1218.9 1547.2,1218.9 1548.6,1219.0 1550.0,1219.0 1551.4,1219.0 1552.8,1219.0 1554.2,1219.1 1555.6,1219.1 1557.0,1219.1 1558.4,1219.1 1559.8,1219.1 1561.2,1219.1 1562.7,1219.1 1564.1,1219.1 1565.5,1219.1 1566.9,1219.1 1568.3,1219.1 1569.7,1219.1 1571.1,1219.1 1572.5,1219.1 1573.9,1219.1 1575.3,1219.1 1576.7,1219.1 1578.1,1219.1 1579.5,1219.1 1580.9,1219.1 1582.3,1219.0 1583.8,1219.0 1585.2,1219.0 1586.6,1219.0 1588.0,1219.0 1589.4,1219.0 1590.8,1219.0 1592.2,1219.0 1593.6,1219.0 1595.0,1218.9 1596.4,1218.9 1597.8,1218.9 1599.2,1218.9 1600.6,1218.9 1602.0,1218.9 1603.4,1218.9 1604.9,1218.8 1606.3,1218.8 1607.7,1218.8 1609.1,1218.8 1610.5,1218.7 1611.9,1218.7 1613.3,1218.7 1614.7,1218.7 1616.1,1218.6 1617.5,1218.6 1618.9,1218.6 1620.3,1218.5 1621.7,1218.5 1623.1,1218.5 1624.5,1218.4 1626.0,1218.4 1627.4,1218.3 1628.8,1218.2 1630.2,1216.4 1631.6,1214.0 1633.0,1212.1 1634.4,1211.9 1635.8,1211.6 1637.2,1211.2 1638.6,1210.7 1640.0,1210.0 1641.4,1209.2 1642.8,1208.3 1644.2,1207.5 1645.6,1206.9 1647.1,1206.7 1648.5,1207.0 1649.9,1207.6 1651.3,1208.4 1652.7,1209.1 1654.1,1209.8 1655.5,1210.3 1656.9,1210.7 1658.3,1210.9 1659.7,1211.0 1661.1,1211.1 1662.5,1211.1 1663.9,1211.1 1665.3,1211.1 1666.7,1211.0 1668.2,1210.9 1669.6,1210.9 1671.0,1210.8 1672.4,1210.7 1673.8,1210.6 1675.2,1210.5 1676.6,1210.4 1678.0,1210.2 1679.4,1210.1 1680.8,1210.0 1682.2,1209.8 1683.6,1209.7 1685.0,1209.5 1686.4,1209.3 1687.8,1209.1 1689.3,1208.9 1690.7,1208.7 1692.1,1208.4 1693.5,1208.2 1694.9,1207.9 1696.3,1207.6 1697.7,1207.2 1699.1,1206.9 1700.5,1206.5 1701.9,1206.1 1703.3,1205.6 1704.7,1205.1 1706.1,1204.6 1707.5,1204.0 1708.9,1203.3 1710.4,1202.5 1711.8,1201.7 1713.2,1200.8 1714.6,1199.8 1716.0,1198.6 1717.4,1197.3 1718.8,1195.8 1720.2,1194.1 1721.6,1192.1 1721.8,1191.9 1722.0,1191.6 1722.1,1191.3 1722.3,1191.0 1722.5,1190.7 1722.7,1190.4 1722.8,1190.2 1723.0,1189.8 1723.2,1189.5 1723.4,1189.2 1723.5,1188.9 1723.7,1188.6 1723.9,1188.2 1724.1,1187.9 1724.2,1187.5 1724.4,1187.2 1724.6,1186.8 1724.8,1186.4 1724.9,1186.1 1725.1,1185.7 1725.3,1185.3 1725.5,1184.9 1725.7,1184.5 1725.8,1184.0 1726.0,1183.6 1726.2,1183.2 1726.4,1182.7 1726.5,1182.2 1726.7,1181.8 1726.9,1181.3 1727.1,1180.8 1727.2,1180.3 1727.4,1179.8 1727.6,1179.2 1727.8,1178.7 1727.9,1178.2 1728.1,1177.6 1728.3,1177.0 1728.5,1176.4 1728.6,1175.8 1728.8,1175.2 1729.0,1174.6 1729.2,1174.0 1729.3,1173.3 1729.5,1172.6 1729.7,1171.9 1729.9,1171.2 1730.0,1170.5 1730.2,1169.7 1730.4,1168.9 1730.6,1168.1 1730.7,1167.3 1730.9,1166.5 1731.1,1165.6 1731.3,1164.7 1731.5,1163.8 1731.6,1162.8 1731.8,1161.9 1732.0,1160.9 1732.2,1159.9 1732.3,1158.8 1732.5,1157.7 1732.7,1156.6 1732.9,1155.4 1733.0,1154.3 1733.2,1153.0 1733.4,1151.8 1733.6,1150.5 1733.7,1149.1 1733.9,1147.7 1734.1,1146.3 1734.3,1144.8 1734.4,1143.3 1734.6,1141.7 1734.8,1140.1 1735.0,1138.4 1735.1,1136.7 1735.3,1134.8 1735.5,1133.0 1735.7,1131.1 1735.8,1129.1 1736.0,1127.0 1736.2,1124.8 1736.4,1122.6 1736.6,1120.3 1736.7,1117.9 1736.9,1115.4 1737.1,1112.9 1737.3,1110.2 1737.4,1107.4 1737.6,1104.5 1737.8,1101.5 1738.0,1098.4 1738.1,1095.2 1738.3,1091.8 1738.5,1088.3 1738.7,1084.6 1738.8,1080.8 1739.0,1076.9 1739.2,1072.7 1739.4,1068.4 1739.5,1063.9 1739.7,1059.2 1739.9,1054.4 1740.1,1049.2 1740.2,1043.9 1740.4,1038.4 1740.6,1032.5 1740.8,1026.5 1740.9,1020.1 1741.1,1013.5 1741.3,1006.6 1741.5,999.3 1741.7,991.7 1741.8,983.8 1742.0,975.5 1742.2,966.9 1742.4,957.8 1742.5,948.4 1742.7,938.5 1742.9,928.2 1743.1,917.5 1743.2,906.3 1743.4,894.6 1743.6,882.5 1743.8,869.9 1743.9,856.9 1744.1,843.4 1744.3,829.4 1744.5,815.0 1744.6,800.2 1744.8,785.1 1745.0,769.6 1745.2,753.8 1745.3,737.9 1745.5,721.9 1745.7,705.8 1745.9,689.8 1746.0,674.1 1746.2,658.7 1746.4,643.8 1746.6,629.5 1746.8,616.1 1746.9,603.7 1747.1,592.5 1747.3,582.6 1747.5,574.1 1747.6,567.3 1747.8,562.2 1748.0,559.0 1748.2,557.6 1748.3,558.1 1748.5,560.4 1748.7,564.7 1748.9,570.7 1749.0,578.4 1749.2,587.6 1749.4,598.2 1749.6,610.1 1749.7,623.1 1749.9,636.9 1750.1,651.5 1750.3,666.7 1750.4,682.3 1750.6,698.2 1750.8,714.3 1751.0,730.4 1751.1,746.4 1751.3,762.3 1751.5,777.9 1751.7,793.3 1751.8,808.2 1752.0,822.9 1752.2,837.0 1752.4,850.8 1752.6,864.1 1752.7,876.9 1752.9,889.3 1753.1,901.2 1753.3,912.6 1753.4,923.6 1753.6,934.1 1753.8,944.2 1754.0,953.9 1754.1,963.1 1754.3,972.0 1754.5,980.5 1754.7,988.6 1754.8,996.3 1755.0,1003.8 1755.2,1010.9 1755.4,1017.7 1755.5,1024.2 1755.7,1030.4 1755.9,1036.3 1756.1,1042.0 1756.2,1047.5 1756.4,1052.7 1756.6,1057.7 1756.8,1062.5 1756.9,1067.1 1757.1,1071.6 1757.3,1075.8 1757.5,1079.9 1757.7,1083.8 1757.8,1087.5 1758.0,1091.1 1758.2,1094.5 1758.4,1097.9 1758.5,1101.1 1758.7,1104.1 1758.9,1107.1 1759.1,1109.9 1759.2,1112.7 1759.4,1115.3 1759.6,1117.9 1759.8,1120.3 1759.9,1122.7 1760.1,1125.0 1760.3,1127.2 1760.5,1129.3 1760.6,1131.3 1760.8,1133.3 1761.0,1135.2 1761.2,1137.1 1761.3,1138.9 1761.5,1140.6 1761.7,1142.3 1761.9,1143.9 1762.0,1145.5 1762.2,1147.0 1762.4,1148.5 1762.6,1149.9 1762.8,1151.3 1762.9,1152.6 1763.1,1153.9 1763.3,1155.2 1763.5,1156.4 1763.6,1157.6 1763.8,1158.7 1764.0,1159.9 1764.2,1161.0 1764.3,1162.0 1764.5,1163.0 1764.7,1164.0 1764.9,1165.0 1765.0,1166.0 1765.2,1166.9 1765.4,1167.8 1765.6,1168.6 1765.7,1169.5 1765.9,1170.3 1766.1,1171.1 1766.3,1171.9 1766.4,1172.7 1766.6,1173.4 1766.8,1174.1 1767.0,1174.8 1767.1,1175.5 1767.3,1176.2 1767.5,1176.9 1767.7,1177.5 1767.9,1178.1 1768.0,1178.7 1768.2,1179.3 1768.4,1179.9 1768.6,1180.5 1768.7,1181.1 1768.9,1181.6 1769.1,1182.1 1769.3,1182.6 1769.4,1183.2 1769.6,1183.7 1769.8,1184.1 1770.0,1184.6 1770.1,1185.1 1770.3,1185.5 1770.5,1186.0 1770.7,1186.4 1770.8,1186.8 1771.0,1187.3 1771.2,1187.7 1771.4,1188.1 1771.5,1188.5 1771.7,1188.8 1771.9,1189.2 1772.1,1189.6 1772.2,1189.9 1772.4,1190.3 1772.6,1190.7 1772.8,1191.0 1772.9,1191.3 1773.1,1191.7 1773.3,1192.0 1773.5,1192.3 1773.7,1192.6 1773.8,1192.9 1774.0,1193.2 1774.2,1193.5 1774.4,1193.8 1774.5,1194.1 1774.7,1194.3 1774.9,1194.6 1775.1,1194.9 1775.2,1195.1 1775.4,1195.4 1776.8,1197.3 1778.2,1199.0 1779.6,1200.5 1781.0,1201.8 1782.4,1202.9 1783.9,1204.0 1785.3,1204.9 1786.7,1205.8 1788.1,1206.5 1789.5,1207.1 1790.9,1207.7 1792.3,1208.2 1793.7,1208.7 1795.1,1209.1 1796.5,1209.5 1797.9,1209.9 1799.3,1210.2 1800.7,1210.5 1802.1,1210.8 1803.5,1211.1 1805.0,1211.3 1806.4,1211.6 1807.8,1211.8 1809.2,1212.0 1810.6,1212.2 1812.0,1212.3 1813.4,1212.5 1814.8,1212.6 1816.2,1212.8 1817.6,1212.9 1819.0,1213.0 1820.4,1213.2 1821.8,1213.3 1823.2,1213.4 1824.6,1213.5 1826.1,1213.6 1827.5,1213.7 1828.9,1213.8 1830.3,1213.8 1831.7,1213.9 1833.1,1214.0 1834.5,1214.1 1835.9,1214.1 1837.3,1214.2 1838.7,1214.2 1840.1,1214.3 1841.5,1214.3 1842.9,1214.4 1844.3,1214.4 1845.7,1214.5 1847.2,1214.5 1848.6,1214.6 1850.0,1214.6 1851.4,1214.7 1852.8,1214.7 1854.2,1214.7 1855.6,1214.8 1857.0,1214.8 1858.4,1214.8 1859.8,1214.8 1861.2,1214.9 1862.6,1214.9 1864.0,1214.9 1865.4,1215.0 1866.8,1215.0 1868.3,1215.0 1869.7,1215.0 1871.1,1215.0 1872.5,1215.1 1873.9,1215.1 1875.3,1215.1 1876.7,1215.1 1878.1,1215.1 1879.5,1215.1 1880.9,1215.1 1882.3,1215.1 1883.7,1215.2 1885.1,1215.2 1886.5,1215.2 1887.9,1215.2 1889.4,1215.2 1890.8,1215.2 1892.2,1215.2 1893.6,1215.2 1895.0,1215.2 1896.4,1215.2 1897.8,1215.1 1899.2,1215.1 1900.6,1215.1 1902.0,1215.1 1903.4,1215.0 1904.8,1215.0 1906.2,1214.9 1907.6,1214.9 1909.0,1214.7 1910.5,1214.6 1911.9,1214.3 1913.3,1213.9 1914.7,1213.3 1916.1,1212.5 1917.5,1211.5 1918.9,1210.2 1920.3,1208.8 1921.7,1207.5 1923.1,1206.4 1924.5,1206.0 1925.9,1206.4 1927.3,1207.5 1928.7,1208.8 1930.1,1210.2 1931.6,1211.5 1933.0,1212.6 1934.4,1213.4 1935.8,1213.9 1937.2,1214.3 1938.6,1214.6 1940.0,1214.8 1941.4,1214.9 1942.8,1215.0 1944.2,1215.0 1945.6,1215.0 1947.0,1215.0 1948.4,1215.0 1949.8,1215.0 1951.2,1214.9 1952.7,1214.8 1954.1,1214.6 1955.5,1214.2 1956.9,1213.6 1958.3,1212.9 1959.7,1212.0 1961.1,1211.1 1962.5,1210.6 1963.9,1210.6 1965.3,1211.2 1966.7,1212.1 1968.1,1213.0 1969.5,1213.7 1970.9,1215.1 1972.3,1217.1 1973.8,1219.0 1975.2,1219.1 1976.6,1219.2 1978.0,1219.3 1979.4,1219.4 1980.8,1219.4 1982.2,1219.4 1983.6,1219.5 1985.0,1219.5 1986.4,1219.5 1987.8,1219.5 1989.2,1219.5 1990.6,1219.6 1992.0,1219.6 1993.4,1219.6 1994.9,1219.6 1996.3,1219.6 1997.7,1219.6 1999.1,1219.6 2000.5,1219.6 2001.9,1219.6 2003.3,1219.6 2004.7,1219.6 2006.1,1219.7 2007.5,1219.7 2008.9,1219.7 2010.3,1219.7 2011.7,1219.7 2013.1,1219.7 2014.5,1219.7 2016.0,1219.7 2017.4,1219.7 2018.8,1219.7 2020.2,1219.7 2021.6,1219.7 2023.0,1219.7 2024.4,1219.7 2025.8,1219.7 2027.2,1219.7 2028.6,1219.7 2030.0,1219.7 2031.4,1219.7 2032.8,1219.7 2034.2,1219.7 2035.6,1219.7 2037.1,1219.7 2038.5,1219.7 2039.9,1219.8 2041.3,1219.8 2042.7,1219.8 2044.1,1219.8 2045.5,1219.8 2046.9,1219.8 2048.3,1219.8 2049.7,1219.8 2051.1,1219.8 2052.5,1219.8 2053.9,1219.8 2055.3,1219.8 2056.7,1219.8 2058.2,1219.8 2059.6,1219.8 2061.0,1219.8 2062.4,1219.8 2063.8,1219.8 2065.2,1219.8 2066.6,1219.8 2068.0,1219.8 2069.4,1219.8 2070.8,1219.8 2072.2,1219.8 2073.6,1219.8 2075.0,1219.8 2076.4,1219.8 2077.8,1219.8 2079.3,1219.8 2080.7,1219.8 2082.1,1219.8 2083.5,1219.8 2084.9,1219.8 2086.3,1219.8 2087.7,1219.8 2089.1,1219.8 2090.5,1219.8 2091.9,1219.8 2093.3,1219.8 2094.7,1219.8 2096.1,1219.8 2097.5,1219.8 2098.9,1219.8 2100.4,1219.8 2101.8,1219.8 2103.2,1219.8 2104.6,1219.8 2106.0,1219.8 2107.4,1219.8 2108.8,1219.8 2110.2,1219.8 2111.6,1219.8 2113.0,1219.8 2114.4,1219.8 2115.8,1219.8 2117.2,1219.8 2118.6,1219.9 2120.0,1219.9 2121.5,1219.9 2122.9,1219.9 2124.3,1219.9 2125.7,1219.9 2127.1,1219.9 2128.5,1219.9 2129.9,1219.9 2131.3,1219.9 2132.7,1219.9 2134.1,1219.9 2135.5,1219.9 2136.9,1219.9 2138.3,1219.9 2139.7,1219.9 2141.1,1219.9 2142.6,1219.9 2144.0,1219.9 2145.4,1219.9 2146.8,1219.9 2148.2,1219.9 2149.6,1219.9 2151.0,1219.9 2152.4,1219.9 2153.8,1219.9 2155.2,1219.9 2156.6,1219.9 2158.0,1219.9 2159.4,1219.9 2160.8,1219.9 2162.2,1219.9 2163.7,1219.9 2165.1,1219.9 2166.5,1219.9 2167.9,1219.9 2169.3,1219.9 2170.7,1219.9 2172.1,1219.9 2173.5,1219.9 2174.9,1219.9 2176.3,1219.9 2177.7,1219.9 2179.1,1219.9 2180.5,1219.9 2181.9,1219.9 2183.3,1219.9 2184.8,1219.9 2186.2,1219.9 2187.6,1219.9 2189.0,1219.9 2190.4,1219.9 2191.8,1219.9 2193.2,1219.9 2194.6,1219.9 2196.0,1219.9 2197.4,1219.9 2198.8,1219.9 2200.2,1219.9 2201.6,1219.9 2203.0,1219.9 2204.4,1219.9 2205.9,1219.9 2207.3,1219.9 2208.7,1219.9 2210.1,1219.9 2211.5,1219.9 2212.9,1219.9 2214.3,1219.9 2215.7,1219.9 2217.1,1219.9 2218.5,1219.9 2219.9,1219.9 2221.3,1219.9 2222.7,1219.9 2224.1,1219.9 2225.5,1219.9 2227.0,1219.9 2228.4,1219.9 2229.8,1219.9 2231.2,1219.9 2232.6,1219.9 2234.0,1219.9 2235.4,1219.9 2236.8,1219.9 2238.2,1219.9 2239.6,1219.9 2241.0,1219.9 2242.4,1219.9 2243.8,1219.9 2245.2,1219.9 2246.6,1219.9 2248.1,1219.9 2249.5,1219.9 2250.9,1219.9 2252.3,1219.9 2253.7,1219.9 2255.1,1219.9 2256.5,1219.9 2257.9,1219.9 2259.3,1219.9 2260.7,1219.9 2262.1,1219.9 2263.5,1219.9 2264.9,1219.9 2266.3,1219.9 2267.7,1219.9 2269.2,1219.9 2270.6,1219.9 2272.0,1219.9 2273.4,1219.9 2274.8,1219.9 2276.2,1219.9 2277.6,1219.9 2279.0,1219.9 2280.4,1219.9 2281.8,1219.9 2283.2,1219.9 2284.6,1219.9 2286.0,1219.9 2287.4,1219.9 2288.8,1219.9 2290.3,1219.9 2291.7,1219.9 2293.1,1219.9 2294.5,1219.9 2295.9,1219.9 2297.3,1219.9 2298.7,1219.9 2300.1,1219.9 2301.5,1219.9 2302.9,1219.9 2304.3,1219.9 2305.7,1219.9 2307.1,1219.9 2308.5,1219.9 2309.9,1219.9 2311.4,1219.9 2312.8,1219.9 2314.2,1219.9 2315.6,1219.9 2317.0,1219.9 2318.4,1219.9 2319.8,1219.9 2321.2,1219.9 2322.6,1219.9 2324.0,1219.9 2325.4,1219.9 2326.8,1219.9 2328.2,1219.9 2329.6,1219.9 2331.0,1219.9 2332.5,1219.9 2333.9,1219.9 2335.3,1219.9 2336.7,1219.9 2338.1,1219.9 2339.5,1219.9 2340.9,1219.9 2342.3,1219.9" fill="none" stroke="#008080" stroke-width="7.2" stroke-linejoin="round"/>
<polyline points="233.0,1118.0 234.4,1118.0 235.8,1118.0 237.2,1118.0 238.6,1118.0 240.0,1118.0 241.4,1118.0 242.8,1118.0 244.3,1118.0 245.7,1118.0 247.1,1118.0 248.5,1118.0 249.9,1118.0 251.3,1118.0 252.7,1118.0 254.1,1118.0 255.5,1118.0 256.9,1118.1 258.3,1118.1 259.7,1118.1 261.1,1118.1 262.5,1118.1 263.9,1118.1 265.4,1118.1 266.8,1118.1 268.2,1118.1 269.6,1118.1 271.0,1118.1 272.4,1118.1 273.8,1118.1 275.2,1118.1 276.6,1118.1 278.0,1118.1 279.4,1118.1 280.8,1118.1 282.2,1118.1 283.6,1118.1 285.0,1118.1 286.5,1118.1 287.9,1118.1 289.3,1118.1 290.7,1118.1 292.1,1118.2 293.5,1118.2 294.9,1118.2 296.3,1118.2 297.7,1118.2 299.1,1118.2 300.5,1118.2 301.9,1118.2 303.3,1118.2 304.7,1118.2 306.1,1118.2 307.6,1118.2 309.0,1118.2 310.4,1118.2 311.8,1118.2 313.2,1118.2 314.6,1118.2 316.0,1118.2 317.4,1118.2 318.8,1118.2 320.2,1118.2 321.6,1118.2 323.0,1118.2 324.4,1118.2 325.8,1118.2 327.2,1118.2 328.7,1118.3 330.1,1118.3 331.5,1118.3 332.9,1118.3 334.3,1118.3 335.7,1118.3 337.1,1118.3 338.5,1118.3 339.9,1118.3 341.3,1118.3 342.7,1118.3 344.1,1118.3 345.5,1118.3 346.9,1118.3 348.3,1118.3 349.8,1118.3 351.2,1118.3 352.6,1118.3 354.0,1118.3 355.4,1118.3 356.8,1118.3 358.2,1118.3 359.6,1118.3 361.0,1118.3 362.4,1118.3 363.8,1118.3 365.2,1118.4 366.6,1118.4 368.0,1118.4 369.4,1118.4 370.9,1118.4 372.3,1118.4 373.7,1118.4 375.1,1118.4 376.5,1118.4 377.9,1118.4 379.3,1118.4 380.7,1118.4 382.1,1118.4 383.5,1118.4 384.9,1118.4 386.3,1118.4 387.7,1118.4 389.1,1118.4 390.5,1118.4 392.0,1118.4 393.4,1118.4 394.8,1118.4 396.2,1118.4 397.6,1118.4 399.0,1118.4 400.4,1118.4 401.8,1118.4 403.2,1118.5 404.6,1118.5 406.0,1118.5 407.4,1118.5 408.8,1118.5 410.2,1118.5 411.6,1118.5 413.1,1118.5 414.5,1118.5 415.9,1118.5 417.3,1118.5 418.7,1118.5 420.1,1118.5 421.5,1118.5 422.9,1118.5 424.3,1118.5 425.7,1118.5 427.1,1118.5 428.5,1118.5 429.9,1118.5 431.3,1118.5 432.7,1118.5 434.2,1118.5 435.6,1118.5 437.0,1118.5 438.4,1118.5 439.8,1118.5 441.2,1118.6 442.6,1118.6 444.0,1118.6 445.4,1118.6 446.8,1118.6 448.2,1118.6 449.6,1118.6 451.0,1118.6 452.4,1118.6 453.8,1118.6 455.3,1118.6 456.7,1118.6 458.1,1118.6 459.5,1118.6 460.9,1118.6 462.3,1118.6 463.7,1118.6 465.1,1118.6 466.5,1118.6 467.9,1118.6 469.3,1118.6 470.7,1118.6 472.1,1118.6 473.5,1118.6 474.9,1118.6 476.4,1118.6 477.8,1118.6 479.2,1118.6 480.6,1118.6 482.0,1118.6 483.4,1118.7 484.8,1118.7 486.2,1118.7 487.6,1118.7 489.0,1118.7 490.4,1118.7 491.8,1118.7 493.2,1118.7 494.6,1118.7 496.0,1118.7 497.5,1118.7 498.9,1118.7 500.3,1118.7 501.7,1118.7 503.1,1118.7 504.5,1118.7 505.9,1118.7 507.3,1118.7 508.7,1118.7 510.1,1118.7 511.5,1118.7 512.9,1118.7 514.3,1118.7 515.7,1118.7 517.1,1118.7 518.6,1118.7 520.0,1118.7 521.4,1118.7 522.8,1118.7 524.2,1118.7 525.6,1118.7 527.0,1118.7 528.4,1118.7 529.8,1118.7 531.2,1118.7 532.6,1118.7 534.0,1118.7 535.4,1118.7 536.8,1118.8 538.2,1118.8 539.7,1118.8 541.1,1118.8 542.5,1118.8 543.9,1118.8 545.3,1118.8 546.7,1118.8 548.1,1118.8 549.5,1118.8 550.9,1118.8 552.3,1118.8 553.7,1118.8 555.1,1118.8 556.5,1118.8 557.9,1118.8 559.3,1118.8 560.8,1118.8 562.2,1118.8 563.6,1118.8 565.0,1118.8 566.4,1118.8 567.8,1118.8 569.2,1118.8 570.6,1118.8 572.0,1118.8 573.4,1118.8 574.8,1118.7 576.2,1118.7 577.6,1118.7 579.0,1118.7 580.4,1118.7 581.9,1118.7 583.3,1118.7 584.7,1118.7 586.1,1118.7 587.5,1118.7 588.9,1118.7 590.3,1118.7 591.7,1118.7 593.1,1118.7 594.5,1118.7 595.9,1118.6 597.3,1118.6 598.7,1118.6 600.1,1118.6 601.5,1118.6 603.0,1118.5 604.4,1118.5 605.8,1118.5 607.2,1118.5 608.6,1118.4 610.0,1118.4 611.4,1118.3 612.8,1118.3 614.2,1118.2 615.6,1118.2 615.8,1118.2 616.0,1118.2 616.1,1118.2 616.3,1118.1 616.5,1118.1 616.7,1118.1 616.8,1118.1 617.0,1118.1 617.2,1118.1 617.4,1118.1 617.5,1118.1 617.7,1118.1 617.9,1118.1 618.1,1118.0 618.3,1118.0 618.4,1118.0 618.6,1118.0 618.8,1118.0 619.0,1118.0 619.1,1118.0 619.3,1118.0 619.5,1118.0 619.7,1117.9 619.8,1117.9 620.0,1117.9 620.2,1117.9 620.4,1117.9 620.5,1117.9 620.7,1117.9 620.9,1117.9 621.1,1117.8 621.2,1117.8 621.4,1117.8 621.6,1117.8 621.8,1117.8 621.9,1117.8 622.1,1117.7 622.3,1117.7 622.5,1117.7 622.6,1117.7 622.8,1117.7 623.0,1117.7 623.2,1117.6 623.4,1117.6 623.5,1117.6 623.7,1117.6 623.9,1117.6 624.1,1117.5 624.2,1117.5 624.4,1117.5 624.6,1117.5 624.8,1117.5 624.9,1117.4 625.1,1117.4 625.3,1117.4 625.5,1117.4 625.6,1117.3 625.8,1117.3 626.0,1117.3 626.2,1117.3 626.3,1117.2 626.5,1117.2 626.7,1117.2 626.9,1117.2 627.0,1117.1 627.2,1117.1 627.4,1117.1 627.6,1117.0 627.7,1117.0 627.9,1117.0 628.1,1116.9 628.3,1116.9 628.4,1116.9 628.6,1116.8 628.8,1116.8 629.0,1116.8 629.2,1116.7 629.3,1116.7 629.5,1116.6 629.7,1116.6 629.9,1116.5 630.0,1116.5 630.2,1116.5 630.4,1116.4 630.6,1116.4 630.7,1116.3 630.9,1116.2 631.1,1116.2 631.3,1116.1 631.4,1116.1 631.6,1116.0 631.8,1115.9 632.0,1115.9 632.1,1115.8 632.3,1115.7 632.5,1115.6 632.7,1115.5 632.8,1115.5 633.0,1115.4 633.2,1115.3 633.4,1115.2 633.5,1115.1 633.7,1115.0 633.9,1114.8 634.1,1114.7 634.3,1114.6 634.4,1114.4 634.6,1114.3 634.8,1114.1 635.0,1114.0 635.1,1113.8 635.3,1113.6 635.5,1113.4 635.7,1113.2 635.8,1113.0 636.0,1112.8 636.2,1112.6 636.4,1112.3 636.5,1112.0 636.7,1111.8 636.9,1111.5 637.1,1111.1 637.2,1110.8 637.4,1110.5 637.6,1110.1 637.8,1109.7 637.9,1109.3 638.1,1108.9 638.3,1108.4 638.5,1108.0 638.6,1107.5 638.8,1107.0 639.0,1106.4 639.2,1105.9 639.4,1105.3 639.5,1104.7 639.7,1104.0 639.9,1103.4 640.1,1102.7 640.2,1101.9 640.4,1101.2 640.6,1100.4 640.8,1099.6 640.9,1098.8 641.1,1097.9 641.3,1097.0 641.5,1096.1 641.6,1095.2 641.8,1094.2 642.0,1093.2 642.2,1092.2 642.3,1091.2 642.5,1090.1 642.7,1089.0 642.9,1088.0 643.0,1086.8 643.2,1085.7 643.4,1084.6 643.6,1083.4 643.7,1082.3 643.9,1081.1 644.1,1080.0 644.3,1078.8 644.5,1077.6 644.6,1076.5 644.8,1075.4 645.0,1074.2 645.2,1073.2 645.3,1072.1 645.5,1071.1 645.7,1070.1 645.9,1069.1 646.0,1068.2 646.2,1067.4 646.4,1066.6 646.6,1065.9 646.7,1065.2 646.9,1064.7 647.1,1064.2 647.3,1063.8 647.4,1063.4 647.6,1063.2 647.8,1063.1 648.0,1063.0 648.1,1063.1 648.3,1063.2 648.5,1063.4 648.7,1063.8 648.8,1064.2 649.0,1064.7 649.2,1065.2 649.4,1065.9 649.5,1066.6 649.7,1067.4 649.9,1068.2 650.1,1069.1 650.3,1070.1 650.4,1071.1 650.6,1072.1 650.8,1073.2 651.0,1074.2 651.1,1075.4 651.3,1076.5 651.5,1077.6 651.7,1078.8 651.8,1080.0 652.0,1081.1 652.2,1082.3 652.4,1083.4 652.5,1084.6 652.7,1085.7 652.9,1086.8 653.1,1088.0 653.2,1089.0 653.4,1090.1 653.6,1091.2 653.8,1092.2 653.9,1093.2 654.1,1094.2 654.3,1095.2 654.5,1096.1 654.6,1097.0 654.8,1097.9 655.0,1098.8 655.2,1099.6 655.4,1100.4 655.5,1101.2 655.7,1101.9 655.9,1102.7 656.1,1103.4 656.2,1104.0 656.4,1104.7 656.6,1105.3 656.8,1105.9 656.9,1106.4 657.1,1107.0 657.3,1107.5 657.5,1108.0 657.6,1108.4 657.8,1108.9 658.0,1109.3 658.2,1109.7 658.3,1110.1 658.5,1110.5 658.7,1110.8 658.9,1111.1 659.0,1111.5 659.2,1111.8 659.4,1112.0 659.6,1112.3 659.7,1112.6 659.9,1112.8 660.1,1113.0 660.3,1113.2 660.5,1113.4 660.6,1113.6 660.8,1113.8 661.0,1114.0 661.2,1114.1 661.3,1114.3 661.5,1114.4 661.7,1114.6 661.9,1114.7 662.0,1114.8 662.2,1114.9 662.4,1115.1 662.6,1115.2 662.7,1115.3 662.9,1115.4 663.1,1115.5 663.3,1115.5 663.4,1115.6 663.6,1115.7 663.8,1115.8 664.0,1115.9 664.1,1115.9 664.3,1116.0 664.5,1116.1 664.7,1116.1 664.8,1116.2 665.0,1116.2 665.2,1116.3 665.4,1116.3 665.6,1116.4 665.7,1116.4 665.9,1116.5 666.1,1116.5 666.3,1116.6 666.4,1116.6 666.6,1116.7 666.8,1116.7 667.0,1116.8 667.1,1116.8 667.3,1116.8 667.5,1116.9 667.7,1116.9 667.8,1116.9 668.0,1117.0 668.2,1117.0 668.4,1117.0 668.5,1117.1 668.7,1117.1 668.9,1117.1 669.1,1117.2 669.2,1117.2 669.4,1117.2 669.6,1117.2 669.8,1117.3 669.9,1117.3 670.1,1117.3 670.3,1117.3 670.5,1117.4 670.6,1117.4 670.8,1117.4 671.0,1117.4 671.2,1117.5 671.4,1117.5 671.5,1117.5 671.7,1117.5 671.9,1117.5 672.1,1117.6 672.2,1117.6 672.4,1117.6 672.6,1117.6 672.8,1117.6 672.9,1117.6 673.1,1117.7 673.3,1117.7 673.5,1117.7 673.6,1117.7 673.8,1117.7 674.0,1117.7 674.2,1117.8 674.3,1117.8 674.5,1117.8 674.7,1117.8 674.9,1117.8 675.0,1117.8 675.2,1117.8 675.4,1117.9 675.6,1117.9 675.7,1117.9 675.9,1117.9 676.1,1117.9 676.3,1117.9 676.5,1117.9 676.6,1117.9 676.8,1118.0 677.0,1118.0 677.2,1118.0 677.3,1118.0 677.5,1118.0 677.7,1118.0 677.9,1118.0 678.0,1118.0 678.2,1118.0 678.4,1118.0 678.6,1118.1 678.7,1118.1 678.9,1118.1 679.1,1118.1 679.3,1118.1 679.4,1118.1 679.6,1118.1 679.8,1118.1 680.0,1118.1 680.1,1118.1 680.3,1118.1 680.5,1118.1 680.7,1118.2 680.8,1118.2 681.0,1118.2 681.2,1118.2 681.4,1118.2 681.6,1118.2 681.7,1118.2 683.1,1118.2 684.5,1118.3 685.9,1118.3 687.4,1118.3 688.8,1118.4 690.2,1118.4 691.6,1118.4 693.0,1118.4 694.4,1118.4 695.8,1118.4 697.2,1118.4 698.6,1118.4 700.0,1118.4 701.4,1118.4 702.8,1118.4 704.2,1118.3 705.6,1118.3 707.0,1118.3 707.2,1118.3 707.4,1118.3 707.6,1118.2 707.8,1118.2 707.9,1118.2 708.1,1118.2 708.3,1118.2 708.5,1118.2 708.6,1118.2 708.8,1118.2 709.0,1118.2 709.2,1118.2 709.3,1118.2 709.5,1118.2 709.7,1118.2 709.9,1118.2 710.0,1118.2 710.2,1118.2 710.4,1118.1 710.6,1118.1 710.7,1118.1 710.9,1118.1 711.1,1118.1 711.3,1118.1 711.4,1118.1 711.6,1118.1 711.8,1118.1 712.0,1118.1 712.1,1118.1 712.3,1118.1 712.5,1118.0 712.7,1118.0 712.8,1118.0 713.0,1118.0 713.2,1118.0 713.4,1118.0 713.6,1118.0 713.7,1118.0 713.9,1118.0 714.1,1117.9 714.3,1117.9 714.4,1117.9 714.6,1117.9 714.8,1117.9 715.0,1117.9 715.1,1117.9 715.3,1117.9 715.5,1117.8 715.7,1117.8 715.8,1117.8 716.0,1117.8 716.2,1117.8 716.4,1117.8 716.5,1117.8 716.7,1117.7 716.9,1117.7 717.1,1117.7 717.2,1117.7 717.4,1117.7 717.6,1117.7 717.8,1117.6 717.9,1117.6 718.1,1117.6 718.3,1117.6 718.5,1117.6 718.7,1117.6 718.8,1117.5 719.0,1117.5 719.2,1117.5 719.4,1117.5 719.5,1117.5 719.7,1117.4 719.9,1117.4 720.1,1117.4 720.2,1117.4 720.4,1117.3 720.6,1117.3 720.8,1117.3 720.9,1117.3 721.1,1117.2 721.3,1117.2 721.5,1117.2 721.6,1117.2 721.8,1117.1 722.0,1117.1 722.2,1117.1 722.3,1117.0 722.5,1117.0 722.7,1117.0 722.9,1116.9 723.0,1116.9 723.2,1116.9 723.4,1116.8 723.6,1116.8 723.8,1116.7 723.9,1116.7 724.1,1116.7 724.3,1116.6 724.5,1116.6 724.6,1116.5 724.8,1116.5 725.0,1116.4 725.2,1116.4 725.3,1116.3 725.5,1116.2 725.7,1116.2 725.9,1116.1 726.0,1116.1 726.2,1116.0 726.4,1115.9 726.6,1115.8 726.7,1115.8 726.9,1115.7 727.1,1115.6 727.3,1115.5 727.4,1115.4 727.6,1115.3 727.8,1115.2 728.0,1115.1 728.1,1115.0 728.3,1114.9 728.5,1114.8 728.7,1114.6 728.9,1114.5 729.0,1114.3 729.2,1114.2 729.4,1114.0 729.6,1113.9 729.7,1113.7 729.9,1113.5 730.1,1113.3 730.3,1113.1 730.4,1112.9 730.6,1112.7 730.8,1112.4 731.0,1112.2 731.1,1111.9 731.3,1111.6 731.5,1111.3 731.7,1111.0 731.8,1110.7 732.0,1110.4 732.2,1110.0 732.4,1109.7 732.5,1109.3 732.7,1108.9 732.9,1108.5 733.1,1108.1 733.2,1107.6 733.4,1107.2 733.6,1106.7 733.8,1106.2 733.9,1105.7 734.1,1105.1 734.3,1104.6 734.5,1104.0 734.7,1103.4 734.8,1102.8 735.0,1102.1 735.2,1101.5 735.4,1100.8 735.5,1100.1 735.7,1099.4 735.9,1098.6 736.1,1097.9 736.2,1097.1 736.4,1096.3 736.6,1095.5 736.8,1094.7 736.9,1093.9 737.1,1093.0 737.3,1092.2 737.5,1091.3 737.6,1090.4 737.8,1089.5 738.0,1088.6 738.2,1087.7 738.3,1086.8 738.5,1085.9 738.7,1084.9 738.9,1084.0 739.0,1083.1 739.2,1082.2 739.4,1081.3 739.6,1080.4 739.8,1079.6 739.9,1078.7 740.1,1077.9 740.3,1077.1 740.5,1076.3 740.6,1075.6 740.8,1074.9 741.0,1074.2 741.2,1073.6 741.3,1073.0 741.5,1072.5 741.7,1072.0 741.9,1071.6 742.0,1071.2 742.2,1070.9 742.4,1070.7 742.6,1070.5 742.7,1070.4 742.9,1070.4 743.1,1070.4 743.3,1070.5 743.4,1070.7 743.6,1070.9 743.8,1071.2 744.0,1071.6 744.1,1072.0 744.3,1072.5 744.5,1073.0 744.7,1073.6 744.9,1074.2 745.0,1074.8 745.2,1075.5 745.4,1076.3 745.6,1077.1 745.7,1077.9 745.9,1078.7 746.1,1079.5 746.3,1080.4 746.4,1081.3 746.6,1082.2 746.8,1083.1 747.0,1084.0 747.1,1084.9 747.3,1085.8 747.5,1086.7 747.7,1087.6 747.8,1088.5 748.0,1089.4 748.2,1090.3 748.4,1091.2 748.5,1092.1 748.7,1092.9 748.9,1093.8 749.1,1094.6 749.2,1095.5 749.4,1096.3 749.6,1097.0 749.8,1097.8 750.0,1098.6 750.1,1099.3 750.3,1100.0 750.5,1100.7 750.7,1101.4 750.8,1102.0 751.0,1102.7 751.2,1103.3 751.4,1103.9 751.5,1104.4 751.7,1105.0 751.9,1105.5 752.1,1106.1 752.2,1106.6 752.4,1107.0 752.6,1107.5 752.8,1107.9 752.9,1108.4 753.1,1108.8 753.3,1109.2 753.5,1109.5 753.6,1109.9 753.8,1110.2 754.0,1110.6 754.2,1110.9 754.3,1111.2 754.5,1111.5 754.7,1111.7 754.9,1112.0 755.0,1112.2 755.2,1112.5 755.4,1112.7 755.6,1112.9 755.8,1113.1 755.9,1113.3 756.1,1113.5 756.3,1113.7 756.5,1113.8 756.6,1114.0 756.8,1114.1 757.0,1114.3 757.2,1114.4 757.3,1114.5 757.5,1114.7 757.7,1114.8 757.9,1114.9 758.0,1115.0 758.2,1115.1 758.4,1115.2 758.6,1115.3 758.7,1115.4 758.9,1115.4 759.1,1115.5 759.3,1115.6 759.4,1115.7 759.6,1115.7 759.8,1115.8 760.0,1115.9 760.1,1115.9 760.3,1116.0 760.5,1116.0 760.7,1116.1 760.9,1116.1 761.0,1116.2 761.2,1116.2 761.4,1116.3 761.6,1116.3 761.7,1116.3 761.9,1116.4 762.1,1116.4 762.3,1116.5 762.4,1116.5 762.6,1116.5 762.8,1116.6 763.0,1116.6 763.1,1116.6 763.3,1116.6 763.5,1116.7 763.7,1116.7 763.8,1116.7 764.0,1116.7 764.2,1116.8 764.4,1116.8 764.5,1116.8 764.7,1116.8 764.9,1116.9 765.1,1116.9 765.2,1116.9 765.4,1116.9 765.6,1116.9 765.8,1116.9 766.0,1117.0 766.1,1117.0 766.3,1117.0 766.5,1117.0 766.7,1117.0 766.8,1117.0 767.0,1117.1 767.2,1117.1 767.4,1117.1 767.5,1117.1 767.7,1117.1 767.9,1117.1 768.1,1117.1 768.2,1117.1 768.4,1117.1 768.6,1117.1 768.8,1117.2 768.9,1117.2 769.1,1117.2 769.3,1117.2 769.5,1117.2 769.6,1117.2 769.8,1117.2 770.0,1117.2 770.2,1117.2 770.3,1117.2 770.5,1117.2 770.7,1117.2 770.9,1117.2 771.1,1117.2 771.2,1117.2 771.4,1117.2 771.6,1117.2 771.8,1117.2 771.9,1117.2 772.1,1117.2 772.3,1117.2 772.5,1117.2 772.6,1117.2 772.8,1117.2 773.0,1117.2 773.2,1117.2 773.3,1117.2 773.5,1117.2 773.7,1117.2 773.9,1117.2 774.0,1117.2 774.2,1117.2 774.4,1117.2 774.6,1117.2 774.7,1117.2 774.9,1117.2 775.1,1117.2 775.3,1117.2 775.4,1117.2 775.6,1117.1 775.8,1117.1 776.0,1117.1 776.1,1117.1 776.3,1117.1 776.5,1117.1 776.7,1117.1 776.9,1117.1 777.0,1117.1 777.2,1117.1 777.4,1117.0 777.6,1117.0 777.7,1117.0 777.9,1117.0 778.1,1117.0 778.3,1117.0 778.4,1116.9 778.6,1116.9 778.8,1116.9 779.0,1116.9 779.1,1116.9 779.3,1116.9 779.5,1116.8 779.7,1116.8 779.8,1116.8 780.0,1116.8 780.2,1116.8 780.4,1116.7 780.5,1116.7 780.7,1116.7 780.9,1116.7 781.1,1116.6 781.2,1116.6 781.4,1116.6 781.6,1116.6 781.8,1116.5 782.0,1116.5 782.1,1116.5 782.3,1116.4 782.5,1116.4 782.7,1116.4 782.8,1116.3 783.0,1116.3 783.2,1116.3 783.4,1116.2 783.5,1116.2 783.7,1116.2 783.9,1116.1 784.1,1116.1 784.2,1116.0 784.4,1116.0 784.6,1115.9 784.8,1115.9 784.9,1115.8 785.1,1115.8 785.3,1115.7 785.5,1115.7 785.6,1115.6 785.8,1115.6 786.0,1115.5 786.2,1115.5 786.3,1115.4 786.5,1115.3 786.7,1115.3 786.9,1115.2 787.1,1115.1 787.2,1115.0 787.4,1115.0 787.6,1114.9 787.8,1114.8 787.9,1114.7 788.1,1114.6 788.3,1114.5 788.5,1114.4 788.6,1114.3 788.8,1114.2 789.0,1114.1 789.2,1114.0 789.3,1113.8 789.5,1113.7 789.7,1113.6 789.9,1113.4 790.0,1113.3 790.2,1113.1 790.4,1112.9 790.6,1112.8 790.7,1112.6 790.9,1112.4 791.1,1112.1 791.3,1111.9 791.4,1111.7 791.6,1111.4 791.8,1111.2 792.0,1110.9 792.2,1110.6 792.3,1110.3 792.5,1109.9 792.7,1109.6 792.9,1109.2 793.0,1108.8 793.2,1108.4 793.4,1108.0 793.6,1107.5 793.7,1107.0 793.9,1106.5 794.1,1106.0 794.3,1105.4 794.4,1104.8 794.6,1104.2 794.8,1103.5 795.0,1102.9 795.1,1102.1 795.3,1101.4 795.5,1100.6 795.7,1099.7 795.8,1098.9 796.0,1098.0 796.2,1097.0 796.4,1096.0 796.5,1095.0 796.7,1093.9 796.9,1092.8 797.1,1091.7 797.2,1090.5 797.4,1089.2 797.6,1088.0 797.8,1086.7 798.0,1085.3 798.1,1083.9 798.3,1082.5 798.5,1081.0 798.7,1079.5 798.8,1078.0 799.0,1076.4 799.2,1074.9 799.4,1073.2 799.5,1071.6 799.7,1069.9 799.9,1068.2 800.1,1066.5 800.2,1064.8 800.4,1063.1 800.6,1061.4 800.8,1059.7 800.9,1058.0 801.1,1056.3 801.3,1054.6 801.5,1052.9 801.6,1051.3 801.8,1049.8 802.0,1048.2 802.2,1046.8 802.3,1045.4 802.5,1044.0 802.7,1042.8 802.9,1041.6 803.1,1040.6 803.2,1039.6 803.4,1038.8 803.6,1038.0 803.8,1037.4 803.9,1037.0 804.1,1036.6 804.3,1036.4 804.5,1036.3 804.6,1036.4 804.8,1036.6 805.0,1037.0 805.2,1037.4 805.3,1038.1 805.5,1038.8 805.7,1039.6 805.9,1040.6 806.0,1041.7 806.2,1042.8 806.4,1044.1 806.6,1045.4 806.7,1046.8 806.9,1048.3 807.1,1049.8 807.3,1051.4 807.4,1053.0 807.6,1054.7 807.8,1056.3 808.0,1058.0 808.2,1059.8 808.3,1061.5 808.5,1063.2 808.7,1064.9 808.9,1066.6 809.0,1068.3 809.2,1070.0 809.4,1071.7 809.6,1073.3 809.7,1075.0 809.9,1076.6 810.1,1078.1 810.3,1079.7 810.4,1081.2 810.6,1082.6 810.8,1084.1 811.0,1085.5 811.1,1086.8 811.3,1088.1 811.5,1089.4 811.7,1090.6 811.8,1091.8 812.0,1093.0 812.2,1094.1 812.4,1095.2 812.5,1096.2 812.7,1097.2 812.9,1098.1 813.1,1099.1 813.3,1099.9 813.4,1100.8 813.6,1101.6 813.8,1102.3 814.0,1103.1 814.1,1103.8 814.3,1104.4 814.5,1105.1 814.7,1105.7 814.8,1106.2 815.0,1106.8 815.2,1107.3 815.4,1107.8 815.5,1108.2 815.7,1108.7 815.9,1109.1 816.1,1109.5 816.2,1109.9 816.4,1110.2 816.6,1110.6 816.8,1110.9 816.9,1111.2 817.1,1111.5 817.3,1111.7 817.5,1112.0 817.6,1112.2 817.8,1112.5 818.0,1112.7 818.2,1112.9 818.3,1113.1 818.5,1113.3 818.7,1113.4 818.9,1113.6 819.1,1113.8 819.2,1113.9 819.4,1114.1 819.6,1114.2 819.8,1114.3 819.9,1114.5 820.1,1114.6 820.3,1114.7 820.5,1114.8 820.6,1114.9 820.8,1115.0 821.0,1115.1 821.2,1115.2 821.3,1115.3 821.5,1115.4 821.7,1115.5 821.9,1115.6 822.0,1115.6 822.2,1115.7 822.4,1115.8 822.6,1115.8 822.7,1115.9 822.9,1116.0 823.1,1116.0 823.3,1116.1 823.4,1116.2 823.6,1116.2 823.8,1116.3 824.0,1116.3 824.2,1116.4 824.3,1116.5 824.5,1116.5 824.7,1116.6 824.9,1116.6 825.0,1116.6 825.2,1116.7 825.4,1116.7 825.6,1116.8 825.7,1116.8 825.9,1116.9 826.1,1116.9 826.3,1117.0 826.4,1117.0 826.6,1117.0 826.8,1117.1 827.0,1117.1 827.1,1117.1 827.3,1117.2 827.5,1117.2 827.7,1117.2 827.8,1117.3 828.0,1117.3 828.2,1117.3 828.4,1117.4 828.5,1117.4 828.7,1117.4 828.9,1117.5 829.1,1117.5 829.3,1117.5 829.4,1117.6 829.6,1117.6 829.8,1117.6 830.0,1117.6 830.1,1117.7 830.3,1117.7 830.5,1117.7 830.7,1117.7 830.8,1117.8 831.0,1117.8 831.2,1117.8 831.4,1117.8 831.5,1117.9 831.7,1117.9 831.9,1117.9 832.1,1117.9 832.2,1117.9 832.4,1118.0 832.6,1118.0 832.8,1118.0 832.9,1118.0 833.1,1118.0 833.3,1118.1 833.5,1118.1 833.6,1118.1 833.8,1118.1 834.0,1118.1 834.2,1118.1 834.4,1118.2 834.5,1118.2 834.7,1118.2 834.9,1118.2 835.1,1118.2 835.2,1118.2 835.4,1118.3 835.6,1118.3 835.8,1118.3 835.9,1118.3 836.1,1118.3 836.3,1118.3 836.5,1118.3 836.6,1118.4 836.8,1118.4 837.0,1118.4 837.2,1118.4 837.3,1118.4 837.5,1118.4 837.7,1118.4 837.9,1118.5 838.0,1118.5 838.2,1118.5 839.6,1118.6 841.0,1118.7 842.4,1118.7 843.8,1118.8 845.3,1118.9 846.7,1118.9 848.1,1119.0 849.5,1119.0 850.9,1119.1 852.3,1119.1 853.7,1119.1 855.1,1119.2 856.5,1119.2 857.9,1119.2 859.3,1119.3 860.7,1119.3 862.1,1119.3 863.5,1119.3 864.9,1119.4 866.4,1119.4 867.8,1119.4 869.2,1119.4 870.6,1119.4 872.0,1119.5 873.4,1119.5 874.8,1119.5 876.2,1119.5 877.6,1119.5 879.0,1119.5 880.4,1119.5 881.8,1119.6 883.2,1119.6 884.6,1119.6 886.0,1119.6 887.5,1119.6 888.9,1119.6 890.3,1119.6 891.7,1119.6 893.1,1119.7 894.5,1119.7 895.9,1119.7 897.3,1119.7 898.7,1119.7 900.1,1119.7 901.5,1119.7 902.9,1119.7 904.3,1119.7 905.7,1119.7 907.1,1119.7 908.6,1119.7 910.0,1119.8 911.4,1119.8 912.8,1119.8 914.2,1119.8 915.6,1119.8 917.0,1119.8 918.4,1119.8 919.8,1119.8 921.2,1119.8 922.6,1119.8 924.0,1119.8 925.4,1119.8 926.8,1119.8 928.2,1119.8 929.7,1119.9 931.1,1119.9 932.5,1119.9 933.9,1119.9 935.3,1119.9 936.7,1119.9 938.1,1119.9 939.5,1119.9 940.9,1119.9 942.3,1119.9 943.7,1119.9 945.1,1119.9 946.5,1119.9 947.9,1119.9 949.3,1119.9 950.8,1119.9 952.2,1119.9 953.6,1119.9 955.0,1119.9 956.4,1119.9 957.8,1119.9 959.2,1119.9 960.6,1119.9 962.0,1119.9 963.4,1119.9 964.8,1119.9 966.2,1119.9 967.6,1119.9 969.0,1119.9 970.4,1119.9 971.9,1119.9 973.3,1119.9 974.7,1119.9 976.1,1119.9 977.5,1119.9 978.9,1119.9 980.3,1119.9 981.7,1119.9 983.1,1119.9 984.5,1119.9 985.9,1119.9 987.3,1119.9 988.7,1119.9 990.1,1119.9 991.5,1119.9 993.0,1119.8 994.4,1119.8 995.8,1119.8 997.2,1119.8 998.6,1119.8 1000.0,1119.8 1001.4,1119.8 1002.8,1119.8 1004.2,1119.8 1005.6,1119.8 1007.0,1119.8 1008.4,1119.8 1009.8,1119.8 1011.2,1119.8 1012.6,1119.8 1014.1,1119.8 1015.5,1119.8 1016.9,1119.8 1018.3,1119.8 1019.7,1119.8 1021.1,1119.8 1022.5,1119.8 1023.9,1119.8 1025.3,1119.8 1026.7,1119.8 1028.1,1119.8 1029.5,1119.8 1030.9,1119.8 1032.3,1119.8 1033.7,1119.8 1035.2,1119.8 1036.6,1119.8 1038.0,1119.8 1039.4,1119.8 1040.8,1119.8 1042.2,1119.8 1043.6,1119.8 1045.0,1119.8 1046.4,1119.8 1047.8,1119.8 1049.2,1119.8 1050.6,1119.8 1052.0,1119.8 1053.4,1119.8 1054.8,1119.8 1056.3,1119.8 1057.7,1119.8 1059.1,1119.8 1060.5,1119.8 1061.9,1119.8 1063.3,1119.8 1064.7,1119.8 1066.1,1119.8 1067.5,1119.8 1068.9,1119.8 1070.3,1119.8 1071.7,1119.8 1073.1,1119.8 1074.5,1119.7 1075.9,1119.7 1077.4,1119.7 1078.8,1119.7 1080.2,1119.7 1081.6,1119.7 1083.0,1119.7 1084.4,1119.7 1085.8,1119.7 1087.2,1119.7 1088.6,1119.7 1090.0,1119.7 1091.4,1119.7 1092.8,1119.7 1094.2,1119.7 1095.6,1119.7 1097.0,1119.7 1098.5,1119.7 1099.9,1119.7 1101.3,1119.7 1102.7,1119.7 1104.1,1119.7 1105.5,1119.7 1106.9,1119.7 1108.3,1119.7 1109.7,1119.7 1111.1,1119.7 1112.5,1119.7 1113.9,1119.7 1115.3,1119.7 1116.7,1119.7 1118.1,1119.7 1119.6,1119.7 1121.0,1119.7 1122.4,1119.7 1123.8,1119.7 1125.2,1119.7 1126.6,1119.7 1128.0,1119.6 1129.4,1119.6 1130.8,1119.6 1132.2,1119.6 1133.6,1119.6 1135.0,1119.6 1136.4,1119.6 1137.8,1119.6 1139.2,1119.6 1140.7,1119.6 1142.1,1119.6 1143.5,1119.6 1144.9,1119.6 1146.3,1119.6 1147.7,1119.6 1149.1,1119.6 1150.5,1119.6 1151.9,1119.6 1153.3,1119.6 1154.7,1119.5 1156.1,1119.5 1157.5,1119.5 1158.9,1119.5 1160.3,1119.5 1161.8,1119.5 1163.2,1119.5 1164.6,1119.5 1166.0,1119.5 1167.4,1119.4 1168.8,1119.4 1170.2,1119.4 1171.6,1119.4 1173.0,1119.4 1174.4,1119.3 1175.8,1119.3 1177.2,1119.3 1178.6,1119.2 1180.0,1119.2 1181.4,1119.1 1182.9,1119.0 1184.3,1119.0 1185.7,1118.9 1187.1,1118.7 1188.5,1118.5 1189.9,1118.3 1191.3,1117.9 1192.7,1117.3 1194.1,1116.5 1195.5,1115.3 1196.9,1113.8 1198.3,1111.8 1199.7,1109.6 1201.1,1107.4 1202.5,1105.6 1204.0,1104.6 1205.4,1105.0 1206.8,1106.4 1208.2,1108.5 1209.6,1110.7 1211.0,1112.8 1212.4,1114.6 1213.8,1115.9 1215.2,1116.9 1216.6,1117.6 1218.0,1118.1 1219.4,1118.4 1220.8,1118.6 1222.2,1118.8 1223.6,1118.9 1225.1,1118.9 1226.5,1119.0 1227.9,1119.1 1229.3,1119.1 1230.7,1119.2 1232.1,1119.2 1233.5,1119.2 1234.9,1119.3 1236.3,1119.3 1237.7,1119.3 1239.1,1119.3 1240.5,1119.3 1241.9,1119.3 1243.3,1119.4 1244.7,1119.4 1246.2,1119.4 1247.6,1119.4 1249.0,1119.4 1250.4,1119.4 1251.8,1119.4 1253.2,1119.4 1254.6,1119.4 1256.0,1119.4 1257.4,1119.4 1258.8,1119.4 1260.2,1119.4 1261.6,1119.4 1263.0,1119.4 1264.4,1119.4 1265.8,1119.4 1267.3,1119.4 1268.7,1119.4 1270.1,1119.4 1271.5,1119.4 1272.9,1119.4 1274.3,1119.4 1275.7,1119.4 1277.1,1119.4 1278.5,1119.4 1279.9,1119.4 1281.3,1119.4 1282.7,1119.4 1284.1,1119.4 1285.5,1119.4 1286.9,1119.4 1288.4,1119.4 1289.8,1119.4 1291.2,1119.4 1292.6,1119.4 1294.0,1119.4 1295.4,1119.4 1296.8,1119.4 1298.2,1119.4 1299.6,1119.4 1301.0,1119.4 1302.4,1119.4 1303.8,1119.4 1305.2,1119.4 1306.6,1119.4 1308.0,1119.4 1309.5,1119.4 1310.9,1119.4 1312.3,1119.4 1313.7,1119.4 1315.1,1119.4 1316.5,1119.4 1317.9,1119.4 1319.3,1119.4 1320.7,1119.4 1322.1,1119.4 1323.5,1119.4 1324.9,1119.4 1326.3,1119.4 1327.7,1119.4 1329.1,1119.4 1330.6,1119.4 1332.0,1119.4 1333.4,1119.4 1334.8,1119.4 1336.2,1119.4 1337.6,1119.4 1339.0,1119.4 1340.4,1119.4 1341.8,1119.4 1343.2,1119.4 1344.6,1119.4 1346.0,1119.4 1347.4,1119.4 1348.8,1119.4 1350.2,1119.4 1351.7,1119.4 1353.1,1119.4 1354.5,1119.4 1355.9,1119.3 1357.3,1119.3 1358.7,1119.3 1360.1,1119.3 1361.5,1119.3 1362.9,1119.3 1364.3,1119.3 1365.7,1119.3 1367.1,1119.3 1368.5,1119.3 1369.9,1119.3 1371.3,1119.3 1372.8,1119.3 1374.2,1119.3 1375.6,1119.3 1377.0,1119.3 1378.4,1119.3 1379.8,1119.3 1381.2,1119.3 1382.6,1119.3 1384.0,1119.3 1385.4,1119.3 1386.8,1119.3 1388.2,1119.3 1389.6,1119.3 1391.0,1119.3 1392.4,1119.3 1393.9,1119.3 1395.3,1119.3 1396.7,1119.3 1398.1,1119.3 1399.5,1119.3 1400.9,1119.3 1402.3,1119.3 1403.7,1119.3 1405.1,1119.3 1406.5,1119.3 1407.9,1119.3 1409.3,1119.3 1410.7,1119.3 1412.1,1119.3 1413.5,1119.2 1415.0,1119.2 1416.4,1119.2 1417.8,1119.2 1419.2,1119.2 1420.6,1119.2 1422.0,1119.2 1423.4,1119.2 1424.8,1119.2 1426.2,1119.2 1427.6,1119.2 1429.0,1119.2 1430.4,1119.2 1431.8,1119.2 1433.2,1119.2 1434.6,1119.2 1436.1,1119.2 1437.5,1119.2 1438.9,1119.2 1440.3,1119.2 1441.7,1119.2 1443.1,1119.2 1444.5,1119.2 1445.9,1119.2 1447.3,1119.2 1448.7,1119.2 1450.1,1119.2 1451.5,1119.1 1452.9,1119.1 1454.3,1119.1 1455.7,1119.1 1457.2,1119.1 1458.6,1119.1 1460.0,1119.1 1461.4,1119.1 1462.8,1119.1 1464.2,1119.1 1465.6,1119.1 1467.0,1119.1 1468.4,1119.1 1469.8,1119.1 1471.2,1119.0 1472.6,1119.0 1474.0,1119.0 1475.4,1119.0 1476.8,1119.0 1478.3,1119.0 1479.7,1119.0 1481.1,1119.0 1482.5,1118.9 1483.9,1118.9 1485.3,1118.9 1486.7,1118.9 1486.9,1118.9 1487.0,1118.9 1487.2,1118.9 1487.4,1118.9 1487.6,1118.9 1487.7,1118.9 1487.9,1118.8 1488.1,1118.8 1488.3,1118.8 1488.5,1118.8 1488.6,1118.8 1488.8,1118.8 1489.0,1118.8 1489.2,1118.8 1489.3,1118.8 1489.5,1118.8 1489.7,1118.8 1489.9,1118.8 1490.0,1118.8 1490.2,1118.8 1490.4,1118.8 1490.6,1118.8 1490.7,1118.8 1490.9,1118.8 1491.1,1118.8 1491.3,1118.8 1491.4,1118.8 1491.6,1118.8 1491.8,1118.8 1492.0,1118.8 1492.1,1118.8 1492.3,1118.7 1492.5,1118.7 1492.7,1118.7 1492.8,1118.7 1493.0,1118.7 1493.2,1118.7 1493.4,1118.7 1493.6,1118.7 1493.7,1118.7 1493.9,1118.7 1494.1,1118.7 1494.3,1118.7 1494.4,1118.7 1494.6,1118.7 1494.8,1118.7 1495.0,1118.7 1495.1,1118.7 1495.3,1118.7 1495.5,1118.6 1495.7,1118.6 1495.8,1118.6 1496.0,1118.6 1496.2,1118.6 1496.4,1118.6 1496.5,1118.6 1496.7,1118.6 1496.9,1118.6 1497.1,1118.6 1497.2,1118.6 1497.4,1118.6 1497.6,1118.6 1497.8,1118.6 1497.9,1118.5 1498.1,1118.5 1498.3,1118.5 1498.5,1118.5 1498.6,1118.5 1498.8,1118.5 1499.0,1118.5 1499.2,1118.5 1499.4,1118.5 1499.5,1118.5 1499.7,1118.4 1499.9,1118.4 1500.1,1118.4 1500.2,1118.4 1500.4,1118.4 1500.6,1118.4 1500.8,1118.4 1500.9,1118.4 1501.1,1118.4 1501.3,1118.3 1501.5,1118.3 1501.6,1118.3 1501.8,1118.3 1502.0,1118.3 1502.2,1118.3 1502.3,1118.3 1502.5,1118.2 1502.7,1118.2 1502.9,1118.2 1503.0,1118.2 1503.2,1118.2 1503.4,1118.2 1503.6,1118.1 1503.7,1118.1 1503.9,1118.1 1504.1,1118.1 1504.3,1118.1 1504.5,1118.0 1504.6,1118.0 1504.8,1118.0 1505.0,1118.0 1505.2,1118.0 1505.3,1117.9 1505.5,1117.9 1505.7,1117.9 1505.9,1117.8 1506.0,1117.8 1506.2,1117.8 1506.4,1117.8 1506.6,1117.7 1506.7,1117.7 1506.9,1117.6 1507.1,1117.6 1507.3,1117.6 1507.4,1117.5 1507.6,1117.5 1507.8,1117.4 1508.0,1117.4 1508.1,1117.3 1508.3,1117.3 1508.5,1117.2 1508.7,1117.1 1508.8,1117.1 1509.0,1117.0 1509.2,1116.9 1509.4,1116.9 1509.6,1116.8 1509.7,1116.7 1509.9,1116.6 1510.1,1116.5 1510.3,1116.4 1510.4,1116.3 1510.6,1116.2 1510.8,1116.1 1511.0,1116.0 1511.1,1115.9 1511.3,1115.8 1511.5,1115.6 1511.7,1115.5 1511.8,1115.3 1512.0,1115.2 1512.2,1115.0 1512.4,1114.9 1512.5,1114.7 1512.7,1114.5 1512.9,1114.3 1513.1,1114.1 1513.2,1113.9 1513.4,1113.7 1513.6,1113.5 1513.8,1113.3 1513.9,1113.0 1514.1,1112.8 1514.3,1112.5 1514.5,1112.3 1514.7,1112.0 1514.8,1111.7 1515.0,1111.5 1515.2,1111.2 1515.4,1110.9 1515.5,1110.6 1515.7,1110.2 1515.9,1109.9 1516.1,1109.6 1516.2,1109.2 1516.4,1108.9 1516.6,1108.5 1516.8,1108.2 1516.9,1107.8 1517.1,1107.5 1517.3,1107.1 1517.5,1106.7 1517.6,1106.3 1517.8,1105.9 1518.0,1105.6 1518.2,1105.2 1518.3,1104.8 1518.5,1104.4 1518.7,1104.0 1518.9,1103.6 1519.0,1103.3 1519.2,1102.9 1519.4,1102.5 1519.6,1102.2 1519.7,1101.8 1519.9,1101.5 1520.1,1101.2 1520.3,1100.9 1520.5,1100.6 1520.6,1100.3 1520.8,1100.0 1521.0,1099.8 1521.2,1099.6 1521.3,1099.4 1521.5,1099.2 1521.7,1099.0 1521.9,1098.9 1522.0,1098.8 1522.2,1098.8 1522.4,1098.7 1522.6,1098.7 1522.7,1098.7 1522.9,1098.8 1523.1,1098.8 1523.3,1098.9 1523.4,1099.0 1523.6,1099.2 1523.8,1099.4 1524.0,1099.6 1524.1,1099.8 1524.3,1100.0 1524.5,1100.3 1524.7,1100.6 1524.8,1100.9 1525.0,1101.2 1525.2,1101.5 1525.4,1101.8 1525.6,1102.2 1525.7,1102.5 1525.9,1102.9 1526.1,1103.3 1526.3,1103.6 1526.4,1104.0 1526.6,1104.4 1526.8,1104.8 1527.0,1105.2 1527.1,1105.5 1527.3,1105.9 1527.5,1106.3 1527.7,1106.7 1527.8,1107.1 1528.0,1107.4 1528.2,1107.8 1528.4,1108.2 1528.5,1108.5 1528.7,1108.9 1528.9,1109.2 1529.1,1109.6 1529.2,1109.9 1529.4,1110.2 1529.6,1110.5 1529.8,1110.8 1529.9,1111.1 1530.1,1111.4 1530.3,1111.7 1530.5,1112.0 1530.7,1112.2 1530.8,1112.5 1531.0,1112.8 1531.2,1113.0 1531.4,1113.2 1531.5,1113.5 1531.7,1113.7 1531.9,1113.9 1532.1,1114.1 1532.2,1114.3 1532.4,1114.5 1532.6,1114.7 1532.8,1114.8 1532.9,1115.0 1533.1,1115.1 1533.3,1115.3 1533.5,1115.4 1533.6,1115.6 1533.8,1115.7 1534.0,1115.8 1534.2,1116.0 1534.3,1116.1 1534.5,1116.2 1534.7,1116.3 1534.9,1116.4 1535.0,1116.5 1535.2,1116.6 1535.4,1116.7 1535.6,1116.7 1535.8,1116.8 1535.9,1116.9 1536.1,1117.0 1536.3,1117.0 1536.5,1117.1 1536.6,1117.2 1536.8,1117.2 1537.0,1117.3 1537.2,1117.3 1537.3,1117.4 1537.5,1117.4 1537.7,1117.5 1537.9,1117.5 1538.0,1117.5 1538.2,1117.6 1538.4,1117.6 1538.6,1117.7 1538.7,1117.7 1538.9,1117.7 1539.1,1117.7 1539.3,1117.8 1539.4,1117.8 1539.6,1117.8 1539.8,1117.9 1540.0,1117.9 1540.1,1117.9 1540.3,1117.9 1540.5,1118.0 1540.7,1118.0 1540.8,1118.0 1541.0,1118.0 1541.2,1118.0 1541.4,1118.1 1541.6,1118.1 1541.7,1118.1 1541.9,1118.1 1542.1,1118.1 1542.3,1118.1 1542.4,1118.2 1542.6,1118.2 1542.8,1118.2 1543.0,1118.2 1543.1,1118.2 1543.3,1118.2 1543.5,1118.2 1543.7,1118.2 1543.8,1118.3 1544.0,1118.3 1544.2,1118.3 1544.4,1118.3 1544.5,1118.3 1544.7,1118.3 1544.9,1118.3 1545.1,1118.3 1545.2,1118.3 1545.4,1118.4 1545.6,1118.4 1545.8,1118.4 1545.9,1118.4 1546.1,1118.4 1546.3,1118.4 1546.5,1118.4 1546.7,1118.4 1546.8,1118.4 1547.0,1118.4 1547.2,1118.4 1547.4,1118.4 1547.5,1118.5 1547.7,1118.5 1547.9,1118.5 1548.1,1118.5 1548.2,1118.5 1548.4,1118.5 1548.6,1118.5 1548.8,1118.5 1548.9,1118.5 1549.1,1118.5 1549.3,1118.5 1549.5,1118.5 1549.6,1118.5 1549.8,1118.5 1550.0,1118.5 1550.2,1118.6 1550.3,1118.6 1550.5,1118.6 1550.7,1118.6 1550.9,1118.6 1551.0,1118.6 1551.2,1118.6 1551.4,1118.6 1551.6,1118.6 1551.8,1118.6 1551.9,1118.6 1552.1,1118.6 1552.3,1118.6 1552.5,1118.6 1552.6,1118.6 1552.8,1118.6 1553.0,1118.6 1553.2,1118.6 1553.3,1118.6 1553.5,1118.6 1553.7,1118.6 1553.9,1118.6 1554.0,1118.6 1554.2,1118.7 1554.4,1118.7 1554.6,1118.7 1554.7,1118.7 1554.9,1118.7 1555.1,1118.7 1555.3,1118.7 1555.4,1118.7 1555.6,1118.7 1555.8,1118.7 1556.0,1118.7 1556.1,1118.7 1556.3,1118.7 1556.5,1118.7 1556.7,1118.7 1556.9,1118.7 1557.0,1118.7 1557.2,1118.7 1557.4,1118.7 1557.6,1118.7 1557.7,1118.7 1557.9,1118.7 1558.1,1118.7 1558.3,1118.7 1558.4,1118.7 1558.6,1118.7 1558.8,1118.7 1559.0,1118.7 1559.1,1118.7 1559.3,1118.7 1559.5,1118.7 1559.7,1118.7 1561.1,1118.8 1562.5,1118.8 1563.9,1118.8 1565.3,1118.8 1566.7,1118.8 1568.1,1118.8 1569.5,1118.8 1570.9,1118.8 1572.3,1118.8 1573.7,1118.8 1575.1,1118.8 1576.5,1118.8 1578.0,1118.8 1579.4,1118.8 1580.8,1118.8 1582.2,1118.8 1583.6,1118.8 1585.0,1118.8 1586.4,1118.8 1587.8,1118.8 1589.2,1118.8 1590.6,1118.8 1592.0,1118.8 1593.4,1118.8 1594.8,1118.8 1596.2,1118.8 1597.6,1118.8 1599.1,1118.8 1600.5,1118.8 1601.9,1118.8 1603.3,1118.8 1604.7,1118.8 1606.1,1118.8 1607.5,1118.8 1608.9,1118.8 1610.3,1118.8 1611.7,1118.7 1613.1,1118.7 1614.5,1118.7 1615.9,1118.7 1617.3,1118.7 1618.7,1118.7 1620.2,1118.7 1621.6,1118.7 1623.0,1118.7 1624.4,1118.6 1625.8,1118.6 1627.2,1118.6 1628.6,1118.6 1630.0,1117.5 1631.4,1115.9 1632.8,1114.4 1634.2,1114.3 1635.6,1114.2 1637.0,1114.0 1638.4,1113.8 1639.8,1113.5 1641.3,1113.1 1642.7,1112.7 1644.1,1112.3 1645.5,1112.0 1646.9,1111.9 1648.3,1112.0 1649.7,1112.3 1651.1,1112.6 1652.5,1112.9 1653.9,1113.2 1655.3,1113.5 1656.7,1113.6 1658.1,1113.7 1659.5,1113.8 1660.9,1113.8 1662.4,1113.8 1663.8,1113.8 1665.2,1113.8 1666.6,1113.7 1668.0,1113.7 1669.4,1113.7 1670.8,1113.6 1672.2,1113.6 1673.6,1113.5 1675.0,1113.4 1676.4,1113.4 1677.8,1113.3 1679.2,1113.2 1680.6,1113.2 1682.0,1113.1 1683.5,1113.0 1684.9,1112.9 1686.3,1112.8 1687.7,1112.6 1689.1,1112.5 1690.5,1112.4 1691.9,1112.2 1693.3,1112.1 1694.7,1111.9 1696.1,1111.7 1697.5,1111.5 1698.9,1111.3 1700.3,1111.0 1700.5,1111.0 1700.7,1111.0 1700.9,1110.9 1701.0,1110.9 1701.2,1110.8 1701.4,1110.8 1701.6,1110.8 1701.7,1110.7 1701.9,1110.7 1702.1,1110.7 1702.3,1110.6 1702.4,1110.6 1702.6,1110.6 1702.8,1110.5 1703.0,1110.5 1703.1,1110.4 1703.3,1110.4 1703.5,1110.3 1703.7,1110.3 1703.8,1110.3 1704.0,1110.2 1704.2,1110.2 1704.4,1110.1 1704.6,1110.1 1704.7,1110.0 1704.9,1110.0 1705.1,1109.9 1705.3,1109.9 1705.4,1109.9 1705.6,1109.8 1705.8,1109.8 1706.0,1109.7 1706.1,1109.7 1706.3,1109.6 1706.5,1109.5 1706.7,1109.5 1706.8,1109.4 1707.0,1109.4 1707.2,1109.3 1707.4,1109.3 1707.5,1109.2 1707.7,1109.2 1707.9,1109.1 1708.1,1109.0 1708.2,1109.0 1708.4,1108.9 1708.6,1108.9 1708.8,1108.8 1708.9,1108.7 1709.1,1108.7 1709.3,1108.6 1709.5,1108.5 1709.6,1108.5 1709.8,1108.4 1710.0,1108.3 1710.2,1108.2 1710.4,1108.2 1710.5,1108.1 1710.7,1108.0 1710.9,1107.9 1711.1,1107.9 1711.2,1107.8 1711.4,1107.7 1711.6,1107.6 1711.8,1107.5 1711.9,1107.5 1712.1,1107.4 1712.3,1107.3 1712.5,1107.2 1712.6,1107.1 1712.8,1107.0 1713.0,1106.9 1713.2,1106.8 1713.3,1106.7 1713.5,1106.6 1713.7,1106.5 1713.9,1106.4 1714.0,1106.3 1714.2,1106.2 1714.4,1106.1 1714.6,1106.0 1714.7,1105.9 1714.9,1105.8 1715.1,1105.7 1715.3,1105.6 1715.5,1105.4 1715.6,1105.3 1715.8,1105.2 1716.0,1105.1 1716.2,1104.9 1716.3,1104.8 1716.5,1104.7 1716.7,1104.5 1716.9,1104.4 1717.0,1104.3 1717.2,1104.1 1717.4,1104.0 1717.6,1103.8 1717.7,1103.7 1717.9,1103.5 1718.1,1103.4 1718.3,1103.2 1718.4,1103.0 1718.6,1102.9 1718.8,1102.7 1719.0,1102.5 1719.1,1102.4 1719.3,1102.2 1719.5,1102.0 1719.7,1101.8 1719.8,1101.6 1720.0,1101.4 1720.2,1101.2 1720.4,1101.0 1720.6,1100.8 1720.7,1100.6 1720.9,1100.4 1721.1,1100.2 1721.3,1100.0 1721.4,1099.7 1721.6,1099.5 1721.8,1099.3 1722.0,1099.0 1722.1,1098.8 1722.3,1098.5 1722.5,1098.2 1722.7,1098.0 1722.8,1097.7 1723.0,1097.4 1723.2,1097.1 1723.4,1096.9 1723.5,1096.6 1723.7,1096.3 1723.9,1095.9 1724.1,1095.6 1724.2,1095.3 1724.4,1095.0 1724.6,1094.6 1724.8,1094.3 1724.9,1093.9 1725.1,1093.6 1725.3,1093.2 1725.5,1092.8 1725.7,1092.4 1725.8,1092.0 1726.0,1091.6 1726.2,1091.2 1726.4,1090.8 1726.5,1090.3 1726.7,1089.9 1726.9,1089.4 1727.1,1088.9 1727.2,1088.4 1727.4,1087.9 1727.6,1087.4 1727.8,1086.9 1727.9,1086.4 1728.1,1085.8 1728.3,1085.3 1728.5,1084.7 1728.6,1084.1 1728.8,1083.5 1729.0,1082.9 1729.2,1082.3 1729.3,1081.6 1729.5,1080.9 1729.7,1080.2 1729.9,1079.5 1730.0,1078.8 1730.2,1078.1 1730.4,1077.3 1730.6,1076.5 1730.7,1075.7 1730.9,1074.8 1731.1,1074.0 1731.3,1073.1 1731.5,1072.2 1731.6,1071.2 1731.8,1070.3 1732.0,1069.3 1732.2,1068.2 1732.3,1067.2 1732.5,1066.1 1732.7,1065.0 1732.9,1063.8 1733.0,1062.6 1733.2,1061.4 1733.4,1060.2 1733.6,1058.9 1733.7,1057.5 1733.9,1056.1 1734.1,1054.7 1734.3,1053.3 1734.4,1051.7 1734.6,1050.2 1734.8,1048.6 1735.0,1046.9 1735.1,1045.2 1735.3,1043.4 1735.5,1041.6 1735.7,1039.7 1735.8,1037.8 1736.0,1035.7 1736.2,1033.7 1736.4,1031.5 1736.6,1029.3 1736.7,1027.0 1736.9,1024.7 1737.1,1022.2 1737.3,1019.7 1737.4,1017.1 1737.6,1014.4 1737.8,1011.6 1738.0,1008.7 1738.1,1005.8 1738.3,1002.7 1738.5,999.5 1738.7,996.3 1738.8,992.9 1739.0,989.4 1739.2,985.8 1739.4,982.0 1739.5,978.2 1739.7,974.2 1739.9,970.0 1740.1,965.8 1740.2,961.4 1740.4,956.8 1740.6,952.2 1740.8,947.3 1740.9,942.3 1741.1,937.2 1741.3,931.9 1741.5,926.4 1741.7,920.8 1741.8,915.0 1742.0,909.0 1742.2,902.8 1742.4,896.5 1742.5,890.0 1742.7,883.3 1742.9,876.4 1743.1,869.4 1743.2,862.2 1743.4,854.8 1743.6,847.2 1743.8,839.5 1743.9,831.6 1744.1,823.6 1744.3,815.4 1744.5,807.1 1744.6,798.6 1744.8,790.0 1745.0,781.3 1745.2,772.6 1745.3,763.7 1745.5,754.8 1745.7,745.9 1745.9,737.0 1746.0,728.0 1746.2,719.1 1746.4,710.3 1746.6,701.6 1746.8,692.9 1746.9,684.5 1747.1,676.2 1747.3,668.1 1747.5,660.3 1747.6,652.8 1747.8,645.6 1748.0,638.8 1748.2,632.4 1748.3,626.3 1748.5,620.8 1748.7,615.7 1748.9,611.2 1749.0,607.2 1749.2,603.7 1749.4,600.9 1749.6,598.7 1749.7,597.1 1749.9,596.1 1750.1,595.7 1750.3,596.0 1750.4,597.0 1750.6,598.5 1750.8,600.7 1751.0,603.5 1751.1,606.9 1751.3,610.8 1751.5,615.3 1751.7,620.4 1751.8,625.9 1752.0,631.9 1752.2,638.3 1752.4,645.1 1752.6,652.3 1752.7,659.8 1752.9,667.6 1753.1,675.6 1753.3,683.9 1753.4,692.3 1753.6,701.0 1753.8,709.7 1754.0,718.5 1754.1,727.4 1754.3,736.4 1754.5,745.3 1754.7,754.3 1754.8,763.2 1755.0,772.1 1755.2,780.8 1755.4,789.5 1755.5,798.1 1755.7,806.6 1755.9,815.0 1756.1,823.2 1756.2,831.3 1756.4,839.2 1756.6,846.9 1756.8,854.5 1756.9,861.9 1757.1,869.2 1757.3,876.2 1757.5,883.1 1757.7,889.8 1757.8,896.4 1758.0,902.7 1758.2,908.9 1758.4,914.9 1758.5,920.8 1758.7,926.4 1758.9,931.9 1759.1,937.3 1759.2,942.5 1759.4,947.5 1759.6,952.3 1759.8,957.0 1759.9,961.6 1760.1,966.0 1760.3,970.3 1760.5,974.5 1760.6,978.5 1760.8,982.4 1761.0,986.1 1761.2,989.8 1761.3,993.3 1761.5,996.7 1761.7,1000.0 1761.9,1003.2 1762.0,1006.3 1762.2,1009.3 1762.4,1012.2 1762.6,1015.0 1762.8,1017.7 1762.9,1020.3 1763.1,1022.9 1763.3,1025.3 1763.5,1027.7 1763.6,1030.0 1763.8,1032.2 1764.0,1034.4 1764.2,1036.5 1764.3,1038.5 1764.5,1040.5 1764.7,1042.4 1764.9,1044.2 1765.0,1046.0 1765.2,1047.8 1765.4,1049.4 1765.6,1051.1 1765.7,1052.6 1765.9,1054.2 1766.1,1055.7 1766.3,1057.1 1766.4,1058.5 1766.6,1059.8 1766.8,1061.2 1767.0,1062.4 1767.1,1063.7 1767.3,1064.9 1767.5,1066.0 1767.7,1067.2 1767.9,1068.3 1768.0,1069.3 1768.2,1070.4 1768.4,1071.4 1768.6,1072.4 1768.7,1073.3 1768.9,1074.3 1769.1,1075.2 1769.3,1076.0 1769.4,1076.9 1769.6,1077.7 1769.8,1078.5 1770.0,1079.3 1770.1,1080.1 1770.3,1080.8 1770.5,1081.5 1770.7,1082.2 1770.8,1082.9 1771.0,1083.6 1771.2,1084.3 1771.4,1084.9 1771.5,1085.5 1771.7,1086.1 1771.9,1086.7 1772.1,1087.3 1772.2,1087.8 1772.4,1088.4 1772.6,1088.9 1772.8,1089.4 1772.9,1089.9 1773.1,1090.4 1773.3,1090.9 1773.5,1091.4 1773.7,1091.8 1773.8,1092.3 1774.0,1092.7 1774.2,1093.1 1774.4,1093.5 1774.5,1093.9 1774.7,1094.3 1774.9,1094.7 1775.1,1095.1 1775.2,1095.5 1775.4,1095.8 1775.6,1096.2 1775.8,1096.5 1775.9,1096.9 1776.1,1097.2 1776.3,1097.5 1776.5,1097.8 1776.6,1098.1 1776.8,1098.4 1777.0,1098.7 1777.2,1099.0 1777.3,1099.3 1777.5,1099.6 1777.7,1099.8 1777.9,1100.1 1778.0,1100.4 1778.2,1100.6 1778.4,1100.9 1778.6,1101.1 1778.8,1101.4 1778.9,1101.6 1779.1,1101.8 1779.3,1102.0 1779.5,1102.3 1779.6,1102.5 1779.8,1102.7 1780.0,1102.9 1780.2,1103.1 1780.3,1103.3 1780.5,1103.5 1780.7,1103.7 1780.9,1103.9 1781.0,1104.1 1781.2,1104.2 1781.4,1104.4 1781.6,1104.6 1781.7,1104.8 1781.9,1104.9 1782.1,1105.1 1782.3,1105.2 1782.4,1105.4 1782.6,1105.6 1782.8,1105.7 1783.0,1105.9 1783.1,1106.0 1783.3,1106.1 1783.5,1106.3 1783.7,1106.4 1783.9,1106.6 1784.0,1106.7 1784.2,1106.8 1784.4,1107.0 1784.6,1107.1 1784.7,1107.2 1784.9,1107.3 1785.1,1107.5 1785.3,1107.6 1785.4,1107.7 1785.6,1107.8 1785.8,1107.9 1786.0,1108.0 1786.1,1108.1 1786.3,1108.2 1786.5,1108.4 1786.7,1108.5 1786.8,1108.6 1787.0,1108.7 1787.2,1108.8 1787.4,1108.9 1787.5,1108.9 1787.7,1109.0 1787.9,1109.1 1788.1,1109.2 1788.2,1109.3 1788.4,1109.4 1788.6,1109.5 1788.8,1109.5 1789.0,1109.6 1789.1,1109.7 1789.3,1109.8 1789.5,1109.8 1789.7,1109.9 1789.8,1110.0 1790.0,1110.1 1790.2,1110.1 1790.4,1110.2 1790.5,1110.3 1790.7,1110.3 1790.9,1110.4 1791.1,1110.5 1791.2,1110.5 1791.4,1110.6 1791.6,1110.7 1791.8,1110.7 1791.9,1110.8 1792.1,1110.8 1792.3,1110.9 1792.5,1111.0 1792.6,1111.0 1792.8,1111.1 1793.0,1111.1 1793.2,1111.2 1793.3,1111.2 1793.5,1111.3 1793.7,1111.3 1793.9,1111.4 1794.0,1111.4 1794.2,1111.5 1794.4,1111.5 1794.6,1111.6 1794.8,1111.6 1794.9,1111.7 1795.1,1111.7 1795.3,1111.8 1795.5,1111.8 1795.6,1111.9 1795.8,1111.9 1796.0,1111.9 1796.2,1112.0 1796.3,1112.0 1796.5,1112.1 1796.7,1112.1 1796.9,1112.1 1797.0,1112.2 1797.2,1112.2 1797.4,1112.3 1797.6,1112.3 1797.7,1112.3 1797.9,1112.4 1798.1,1112.4 1798.3,1112.4 1798.4,1112.5 1798.6,1112.5 1798.8,1112.5 1799.0,1112.6 1799.1,1112.6 1799.3,1112.6 1799.5,1112.7 1799.7,1112.7 1799.9,1112.7 1800.0,1112.8 1800.2,1112.8 1800.4,1112.8 1800.6,1112.9 1800.7,1112.9 1800.9,1112.9 1802.3,1113.1 1803.7,1113.3 1805.1,1113.5 1806.5,1113.7 1807.9,1113.8 1809.3,1114.0 1810.8,1114.1 1812.2,1114.2 1813.6,1114.3 1815.0,1114.4 1816.4,1114.5 1817.8,1114.6 1819.2,1114.7 1820.6,1114.7 1822.0,1114.8 1823.4,1114.9 1824.8,1114.9 1826.2,1115.0 1827.6,1115.0 1829.0,1115.1 1830.4,1115.1 1831.9,1115.2 1833.3,1115.2 1834.7,1115.2 1836.1,1115.3 1837.5,1115.3 1838.9,1115.3 1840.3,1115.3 1841.7,1115.4 1843.1,1115.4 1844.5,1115.4 1845.9,1115.4 1847.3,1115.5 1848.7,1115.5 1850.1,1115.5 1851.5,1115.5 1853.0,1115.5 1854.4,1115.5 1855.8,1115.6 1857.2,1115.6 1858.6,1115.6 1860.0,1115.6 1861.4,1115.6 1862.8,1115.6 1864.2,1115.6 1865.6,1115.6 1867.0,1115.6 1868.4,1115.6 1869.8,1115.7 1871.2,1115.7 1872.6,1115.7 1874.1,1115.7 1875.5,1115.7 1876.9,1115.7 1878.3,1115.7 1879.7,1115.7 1881.1,1115.7 1882.5,1115.7 1883.9,1115.7 1885.3,1115.7 1886.7,1115.7 1888.1,1115.7 1889.5,1115.7 1890.9,1115.7 1892.3,1115.6 1893.7,1115.6 1895.2,1115.6 1896.6,1115.6 1898.0,1115.6 1899.4,1115.6 1900.8,1115.5 1902.2,1115.5 1903.6,1115.5 1905.0,1115.4 1906.4,1115.4 1907.8,1115.3 1909.2,1115.2 1910.6,1115.0 1912.0,1114.7 1913.4,1114.3 1914.8,1113.7 1916.3,1113.0 1917.7,1111.9 1919.1,1110.7 1920.5,1109.4 1921.9,1108.1 1923.3,1107.1 1924.7,1106.9 1926.1,1107.3 1927.5,1108.4 1928.9,1109.7 1930.3,1111.0 1931.7,1112.2 1933.1,1113.1 1934.5,1113.9 1935.9,1114.4 1937.4,1114.7 1938.8,1115.0 1940.2,1115.1 1941.6,1115.2 1943.0,1115.3 1944.4,1115.3 1945.8,1115.3 1947.2,1115.3 1948.6,1115.3 1950.0,1115.2 1951.4,1115.1 1952.8,1114.9 1954.2,1114.6 1955.6,1114.3 1957.0,1113.8 1958.5,1113.2 1959.9,1112.6 1961.3,1112.1 1962.7,1111.9 1964.1,1111.9 1965.5,1112.3 1966.9,1112.8 1968.3,1113.4 1969.7,1114.0 1971.1,1115.5 1972.5,1117.6 1973.9,1119.3 1975.3,1119.5 1976.7,1119.7 1978.1,1119.8 1979.6,1119.8 1981.0,1119.9 1982.4,1119.9 1983.8,1119.9 1985.2,1120.0 1986.6,1120.0 1988.0,1120.0 1989.4,1120.0 1990.8,1120.0 1992.2,1120.0 1993.6,1120.0 1995.0,1120.1 1996.4,1120.1 1997.8,1120.1 1999.2,1120.1 2000.7,1120.1 2002.1,1120.1 2003.5,1120.1 2004.9,1120.1 2006.3,1120.1 2007.7,1120.1 2009.1,1120.1 2010.5,1120.1 2011.9,1120.1 2013.3,1120.1 2014.7,1120.1 2016.1,1120.1 2017.5,1120.1 2018.9,1120.1 2020.3,1120.1 2021.8,1120.1 2023.2,1120.1 2024.6,1120.1 2026.0,1120.1 2027.4,1120.1 2028.8,1120.1 2030.2,1120.1 2031.6,1120.1 2033.0,1120.1 2034.4,1120.1 2035.8,1120.1 2037.2,1120.1 2038.6,1120.1 2040.0,1120.1 2041.4,1120.1 2042.9,1120.2 2044.3,1120.2 2045.7,1120.2 2047.1,1120.2 2048.5,1120.2 2049.9,1120.2 2051.3,1120.2 2052.7,1120.2 2054.1,1120.2 2055.5,1120.2 2056.9,1120.2 2058.3,1120.2 2059.7,1120.2 2061.1,1120.2 2062.5,1120.2 2064.0,1120.2 2065.4,1120.2 2066.8,1120.2 2068.2,1120.2 2069.6,1120.2 2071.0,1120.2 2072.4,1120.2 2073.8,1120.2 2075.2,1120.2 2076.6,1120.2 2078.0,1120.2 2079.4,1120.2 2080.8,1120.2 2082.2,1120.2 2083.6,1120.2 2085.1,1120.2 2086.5,1120.2 2087.9,1120.2 2089.3,1120.2 2090.7,1120.2 2092.1,1120.2 2093.5,1120.2 2094.9,1120.2 2096.3,1120.2 2097.7,1120.2 2099.1,1120.2 2100.5,1120.2 2101.9,1120.2 2103.3,1120.2 2104.7,1120.2 2106.2,1120.2 2107.6,1120.2 2109.0,1120.2 2110.4,1120.2 2111.8,1120.2 2113.2,1120.2 2114.6,1120.2 2116.0,1120.2 2117.4,1120.2 2118.8,1120.2 2120.2,1120.2 2121.6,1120.2 2123.0,1120.2 2124.4,1120.2 2125.8,1120.2 2127.3,1120.2 2128.7,1120.2 2130.1,1120.2 2131.5,1120.2 2132.9,1120.2 2134.3,1120.2 2135.7,1120.2 2137.1,1120.2 2138.5,1120.2 2139.9,1120.2 2141.3,1120.2 2142.7,1120.2 2144.1,1120.2 2145.5,1120.2 2146.9,1120.2 2148.4,1120.2 2149.8,1120.2 2151.2,1120.2 2152.6,1120.2 2154.0,1120.2 2155.4,1120.2 2156.8,1120.2 2158.2,1120.2 2159.6,1120.2 2161.0,1120.2 2162.4,1120.2 2163.8,1120.2 2165.2,1120.2 2166.6,1120.2 2168.0,1120.2 2169.5,1120.2 2170.9,1120.2 2172.3,1120.2 2173.7,1120.2 2175.1,1120.2 2176.5,1120.2 2177.9,1120.2 2179.3,1120.2 2180.7,1120.2 2182.1,1120.2 2183.5,1120.2 2184.9,1120.2 2186.3,1120.2 2187.7,1120.2 2189.1,1120.2 2190.6,1120.2 2192.0,1120.2 2193.4,1120.2 2194.8,1120.2 2196.2,1120.2 2197.6,1120.2 2199.0,1120.2 2200.4,1120.2 2201.8,1120.2 2203.2,1120.2 2204.6,1120.2 2206.0,1120.2 2207.4,1120.2 2208.8,1120.2 2210.2,1120.2 2211.7,1120.2 2213.1,1120.2 2214.5,1120.2 2215.9,1120.2 2217.3,1120.2 2218.7,1120.2 2220.1,1120.2 2221.5,1120.2 2222.9,1120.2 2224.3,1120.2 2225.7,1120.2 2227.1,1120.2 2228.5,1120.2 2229.9,1120.2 2231.3,1120.2 2232.8,1120.2 2234.2,1120.2 2235.6,1120.2 2237.0,1120.2 2238.4,1120.2 2239.8,1120.2 2241.2,1120.2 2242.6,1120.2 2244.0,1120.2 2245.4,1120.2 2246.8,1120.2 2248.2,1120.2 2249.6,1120.2 2251.0,1120.2 2252.4,1120.2 2253.9,1120.2 2255.3,1120.2 2256.7,1120.2 2258.1,1120.2 2259.5,1120.2 2260.9,1120.2 2262.3,1120.2 2263.7,1120.2 2265.1,1120.2 2266.5,1120.2 2267.9,1120.2 2269.3,1120.2 2270.7,1120.2 2272.1,1120.2 2273.5,1120.2 2275.0,1120.2 2276.4,1120.2 2277.8,1120.2 2279.2,1120.2 2280.6,1120.2 2282.0,1120.2 2283.4,1120.2 2284.8,1120.2 2286.2,1120.2 2287.6,1120.2 2289.0,1120.2 2290.4,1120.2 2291.8,1120.2 2293.2,1120.2 2294.6,1120.2 2296.1,1120.2 2297.5,1120.2 2298.9,1120.2 2300.3,1120.2 2301.7,1120.2 2303.1,1120.2 2304.5,1120.2 2305.9,1120.2 2307.3,1120.2 2308.7,1120.2 2310.1,1120.2 2311.5,1120.2 2312.9,1120.2 2314.3,1120.2 2315.7,1120.2 2317.2,1120.2 2318.6,1120.2 2320.0,1120.2 2321.4,1120.2 2322.8,1120.2 2324.2,1120.2 2325.6,1120.2 2327.0,1120.2 2328.4,1120.2 2329.8,1120.2 2331.2,1120.2 2332.6,1120.2 2334.0,1120.2 2335.4,1120.2 2336.8,1120.2 2338.3,1120.2 2339.7,1120.2 2341.1,1120.2 2342.5,1120.2" fill="none" stroke="#ff00ff" stroke-width="7.2" stroke-linejoin="round"/>
<polyline points="233.0,1014.0 234.4,1014.0 235.8,1014.0 237.2,1014.0 238.6,1014.0 240.0,1014.0 241.4,1014.0 242.8,1014.0 244.3,1014.0 245.7,1014.0 247.1,1014.0 248.5,1014.0 249.9,1014.1 251.3,1014.1 252.7,1014.1 254.1,1014.1 255.5,1014.1 256.9,1014.1 258.3,1014.1 259.7,1014.1 261.1,1014.1 262.5,1014.1 263.9,1014.1 265.4,1014.1 266.8,1014.1 268.2,1014.1 269.6,1014.1 271.0,1014.1 272.4,1014.1 273.8,1014.1 275.2,1014.1 276.6,1014.2 278.0,1014.2 279.4,1014.2 280.8,1014.2 282.2,1014.2 283.6,1014.2 285.0,1014.2 286.5,1014.2 287.9,1014.2 289.3,1014.2 290.7,1014.2 292.1,1014.2 293.5,1014.2 294.9,1014.2 296.3,1014.2 297.7,1014.2 299.1,1014.2 300.5,1014.2 301.9,1014.2 303.3,1014.3 304.7,1014.3 306.1,1014.3 307.6,1014.3 309.0,1014.3 310.4,1014.3 311.8,1014.3 313.2,1014.3 314.6,1014.3 316.0,1014.3 317.4,1014.3 318.8,1014.3 320.2,1014.3 321.6,1014.3 323.0,1014.3 324.4,1014.3 325.8,1014.3 327.2,1014.3 328.7,1014.3 330.1,1014.4 331.5,1014.4 332.9,1014.4 334.3,1014.4 335.7,1014.4 337.1,1014.4 338.5,1014.4 339.9,1014.4 341.3,1014.4 342.7,1014.4 344.1,1014.4 345.5,1014.4 346.9,1014.4 348.3,1014.4 349.8,1014.4 351.2,1014.4 352.6,1014.4 354.0,1014.4 355.4,1014.4 356.8,1014.5 358.2,1014.5 359.6,1014.5 361.0,1014.5 362.4,1014.5 363.8,1014.5 365.2,1014.5 366.6,1014.5 368.0,1014.5 369.4,1014.5 370.9,1014.5 372.3,1014.5 373.7,1014.5 375.1,1014.5 376.5,1014.5 377.9,1014.5 379.3,1014.5 380.7,1014.5 382.1,1014.5 383.5,1014.6 384.9,1014.6 386.3,1014.6 387.7,1014.6 389.1,1014.6 390.5,1014.6 392.0,1014.6 393.4,1014.6 394.8,1014.6 396.2,1014.6 397.6,1014.6 399.0,1014.6 400.4,1014.6 401.8,1014.6 403.2,1014.6 404.6,1014.6 406.0,1014.6 407.4,1014.6 408.8,1014.6 410.2,1014.7 411.6,1014.7 413.1,1014.7 414.5,1014.7 415.9,1014.7 417.3,1014.7 418.7,1014.7 420.1,1014.7 421.5,1014.7 422.9,1014.7 424.3,1014.7 425.7,1014.7 427.1,1014.7 428.5,1014.7 429.9,1014.7 431.3,1014.7 432.7,1014.7 434.2,1014.7 435.6,1014.7 437.0,1014.8 438.4,1014.8 439.8,1014.8 441.2,1014.8 442.6,1014.8 444.0,1014.8 445.4,1014.8 446.8,1014.8 448.2,1014.8 449.6,1014.8 451.0,1014.8 452.4,1014.8 453.8,1014.8 455.3,1014.8 456.7,1014.8 458.1,1014.8 459.5,1014.8 460.9,1014.8 462.3,1014.8 463.7,1014.8 465.1,1014.9 466.5,1014.9 467.9,1014.9 469.3,1014.9 470.7,1014.9 472.1,1014.9 473.5,1014.9 474.9,1014.9 476.4,1014.9 477.8,1014.9 479.2,1014.9 480.6,1014.9 482.0,1014.9 483.4,1014.9 484.8,1014.9 486.2,1014.9 487.6,1014.9 489.0,1014.9 490.4,1014.9 491.8,1014.9 493.2,1015.0 494.6,1015.0 496.0,1015.0 497.5,1015.0 498.9,1015.0 500.3,1015.0 501.7,1015.0 503.1,1015.0 504.5,1015.0 505.9,1015.0 507.3,1015.0 508.7,1015.0 510.1,1015.0 511.5,1015.0 512.9,1015.0 514.3,1015.0 515.7,1015.0 517.1,1015.0 518.6,1015.0 520.0,1015.0 521.4,1015.0 522.8,1015.0 524.2,1015.1 525.6,1015.1 527.0,1015.1 528.4,1015.1 529.8,1015.1 531.2,1015.1 532.6,1015.1 534.0,1015.1 535.4,1015.1 536.8,1015.1 538.2,1015.1 539.7,1015.1 541.1,1015.1 542.5,1015.1 543.9,1015.1 545.3,1015.1 546.7,1015.1 548.1,1015.1 549.5,1015.1 550.9,1015.1 552.3,1015.1 553.7,1015.1 555.1,1015.1 556.5,1015.1 557.9,1015.1 559.3,1015.1 560.8,1015.1 562.2,1015.2 563.6,1015.2 565.0,1015.2 566.4,1015.2 567.8,1015.2 569.2,1015.2 570.6,1015.2 572.0,1015.2 573.4,1015.2 574.8,1015.2 576.2,1015.2 577.6,1015.2 579.0,1015.2 580.4,1015.2 581.9,1015.2 583.3,1015.2 584.7,1015.2 586.1,1015.2 587.5,1015.2 588.9,1015.2 590.3,1015.2 591.7,1015.2 593.1,1015.2 594.5,1015.1 595.9,1015.1 597.3,1015.1 598.7,1015.1 600.1,1015.1 601.5,1015.1 603.0,1015.1 604.4,1015.1 605.8,1015.1 607.2,1015.1 608.6,1015.0 610.0,1015.0 611.4,1015.0 612.8,1015.0 614.2,1014.9 615.6,1014.9 615.8,1014.9 616.0,1014.9 616.1,1014.9 616.3,1014.9 616.5,1014.9 616.7,1014.9 616.8,1014.9 617.0,1014.9 617.2,1014.8 617.4,1014.8 617.5,1014.8 617.7,1014.8 617.9,1014.8 618.1,1014.8 618.3,1014.8 618.4,1014.8 618.6,1014.8 618.8,1014.8 619.0,1014.8 619.1,1014.8 619.3,1014.8 619.5,1014.8 619.7,1014.8 619.8,1014.8 620.0,1014.7 620.2,1014.7 620.4,1014.7 620.5,1014.7 620.7,1014.7 620.9,1014.7 621.1,1014.7 621.2,1014.7 621.4,1014.7 621.6,1014.7 621.8,1014.7 621.9,1014.6 622.1,1014.6 622.3,1014.6 622.5,1014.6 622.6,1014.6 622.8,1014.6 623.0,1014.6 623.2,1014.6 623.4,1014.6 623.5,1014.6 623.7,1014.5 623.9,1014.5 624.1,1014.5 624.2,1014.5 624.4,1014.5 624.6,1014.5 624.8,1014.5 624.9,1014.5 625.1,1014.4 625.3,1014.4 625.5,1014.4 625.6,1014.4 625.8,1014.4 626.0,1014.4 626.2,1014.4 626.3,1014.3 626.5,1014.3 626.7,1014.3 626.9,1014.3 627.0,1014.3 627.2,1014.2 627.4,1014.2 627.6,1014.2 627.7,1014.2 627.9,1014.2 628.1,1014.2 628.3,1014.1 628.4,1014.1 628.6,1014.1 628.8,1014.1 629.0,1014.0 629.2,1014.0 629.3,1014.0 629.5,1014.0 629.7,1013.9 629.9,1013.9 630.0,1013.9 630.2,1013.8 630.4,1013.8 630.6,1013.8 630.7,1013.8 630.9,1013.7 631.1,1013.7 631.3,1013.6 631.4,1013.6 631.6,1013.6 631.8,1013.5 632.0,1013.5 632.1,1013.4 632.3,1013.4 632.5,1013.3 632.7,1013.3 632.8,1013.2 633.0,1013.2 633.2,1013.1 633.4,1013.1 633.5,1013.0 633.7,1012.9 633.9,1012.8 634.1,1012.8 634.3,1012.7 634.4,1012.6 634.6,1012.5 634.8,1012.4 635.0,1012.3 635.1,1012.2 635.3,1012.1 635.5,1012.0 635.7,1011.8 635.8,1011.7 636.0,1011.6 636.2,1011.4 636.4,1011.3 636.5,1011.1 636.7,1010.9 636.9,1010.7 637.1,1010.5 637.2,1010.3 637.4,1010.1 637.6,1009.9 637.8,1009.7 637.9,1009.4 638.1,1009.1 638.3,1008.9 638.5,1008.6 638.6,1008.3 638.8,1007.9 639.0,1007.6 639.2,1007.3 639.4,1006.9 639.5,1006.5 639.7,1006.1 639.9,1005.7 640.1,1005.2 640.2,1004.8 640.4,1004.3 640.6,1003.8 640.8,1003.3 640.9,1002.8 641.1,1002.3 641.3,1001.7 641.5,1001.2 641.6,1000.6 641.8,1000.0 642.0,999.4 642.2,998.7 642.3,998.1 642.5,997.4 642.7,996.7 642.9,996.1 643.0,995.4 643.2,994.7 643.4,994.0 643.6,993.2 643.7,992.5 643.9,991.8 644.1,991.1 644.3,990.3 644.5,989.6 644.6,988.9 644.8,988.2 645.0,987.5 645.2,986.8 645.3,986.2 645.5,985.5 645.7,984.9 645.9,984.3 646.0,983.7 646.2,983.2 646.4,982.7 646.6,982.3 646.7,981.9 646.9,981.5 647.1,981.2 647.3,981.0 647.4,980.8 647.6,980.6 647.8,980.5 648.0,980.5 648.1,980.5 648.3,980.6 648.5,980.8 648.7,981.0 648.8,981.2 649.0,981.5 649.2,981.9 649.4,982.3 649.5,982.7 649.7,983.2 649.9,983.8 650.1,984.3 650.3,984.9 650.4,985.5 650.6,986.2 650.8,986.8 651.0,987.5 651.1,988.2 651.3,988.9 651.5,989.6 651.7,990.4 651.8,991.1 652.0,991.8 652.2,992.5 652.4,993.3 652.5,994.0 652.7,994.7 652.9,995.4 653.1,996.1 653.2,996.8 653.4,997.4 653.6,998.1 653.8,998.8 653.9,999.4 654.1,1000.0 654.3,1000.6 654.5,1001.2 654.6,1001.8 654.8,1002.3 655.0,1002.9 655.2,1003.4 655.4,1003.9 655.5,1004.4 655.7,1004.8 655.9,1005.3 656.1,1005.7 656.2,1006.1 656.4,1006.5 656.6,1006.9 656.8,1007.3 656.9,1007.6 657.1,1008.0 657.3,1008.3 657.5,1008.6 657.6,1008.9 657.8,1009.2 658.0,1009.4 658.2,1009.7 658.3,1009.9 658.5,1010.2 658.7,1010.4 658.9,1010.6 659.0,1010.8 659.2,1011.0 659.4,1011.2 659.6,1011.3 659.7,1011.5 659.9,1011.6 660.1,1011.8 660.3,1011.9 660.5,1012.0 660.6,1012.1 660.8,1012.3 661.0,1012.4 661.2,1012.5 661.3,1012.6 661.5,1012.7 661.7,1012.7 661.9,1012.8 662.0,1012.9 662.2,1013.0 662.4,1013.0 662.6,1013.1 662.7,1013.2 662.9,1013.2 663.1,1013.3 663.3,1013.4 663.4,1013.4 663.6,1013.5 663.8,1013.5 664.0,1013.6 664.1,1013.6 664.3,1013.6 664.5,1013.7 664.7,1013.7 664.8,1013.8 665.0,1013.8 665.2,1013.8 665.4,1013.9 665.6,1013.9 665.7,1013.9 665.9,1014.0 666.1,1014.0 666.3,1014.0 666.4,1014.0 666.6,1014.1 666.8,1014.1 667.0,1014.1 667.1,1014.1 667.3,1014.2 667.5,1014.2 667.7,1014.2 667.8,1014.2 668.0,1014.3 668.2,1014.3 668.4,1014.3 668.5,1014.3 668.7,1014.3 668.9,1014.4 669.1,1014.4 669.2,1014.4 669.4,1014.4 669.6,1014.4 669.8,1014.4 669.9,1014.5 670.1,1014.5 670.3,1014.5 670.5,1014.5 670.6,1014.5 670.8,1014.5 671.0,1014.6 671.2,1014.6 671.4,1014.6 671.5,1014.6 671.7,1014.6 671.9,1014.6 672.1,1014.6 672.2,1014.6 672.4,1014.7 672.6,1014.7 672.8,1014.7 672.9,1014.7 673.1,1014.7 673.3,1014.7 673.5,1014.7 673.6,1014.7 673.8,1014.7 674.0,1014.8 674.2,1014.8 674.3,1014.8 674.5,1014.8 674.7,1014.8 674.9,1014.8 675.0,1014.8 675.2,1014.8 675.4,1014.8 675.6,1014.8 675.7,1014.8 675.9,1014.9 676.1,1014.9 676.3,1014.9 676.5,1014.9 676.6,1014.9 676.8,1014.9 677.0,1014.9 677.2,1014.9 677.3,1014.9 677.5,1014.9 677.7,1014.9 677.9,1014.9 678.0,1014.9 678.2,1014.9 678.4,1015.0 678.6,1015.0 678.7,1015.0 678.9,1015.0 679.1,1015.0 679.3,1015.0 679.4,1015.0 679.6,1015.0 679.8,1015.0 680.0,1015.0 680.1,1015.0 680.3,1015.0 680.5,1015.0 680.7,1015.0 680.8,1015.0 681.0,1015.0 681.2,1015.0 681.4,1015.0 681.6,1015.1 681.7,1015.1 683.1,1015.1 684.5,1015.1 685.9,1015.1 687.4,1015.2 688.8,1015.2 690.2,1015.2 691.6,1015.2 693.0,1015.2 694.4,1015.2 695.8,1015.2 697.2,1015.2 698.6,1015.2 700.0,1015.2 701.4,1015.2 702.8,1015.2 704.2,1015.2 705.6,1015.2 707.0,1015.2 707.2,1015.2 707.4,1015.2 707.6,1015.2 707.8,1015.2 707.9,1015.2 708.1,1015.2 708.3,1015.2 708.5,1015.2 708.6,1015.2 708.8,1015.2 709.0,1015.2 709.2,1015.2 709.3,1015.2 709.5,1015.2 709.7,1015.2 709.9,1015.1 710.0,1015.1 710.2,1015.1 710.4,1015.1 710.6,1015.1 710.7,1015.1 710.9,1015.1 711.1,1015.1 711.3,1015.1 711.4,1015.1 711.6,1015.1 711.8,1015.1 712.0,1015.1 712.1,1015.1 712.3,1015.1 712.5,1015.1 712.7,1015.1 712.8,1015.1 713.0,1015.1 713.2,1015.1 713.4,1015.1 713.6,1015.1 713.7,1015.1 713.9,1015.0 714.1,1015.0 714.3,1015.0 714.4,1015.0 714.6,1015.0 714.8,1015.0 715.0,1015.0 715.1,1015.0 715.3,1015.0 715.5,1015.0 715.7,1015.0 715.8,1015.0 716.0,1015.0 716.2,1015.0 716.4,1015.0 716.5,1014.9 716.7,1014.9 716.9,1014.9 717.1,1014.9 717.2,1014.9 717.4,1014.9 717.6,1014.9 717.8,1014.9 717.9,1014.9 718.1,1014.9 718.3,1014.9 718.5,1014.9 718.7,1014.8 718.8,1014.8 719.0,1014.8 719.2,1014.8 719.4,1014.8 719.5,1014.8 719.7,1014.8 719.9,1014.8 720.1,1014.8 720.2,1014.7 720.4,1014.7 720.6,1014.7 720.8,1014.7 720.9,1014.7 721.1,1014.7 721.3,1014.7 721.5,1014.6 721.6,1014.6 721.8,1014.6 722.0,1014.6 722.2,1014.6 722.3,1014.6 722.5,1014.6 722.7,1014.5 722.9,1014.5 723.0,1014.5 723.2,1014.5 723.4,1014.5 723.6,1014.4 723.8,1014.4 723.9,1014.4 724.1,1014.4 724.3,1014.3 724.5,1014.3 724.6,1014.3 724.8,1014.3 725.0,1014.2 725.2,1014.2 725.3,1014.2 725.5,1014.2 725.7,1014.1 725.9,1014.1 726.0,1014.1 726.2,1014.0 726.4,1014.0 726.6,1013.9 726.7,1013.9 726.9,1013.9 727.1,1013.8 727.3,1013.8 727.4,1013.7 727.6,1013.7 727.8,1013.6 728.0,1013.6 728.1,1013.5 728.3,1013.4 728.5,1013.4 728.7,1013.3 728.9,1013.2 729.0,1013.1 729.2,1013.1 729.4,1013.0 729.6,1012.9 729.7,1012.8 729.9,1012.7 730.1,1012.6 730.3,1012.5 730.4,1012.4 730.6,1012.2 730.8,1012.1 731.0,1012.0 731.1,1011.8 731.3,1011.7 731.5,1011.5 731.7,1011.4 731.8,1011.2 732.0,1011.0 732.2,1010.9 732.4,1010.7 732.5,1010.5 732.7,1010.2 732.9,1010.0 733.1,1009.8 733.2,1009.6 733.4,1009.3 733.6,1009.1 733.8,1008.8 733.9,1008.5 734.1,1008.2 734.3,1007.9 734.5,1007.6 734.7,1007.3 734.8,1007.0 735.0,1006.6 735.2,1006.3 735.4,1005.9 735.5,1005.5 735.7,1005.2 735.9,1004.8 736.1,1004.4 736.2,1003.9 736.4,1003.5 736.6,1003.1 736.8,1002.7 736.9,1002.2 737.1,1001.8 737.3,1001.3 737.5,1000.8 737.6,1000.4 737.8,999.9 738.0,999.4 738.2,998.9 738.3,998.4 738.5,997.9 738.7,997.4 738.9,996.9 739.0,996.5 739.2,996.0 739.4,995.5 739.6,995.0 739.8,994.6 739.9,994.1 740.1,993.7 740.3,993.2 740.5,992.8 740.6,992.4 740.8,992.1 741.0,991.7 741.2,991.4 741.3,991.1 741.5,990.8 741.7,990.5 741.9,990.3 742.0,990.1 742.2,990.0 742.4,989.8 742.6,989.7 742.7,989.7 742.9,989.7 743.1,989.7 743.3,989.7 743.4,989.8 743.6,990.0 743.8,990.1 744.0,990.3 744.1,990.5 744.3,990.8 744.5,991.1 744.7,991.4 744.9,991.7 745.0,992.0 745.2,992.4 745.4,992.8 745.6,993.2 745.7,993.7 745.9,994.1 746.1,994.5 746.3,995.0 746.4,995.5 746.6,996.0 746.8,996.4 747.0,996.9 747.1,997.4 747.3,997.9 747.5,998.4 747.7,998.9 747.8,999.4 748.0,999.9 748.2,1000.3 748.4,1000.8 748.5,1001.3 748.7,1001.7 748.9,1002.2 749.1,1002.6 749.2,1003.1 749.4,1003.5 749.6,1003.9 749.8,1004.3 750.0,1004.7 750.1,1005.1 750.3,1005.5 750.5,1005.9 750.7,1006.2 750.8,1006.6 751.0,1006.9 751.2,1007.3 751.4,1007.6 751.5,1007.9 751.7,1008.2 751.9,1008.5 752.1,1008.7 752.2,1009.0 752.4,1009.3 752.6,1009.5 752.8,1009.8 752.9,1010.0 753.1,1010.2 753.3,1010.4 753.5,1010.6 753.6,1010.8 753.8,1011.0 754.0,1011.2 754.2,1011.3 754.3,1011.5 754.5,1011.6 754.7,1011.8 754.9,1011.9 755.0,1012.1 755.2,1012.2 755.4,1012.3 755.6,1012.4 755.8,1012.5 755.9,1012.6 756.1,1012.7 756.3,1012.8 756.5,1012.9 756.6,1013.0 756.8,1013.1 757.0,1013.1 757.2,1013.2 757.3,1013.3 757.5,1013.4 757.7,1013.4 757.9,1013.5 758.0,1013.5 758.2,1013.6 758.4,1013.6 758.6,1013.7 758.7,1013.7 758.9,1013.8 759.1,1013.8 759.3,1013.9 759.4,1013.9 759.6,1013.9 759.8,1014.0 760.0,1014.0 760.1,1014.0 760.3,1014.1 760.5,1014.1 760.7,1014.1 760.9,1014.1 761.0,1014.2 761.2,1014.2 761.4,1014.2 761.6,1014.2 761.7,1014.3 761.9,1014.3 762.1,1014.3 762.3,1014.3 762.4,1014.3 762.6,1014.3 762.8,1014.4 763.0,1014.4 763.1,1014.4 763.3,1014.4 763.5,1014.4 763.7,1014.4 763.8,1014.5 764.0,1014.5 764.2,1014.5 764.4,1014.5 764.5,1014.5 764.7,1014.5 764.9,1014.5 765.1,1014.5 765.2,1014.5 765.4,1014.6 765.6,1014.6 765.8,1014.6 766.0,1014.6 766.1,1014.6 766.3,1014.6 766.5,1014.6 766.7,1014.6 766.8,1014.6 767.0,1014.6 767.2,1014.6 767.4,1014.6 767.5,1014.6 767.7,1014.6 767.9,1014.7 768.1,1014.7 768.2,1014.7 768.4,1014.7 768.6,1014.7 768.8,1014.7 768.9,1014.7 769.1,1014.7 769.3,1014.7 769.5,1014.7 769.6,1014.7 769.8,1014.7 770.0,1014.7 770.2,1014.7 770.3,1014.7 770.5,1014.7 770.7,1014.7 770.9,1014.7 771.1,1014.7 771.2,1014.7 771.4,1014.7 771.6,1014.7 771.8,1014.7 771.9,1014.7 772.1,1014.7 772.3,1014.7 772.5,1014.7 772.6,1014.7 772.8,1014.7 773.0,1014.7 773.2,1014.7 773.3,1014.7 773.5,1014.7 773.7,1014.7 773.9,1014.7 774.0,1014.7 774.2,1014.7 774.4,1014.7 774.6,1014.7 774.7,1014.7 774.9,1014.7 775.1,1014.7 775.3,1014.6 775.4,1014.6 775.6,1014.6 775.8,1014.6 776.0,1014.6 776.1,1014.6 776.3,1014.6 776.5,1014.6 776.7,1014.6 776.9,1014.6 777.0,1014.6 777.2,1014.6 777.4,1014.6 777.6,1014.6 777.7,1014.5 777.9,1014.5 778.1,1014.5 778.3,1014.5 778.4,1014.5 778.6,1014.5 778.8,1014.5 779.0,1014.5 779.1,1014.5 779.3,1014.4 779.5,1014.4 779.7,1014.4 779.8,1014.4 780.0,1014.4 780.2,1014.4 780.4,1014.4 780.5,1014.4 780.7,1014.3 780.9,1014.3 781.1,1014.3 781.2,1014.3 781.4,1014.3 781.6,1014.3 781.8,1014.2 782.0,1014.2 782.1,1014.2 782.3,1014.2 782.5,1014.2 782.7,1014.1 782.8,1014.1 783.0,1014.1 783.2,1014.1 783.4,1014.0 783.5,1014.0 783.7,1014.0 783.9,1014.0 784.1,1013.9 784.2,1013.9 784.4,1013.9 784.6,1013.9 784.8,1013.8 784.9,1013.8 785.1,1013.8 785.3,1013.7 785.5,1013.7 785.6,1013.7 785.8,1013.6 786.0,1013.6 786.2,1013.6 786.3,1013.5 786.5,1013.5 786.7,1013.4 786.9,1013.4 787.1,1013.3 787.2,1013.3 787.4,1013.2 787.6,1013.2 787.8,1013.1 787.9,1013.1 788.1,1013.0 788.3,1013.0 788.5,1012.9 788.6,1012.8 788.8,1012.8 789.0,1012.7 789.2,1012.6 789.3,1012.5 789.5,1012.5 789.7,1012.4 789.9,1012.3 790.0,1012.2 790.2,1012.1 790.4,1012.0 790.6,1011.8 790.7,1011.7 790.9,1011.6 791.1,1011.5 791.3,1011.3 791.4,1011.2 791.6,1011.0 791.8,1010.8 792.0,1010.7 792.2,1010.5 792.3,1010.3 792.5,1010.1 792.7,1009.9 792.9,1009.6 793.0,1009.4 793.2,1009.1 793.4,1008.8 793.6,1008.5 793.7,1008.2 793.9,1007.9 794.1,1007.6 794.3,1007.2 794.4,1006.8 794.6,1006.4 794.8,1006.0 795.0,1005.6 795.1,1005.1 795.3,1004.6 795.5,1004.1 795.7,1003.6 795.8,1003.1 796.0,1002.5 796.2,1001.9 796.4,1001.3 796.5,1000.6 796.7,999.9 796.9,999.2 797.1,998.5 797.2,997.8 797.4,997.0 797.6,996.2 797.8,995.3 798.0,994.5 798.1,993.6 798.3,992.7 798.5,991.8 798.7,990.8 798.8,989.9 799.0,988.9 799.2,987.9 799.4,986.9 799.5,985.8 799.7,984.8 799.9,983.7 800.1,982.6 800.2,981.5 800.4,980.5 800.6,979.4 800.8,978.3 800.9,977.2 801.1,976.1 801.3,975.1 801.5,974.0 801.6,973.0 801.8,972.0 802.0,971.0 802.2,970.1 802.3,969.2 802.5,968.4 802.7,967.6 802.9,966.9 803.1,966.2 803.2,965.6 803.4,965.1 803.6,964.6 803.8,964.2 803.9,963.9 804.1,963.7 804.3,963.6 804.5,963.5 804.6,963.6 804.8,963.7 805.0,963.9 805.2,964.2 805.3,964.6 805.5,965.1 805.7,965.6 805.9,966.2 806.0,966.9 806.2,967.6 806.4,968.4 806.6,969.3 806.7,970.2 806.9,971.1 807.1,972.1 807.3,973.1 807.4,974.1 807.6,975.1 807.8,976.2 808.0,977.3 808.2,978.3 808.3,979.4 808.5,980.5 808.7,981.6 808.9,982.7 809.0,983.8 809.2,984.8 809.4,985.9 809.6,986.9 809.7,988.0 809.9,989.0 810.1,990.0 810.3,990.9 810.4,991.9 810.6,992.8 810.8,993.7 811.0,994.6 811.1,995.5 811.3,996.3 811.5,997.1 811.7,997.9 811.8,998.6 812.0,999.4 812.2,1000.1 812.4,1000.7 812.5,1001.4 812.7,1002.0 812.9,1002.6 813.1,1003.2 813.3,1003.8 813.4,1004.3 813.6,1004.8 813.8,1005.3 814.0,1005.7 814.1,1006.2 814.3,1006.6 814.5,1007.0 814.7,1007.4 814.8,1007.7 815.0,1008.1 815.2,1008.4 815.4,1008.7 815.5,1009.0 815.7,1009.3 815.9,1009.6 816.1,1009.8 816.2,1010.1 816.4,1010.3 816.6,1010.5 816.8,1010.7 816.9,1010.9 817.1,1011.1 817.3,1011.2 817.5,1011.4 817.6,1011.5 817.8,1011.7 818.0,1011.8 818.2,1012.0 818.3,1012.1 818.5,1012.2 818.7,1012.3 818.9,1012.4 819.1,1012.5 819.2,1012.6 819.4,1012.7 819.6,1012.8 819.8,1012.9 819.9,1013.0 820.1,1013.0 820.3,1013.1 820.5,1013.2 820.6,1013.2 820.8,1013.3 821.0,1013.4 821.2,1013.4 821.3,1013.5 821.5,1013.5 821.7,1013.6 821.9,1013.7 822.0,1013.7 822.2,1013.8 822.4,1013.8 822.6,1013.8 822.7,1013.9 822.9,1013.9 823.1,1014.0 823.3,1014.0 823.4,1014.0 823.6,1014.1 823.8,1014.1 824.0,1014.2 824.2,1014.2 824.3,1014.2 824.5,1014.3 824.7,1014.3 824.9,1014.3 825.0,1014.4 825.2,1014.4 825.4,1014.4 825.6,1014.4 825.7,1014.5 825.9,1014.5 826.1,1014.5 826.3,1014.5 826.4,1014.6 826.6,1014.6 826.8,1014.6 827.0,1014.6 827.1,1014.7 827.3,1014.7 827.5,1014.7 827.7,1014.7 827.8,1014.8 828.0,1014.8 828.2,1014.8 828.4,1014.8 828.5,1014.8 828.7,1014.9 828.9,1014.9 829.1,1014.9 829.3,1014.9 829.4,1014.9 829.6,1015.0 829.8,1015.0 830.0,1015.0 830.1,1015.0 830.3,1015.0 830.5,1015.0 830.7,1015.1 830.8,1015.1 831.0,1015.1 831.2,1015.1 831.4,1015.1 831.5,1015.1 831.7,1015.1 831.9,1015.2 832.1,1015.2 832.2,1015.2 832.4,1015.2 832.6,1015.2 832.8,1015.2 832.9,1015.2 833.1,1015.2 833.3,1015.3 833.5,1015.3 833.6,1015.3 833.8,1015.3 834.0,1015.3 834.2,1015.3 834.4,1015.3 834.5,1015.3 834.7,1015.3 834.9,1015.4 835.1,1015.4 835.2,1015.4 835.4,1015.4 835.6,1015.4 835.8,1015.4 835.9,1015.4 836.1,1015.4 836.3,1015.4 836.5,1015.4 836.6,1015.5 836.8,1015.5 837.0,1015.5 837.2,1015.5 837.3,1015.5 837.5,1015.5 837.7,1015.5 837.9,1015.5 838.0,1015.5 838.2,1015.5 839.6,1015.6 841.0,1015.6 842.4,1015.7 843.8,1015.7 845.3,1015.8 846.7,1015.8 848.1,1015.9 849.5,1015.9 850.9,1015.9 852.3,1016.0 853.7,1016.0 855.1,1016.0 856.5,1016.0 857.9,1016.0 859.3,1016.1 860.7,1016.1 862.1,1016.1 863.5,1016.1 864.9,1016.1 866.4,1016.2 867.8,1016.2 869.2,1016.2 870.6,1016.2 872.0,1016.2 873.4,1016.2 874.8,1016.2 876.2,1016.3 877.6,1016.3 879.0,1016.3 880.4,1016.3 881.8,1016.3 883.2,1016.3 884.6,1016.3 886.0,1016.3 887.5,1016.3 888.9,1016.4 890.3,1016.4 891.7,1016.4 893.1,1016.4 894.5,1016.4 895.9,1016.4 897.3,1016.4 898.7,1016.4 900.1,1016.4 901.5,1016.4 902.9,1016.4 904.3,1016.4 905.7,1016.5 907.1,1016.5 908.6,1016.5 910.0,1016.5 911.4,1016.5 912.8,1016.5 914.2,1016.5 915.6,1016.5 917.0,1016.5 918.4,1016.5 919.8,1016.5 921.2,1016.5 922.6,1016.5 924.0,1016.6 925.4,1016.6 926.8,1016.6 928.2,1016.6 929.7,1016.6 931.1,1016.6 932.5,1016.6 933.9,1016.6 935.3,1016.6 936.7,1016.6 938.1,1016.6 939.5,1016.6 940.9,1016.6 942.3,1016.6 943.7,1016.6 945.1,1016.6 946.5,1016.6 947.9,1016.6 949.3,1016.6 950.8,1016.6 952.2,1016.6 953.6,1016.6 955.0,1016.6 956.4,1016.6 957.8,1016.6 959.2,1016.6 960.6,1016.6 962.0,1016.6 963.4,1016.6 964.8,1016.6 966.2,1016.6 967.6,1016.6 969.0,1016.6 970.4,1016.6 971.9,1016.6 973.3,1016.6 974.7,1016.6 976.1,1016.6 977.5,1016.6 978.9,1016.6 980.3,1016.6 981.7,1016.6 983.1,1016.6 984.5,1016.6 985.9,1016.6 987.3,1016.6 988.7,1016.6 990.1,1016.6 991.5,1016.6 993.0,1016.6 994.4,1016.6 995.8,1016.6 997.2,1016.6 998.6,1016.6 1000.0,1016.6 1001.4,1016.6 1002.8,1016.6 1004.2,1016.6 1005.6,1016.6 1007.0,1016.6 1008.4,1016.6 1009.8,1016.6 1011.2,1016.6 1012.6,1016.6 1014.1,1016.6 1015.5,1016.6 1016.9,1016.6 1018.3,1016.6 1019.7,1016.6 1021.1,1016.6 1022.5,1016.6 1023.9,1016.6 1025.3,1016.6 1026.7,1016.6 1028.1,1016.6 1029.5,1016.6 1030.9,1016.6 1032.3,1016.6 1033.7,1016.6 1035.2,1016.6 1036.6,1016.6 1038.0,1016.6 1039.4,1016.6 1040.8,1016.6 1042.2,1016.6 1043.6,1016.6 1045.0,1016.6 1046.4,1016.6 1047.8,1016.6 1049.2,1016.6 1050.6,1016.6 1052.0,1016.6 1053.4,1016.6 1054.8,1016.6 1056.3,1016.6 1057.7,1016.6 1059.1,1016.6 1060.5,1016.6 1061.9,1016.6 1063.3,1016.6 1064.7,1016.6 1066.1,1016.6 1067.5,1016.6 1068.9,1016.6 1070.3,1016.6 1071.7,1016.6 1073.1,1016.6 1074.5,1016.6 1075.9,1016.6 1077.4,1016.6 1078.8,1016.6 1080.2,1016.6 1081.6,1016.6 1083.0,1016.6 1084.4,1016.6 1085.8,1016.6 1087.2,1016.6 1088.6,1016.6 1090.0,1016.6 1091.4,1016.6 1092.8,1016.6 1094.2,1016.6 1095.6,1016.6 1097.0,1016.6 1098.5,1016.6 1099.9,1016.6 1101.3,1016.6 1102.7,1016.6 1104.1,1016.6 1105.5,1016.6 1106.9,1016.6 1108.3,1016.6 1109.7,1016.6 1111.1,1016.6 1112.5,1016.6 1113.9,1016.6 1115.3,1016.6 1116.7,1016.6 1118.1,1016.6 1119.6,1016.6 1121.0,1016.6 1122.4,1016.6 1123.8,1016.6 1125.2,1016.6 1126.6,1016.6 1128.0,1016.6 1129.4,1016.6 1130.8,1016.6 1132.2,1016.6 1133.6,1016.6 1135.0,1016.6 1136.4,1016.6 1137.8,1016.6 1139.2,1016.6 1140.7,1016.6 1142.1,1016.6 1143.5,1016.6 1144.9,1016.6 1146.3,1016.6 1147.7,1016.5 1149.1,1016.5 1150.5,1016.5 1151.9,1016.5 1153.3,1016.5 1154.7,1016.5 1156.1,1016.5 1157.5,1016.5 1158.9,1016.5 1160.3,1016.5 1161.8,1016.5 1163.2,1016.5 1164.6,1016.5 1166.0,1016.5 1167.4,1016.5 1168.8,1016.5 1170.2,1016.5 1171.6,1016.5 1173.0,1016.4 1174.4,1016.4 1175.8,1016.4 1177.2,1016.4 1178.6,1016.4 1180.0,1016.4 1181.4,1016.3 1182.9,1016.3 1184.3,1016.3 1185.7,1016.2 1187.1,1016.2 1188.5,1016.1 1189.9,1016.0 1191.3,1015.8 1192.7,1015.5 1194.1,1015.1 1195.5,1014.6 1196.9,1013.8 1198.3,1012.9 1199.7,1011.9 1201.1,1010.9 1202.5,1010.0 1204.0,1009.6 1205.4,1009.7 1206.8,1010.4 1208.2,1011.4 1209.6,1012.4 1211.0,1013.4 1212.4,1014.2 1213.8,1014.9 1215.2,1015.3 1216.6,1015.6 1218.0,1015.9 1219.4,1016.0 1220.8,1016.1 1222.2,1016.2 1223.6,1016.2 1225.1,1016.3 1226.5,1016.3 1227.9,1016.3 1229.3,1016.4 1230.7,1016.4 1232.1,1016.4 1233.5,1016.4 1234.9,1016.4 1236.3,1016.4 1237.7,1016.4 1239.1,1016.4 1240.5,1016.5 1241.9,1016.5 1243.3,1016.5 1244.7,1016.5 1246.2,1016.5 1247.6,1016.5 1249.0,1016.5 1250.4,1016.5 1251.8,1016.5 1253.2,1016.5 1254.6,1016.5 1256.0,1016.5 1257.4,1016.5 1258.8,1016.5 1260.2,1016.5 1261.6,1016.5 1263.0,1016.5 1264.4,1016.5 1265.8,1016.5 1267.3,1016.5 1268.7,1016.5 1270.1,1016.5 1271.5,1016.5 1272.9,1016.5 1274.3,1016.5 1275.7,1016.5 1277.1,1016.5 1278.5,1016.5 1279.9,1016.5 1281.3,1016.5 1282.7,1016.5 1284.1,1016.5 1285.5,1016.5 1286.9,1016.5 1288.4,1016.5 1289.8,1016.5 1291.2,1016.5 1292.6,1016.5 1294.0,1016.5 1295.4,1016.5 1296.8,1016.5 1298.2,1016.5 1299.6,1016.5 1301.0,1016.5 1302.4,1016.5 1303.8,1016.5 1305.2,1016.5 1306.6,1016.5 1308.0,1016.5 1309.5,1016.5 1310.9,1016.5 1312.3,1016.5 1313.7,1016.5 1315.1,1016.5 1316.5,1016.5 1317.9,1016.5 1319.3,1016.5 1320.7,1016.5 1322.1,1016.5 1323.5,1016.5 1324.9,1016.5 1326.3,1016.5 1327.7,1016.5 1329.1,1016.5 1330.6,1016.5 1332.0,1016.5 1333.4,1016.5 1334.8,1016.5 1336.2,1016.5 1337.6,1016.5 1339.0,1016.5 1340.4,1016.5 1341.8,1016.5 1343.2,1016.5 1344.6,1016.5 1346.0,1016.5 1347.4,1016.5 1348.8,1016.5 1350.2,1016.5 1351.7,1016.5 1353.1,1016.5 1354.5,1016.5 1355.9,1016.5 1357.3,1016.5 1358.7,1016.5 1360.1,1016.5 1361.5,1016.5 1362.9,1016.5 1364.3,1016.5 1365.7,1016.5 1367.1,1016.5 1368.5,1016.5 1369.9,1016.5 1371.3,1016.5 1372.8,1016.5 1374.2,1016.5 1375.6,1016.5 1377.0,1016.5 1378.4,1016.5 1379.8,1016.5 1381.2,1016.5 1382.6,1016.5 1384.0,1016.5 1385.4,1016.5 1386.8,1016.5 1388.2,1016.5 1389.6,1016.4 1391.0,1016.4 1392.4,1016.4 1393.9,1016.4 1395.3,1016.4 1396.7,1016.4 1398.1,1016.4 1399.5,1016.4 1400.9,1016.4 1402.3,1016.4 1403.7,1016.4 1405.1,1016.4 1406.5,1016.4 1407.9,1016.4 1409.3,1016.4 1410.7,1016.4 1412.1,1016.4 1413.5,1016.4 1415.0,1016.4 1416.4,1016.4 1417.8,1016.4 1419.2,1016.4 1420.6,1016.4 1422.0,1016.4 1423.4,1016.4 1424.8,1016.4 1426.2,1016.4 1427.6,1016.4 1429.0,1016.4 1430.4,1016.4 1431.8,1016.4 1433.2,1016.4 1434.6,1016.4 1436.1,1016.4 1437.5,1016.4 1438.9,1016.4 1440.3,1016.4 1441.7,1016.4 1443.1,1016.4 1444.5,1016.4 1445.9,1016.4 1447.3,1016.4 1448.7,1016.4 1450.1,1016.4 1451.5,1016.4 1452.9,1016.4 1454.3,1016.4 1455.7,1016.4 1457.2,1016.4 1458.6,1016.3 1460.0,1016.3 1461.4,1016.3 1462.8,1016.3 1464.2,1016.3 1465.6,1016.3 1467.0,1016.3 1468.4,1016.3 1469.8,1016.3 1471.2,1016.3 1472.6,1016.3 1474.0,1016.3 1475.4,1016.3 1476.8,1016.3 1478.3,1016.3 1479.7,1016.3 1481.1,1016.3 1482.5,1016.2 1483.9,1016.2 1485.3,1016.2 1486.7,1016.2 1488.1,1016.2 1489.5,1016.2 1490.9,1016.2 1492.3,1016.2 1493.7,1016.1 1495.1,1016.1 1496.5,1016.1 1497.9,1016.1 1499.4,1016.0 1500.8,1016.0 1502.2,1015.9 1503.6,1015.9 1505.0,1015.8 1506.4,1015.7 1507.8,1015.6 1509.2,1015.3 1510.6,1015.0 1512.0,1014.6 1513.4,1013.9 1514.8,1013.0 1516.2,1011.9 1517.6,1010.6 1519.0,1009.3 1520.5,1008.1 1521.9,1007.4 1523.3,1007.4 1524.7,1008.1 1526.1,1009.3 1527.5,1010.6 1528.9,1011.9 1530.3,1013.0 1531.7,1013.9 1533.1,1014.5 1534.5,1015.0 1535.9,1015.3 1537.3,1015.5 1538.7,1015.6 1540.1,1015.7 1541.6,1015.8 1543.0,1015.8 1544.4,1015.9 1545.8,1015.9 1547.2,1015.9 1548.6,1016.0 1550.0,1016.0 1551.4,1016.0 1552.8,1016.0 1554.2,1016.0 1555.6,1016.0 1557.0,1016.0 1558.4,1016.0 1559.8,1016.0 1561.2,1016.0 1562.7,1016.0 1564.1,1016.0 1565.5,1016.0 1566.9,1016.0 1568.3,1016.0 1569.7,1016.0 1571.1,1016.0 1572.5,1016.0 1573.9,1016.0 1575.3,1016.0 1576.7,1016.0 1578.1,1016.0 1579.5,1016.0 1580.9,1016.0 1582.3,1016.0 1583.8,1016.0 1585.2,1016.0 1586.6,1016.0 1588.0,1016.0 1589.4,1016.0 1590.8,1016.0 1592.2,1015.9 1593.6,1015.9 1595.0,1015.9 1596.4,1015.9 1597.8,1015.9 1599.2,1015.9 1600.6,1015.9 1602.0,1015.9 1603.4,1015.9 1604.9,1015.9 1606.3,1015.8 1607.7,1015.8 1609.1,1015.8 1610.5,1015.8 1611.9,1015.8 1613.3,1015.8 1614.7,1015.8 1616.1,1015.8 1617.5,1015.7 1618.9,1015.7 1620.3,1015.7 1621.7,1015.7 1623.1,1015.7 1624.5,1015.7 1626.0,1015.6 1627.4,1015.6 1628.8,1015.6 1630.2,1014.7 1631.6,1013.5 1633.0,1012.5 1634.4,1012.5 1635.8,1012.5 1637.2,1012.4 1638.6,1012.4 1640.0,1012.4 1641.4,1012.3 1642.8,1012.3 1644.2,1012.3 1645.6,1012.2 1647.1,1012.2 1648.5,1012.1 1649.9,1012.1 1651.3,1012.1 1652.7,1012.0 1654.1,1012.0 1655.5,1011.9 1656.9,1011.9 1658.3,1011.8 1659.7,1011.8 1661.1,1011.7 1662.5,1011.6 1663.9,1011.6 1665.3,1011.5 1666.7,1011.5 1668.2,1011.4 1669.6,1011.3 1671.0,1011.2 1672.4,1011.2 1673.8,1011.1 1675.2,1011.0 1676.6,1010.9 1678.0,1010.8 1679.4,1010.7 1680.8,1010.6 1682.2,1010.5 1683.6,1010.3 1685.0,1010.2 1685.2,1010.2 1685.4,1010.2 1685.6,1010.2 1685.7,1010.1 1685.9,1010.1 1686.1,1010.1 1686.3,1010.1 1686.4,1010.1 1686.6,1010.0 1686.8,1010.0 1687.0,1010.0 1687.1,1010.0 1687.3,1010.0 1687.5,1010.0 1687.7,1009.9 1687.8,1009.9 1688.0,1009.9 1688.2,1009.9 1688.4,1009.9 1688.5,1009.8 1688.7,1009.8 1688.9,1009.8 1689.1,1009.8 1689.3,1009.8 1689.4,1009.7 1689.6,1009.7 1689.8,1009.7 1690.0,1009.7 1690.1,1009.7 1690.3,1009.6 1690.5,1009.6 1690.7,1009.6 1690.8,1009.6 1691.0,1009.6 1691.2,1009.5 1691.4,1009.5 1691.5,1009.5 1691.7,1009.5 1691.9,1009.4 1692.1,1009.4 1692.2,1009.4 1692.4,1009.4 1692.6,1009.4 1692.8,1009.3 1692.9,1009.3 1693.1,1009.3 1693.3,1009.3 1693.5,1009.2 1693.6,1009.2 1693.8,1009.2 1694.0,1009.2 1694.2,1009.1 1694.4,1009.1 1694.5,1009.1 1694.7,1009.1 1694.9,1009.0 1695.1,1009.0 1695.2,1009.0 1695.4,1009.0 1695.6,1008.9 1695.8,1008.9 1695.9,1008.9 1696.1,1008.8 1696.3,1008.8 1696.5,1008.8 1696.6,1008.8 1696.8,1008.7 1697.0,1008.7 1697.2,1008.7 1697.3,1008.6 1697.5,1008.6 1697.7,1008.6 1697.9,1008.6 1698.0,1008.5 1698.2,1008.5 1698.4,1008.5 1698.6,1008.4 1698.7,1008.4 1698.9,1008.4 1699.1,1008.3 1699.3,1008.3 1699.5,1008.3 1699.6,1008.2 1699.8,1008.2 1700.0,1008.2 1700.2,1008.1 1700.3,1008.1 1700.5,1008.1 1700.7,1008.0 1700.9,1008.0 1701.0,1008.0 1701.2,1007.9 1701.4,1007.9 1701.6,1007.8 1701.7,1007.8 1701.9,1007.8 1702.1,1007.7 1702.3,1007.7 1702.4,1007.7 1702.6,1007.6 1702.8,1007.6 1703.0,1007.5 1703.1,1007.5 1703.3,1007.5 1703.5,1007.4 1703.7,1007.4 1703.8,1007.3 1704.0,1007.3 1704.2,1007.2 1704.4,1007.2 1704.6,1007.2 1704.7,1007.1 1704.9,1007.1 1705.1,1007.0 1705.3,1007.0 1705.4,1006.9 1705.6,1006.9 1705.8,1006.8 1706.0,1006.8 1706.1,1006.7 1706.3,1006.7 1706.5,1006.6 1706.7,1006.6 1706.8,1006.5 1707.0,1006.5 1707.2,1006.4 1707.4,1006.4 1707.5,1006.3 1707.7,1006.3 1707.9,1006.2 1708.1,1006.2 1708.2,1006.1 1708.4,1006.1 1708.6,1006.0 1708.8,1005.9 1708.9,1005.9 1709.1,1005.8 1709.3,1005.8 1709.5,1005.7 1709.6,1005.6 1709.8,1005.6 1710.0,1005.5 1710.2,1005.5 1710.4,1005.4 1710.5,1005.3 1710.7,1005.3 1710.9,1005.2 1711.1,1005.1 1711.2,1005.1 1711.4,1005.0 1711.6,1004.9 1711.8,1004.9 1711.9,1004.8 1712.1,1004.7 1712.3,1004.7 1712.5,1004.6 1712.6,1004.5 1712.8,1004.4 1713.0,1004.4 1713.2,1004.3 1713.3,1004.2 1713.5,1004.1 1713.7,1004.0 1713.9,1004.0 1714.0,1003.9 1714.2,1003.8 1714.4,1003.7 1714.6,1003.6 1714.7,1003.5 1714.9,1003.4 1715.1,1003.4 1715.3,1003.3 1715.5,1003.2 1715.6,1003.1 1715.8,1003.0 1716.0,1002.9 1716.2,1002.8 1716.3,1002.7 1716.5,1002.6 1716.7,1002.5 1716.9,1002.4 1717.0,1002.3 1717.2,1002.2 1717.4,1002.1 1717.6,1002.0 1717.7,1001.9 1717.9,1001.8 1718.1,1001.7 1718.3,1001.5 1718.4,1001.4 1718.6,1001.3 1718.8,1001.2 1719.0,1001.1 1719.1,1001.0 1719.3,1000.8 1719.5,1000.7 1719.7,1000.6 1719.8,1000.5 1720.0,1000.3 1720.2,1000.2 1720.4,1000.1 1720.6,999.9 1720.7,999.8 1720.9,999.6 1721.1,999.5 1721.3,999.3 1721.4,999.2 1721.6,999.0 1721.8,998.9 1722.0,998.7 1722.1,998.6 1722.3,998.4 1722.5,998.3 1722.7,998.1 1722.8,997.9 1723.0,997.7 1723.2,997.6 1723.4,997.4 1723.5,997.2 1723.7,997.0 1723.9,996.8 1724.1,996.6 1724.2,996.4 1724.4,996.2 1724.6,996.0 1724.8,995.8 1724.9,995.6 1725.1,995.3 1725.3,995.1 1725.5,994.9 1725.7,994.6 1725.8,994.3 1726.0,994.1 1726.2,993.8 1726.4,993.5 1726.5,993.2 1726.7,992.9 1726.9,992.6 1727.1,992.3 1727.2,991.9 1727.4,991.6 1727.6,991.2 1727.8,990.8 1727.9,990.4 1728.1,990.0 1728.3,989.5 1728.5,989.0 1728.6,988.5 1728.8,988.0 1729.0,987.5 1729.2,986.9 1729.3,986.3 1729.5,985.6 1729.7,984.9 1729.9,984.2 1730.0,983.4 1730.2,982.6 1730.4,981.7 1730.6,980.8 1730.7,979.8 1730.9,978.7 1731.1,977.6 1731.3,976.4 1731.5,975.1 1731.6,973.8 1731.8,972.4 1732.0,970.9 1732.2,969.3 1732.3,967.6 1732.5,965.8 1732.7,963.9 1732.9,961.9 1733.0,959.7 1733.2,957.5 1733.4,955.1 1733.6,952.6 1733.7,949.9 1733.9,947.1 1734.1,944.1 1734.3,941.0 1734.4,937.7 1734.6,934.3 1734.8,930.6 1735.0,926.8 1735.1,922.9 1735.3,918.7 1735.5,914.3 1735.7,909.8 1735.8,905.0 1736.0,900.1 1736.2,894.9 1736.4,889.5 1736.6,884.0 1736.7,878.2 1736.9,872.2 1737.1,866.0 1737.3,859.5 1737.4,852.9 1737.6,846.1 1737.8,839.0 1738.0,831.8 1738.1,824.3 1738.3,816.6 1738.5,808.8 1738.7,800.8 1738.8,792.6 1739.0,784.2 1739.2,775.7 1739.4,767.0 1739.5,758.1 1739.7,749.1 1739.9,740.0 1740.1,730.8 1740.2,721.5 1740.4,712.1 1740.6,702.6 1740.8,693.1 1740.9,683.5 1741.1,673.9 1741.3,664.2 1741.5,654.5 1741.7,644.9 1741.8,635.3 1742.0,625.7 1742.2,616.1 1742.4,606.7 1742.5,597.3 1742.7,588.0 1742.9,578.8 1743.1,569.7 1743.2,560.8 1743.4,552.0 1743.6,543.4 1743.8,534.9 1743.9,526.6 1744.1,518.5 1744.3,510.6 1744.5,503.0 1744.6,495.5 1744.8,488.3 1745.0,481.3 1745.2,474.5 1745.3,467.9 1745.5,461.6 1745.7,455.6 1745.9,449.8 1746.0,444.3 1746.2,439.0 1746.4,433.9 1746.6,429.1 1746.8,424.6 1746.9,420.3 1747.1,416.2 1747.3,412.4 1747.5,408.8 1747.6,405.5 1747.8,402.4 1748.0,399.5 1748.2,396.9 1748.3,394.5 1748.5,392.3 1748.7,390.3 1748.9,388.6 1749.0,387.0 1749.2,385.7 1749.4,384.6 1749.6,383.6 1749.7,382.9 1749.9,382.4 1750.1,382.0 1750.3,381.9 1750.4,382.0 1750.6,382.2 1750.8,382.7 1751.0,383.4 1751.1,384.2 1751.3,385.3 1751.5,386.5 1751.7,388.0 1751.8,389.7 1752.0,391.6 1752.2,393.7 1752.4,396.1 1752.6,398.6 1752.7,401.4 1752.9,404.4 1753.1,407.7 1753.3,411.1 1753.4,414.9 1753.6,418.8 1753.8,423.0 1754.0,427.5 1754.1,432.2 1754.3,437.2 1754.5,442.4 1754.7,447.8 1754.8,453.6 1755.0,459.5 1755.2,465.7 1755.4,472.2 1755.5,478.9 1755.7,485.8 1755.9,493.0 1756.1,500.3 1756.2,507.9 1756.4,515.8 1756.6,523.8 1756.8,532.0 1756.9,540.4 1757.1,549.0 1757.3,557.7 1757.5,566.6 1757.7,575.6 1757.8,584.8 1758.0,594.1 1758.2,603.4 1758.4,612.9 1758.5,622.4 1758.7,632.0 1758.9,641.6 1759.1,651.3 1759.2,660.9 1759.4,670.6 1759.6,680.3 1759.8,689.9 1759.9,699.5 1760.1,709.0 1760.3,718.4 1760.5,727.8 1760.6,737.1 1760.8,746.2 1761.0,755.3 1761.2,764.2 1761.3,772.9 1761.5,781.6 1761.7,790.0 1761.9,798.3 1762.0,806.4 1762.2,814.3 1762.4,822.1 1762.6,829.6 1762.8,837.0 1762.9,844.1 1763.1,851.0 1763.3,857.8 1763.5,864.3 1763.6,870.6 1763.8,876.7 1764.0,882.6 1764.2,888.3 1764.3,893.7 1764.5,899.0 1764.7,904.0 1764.9,908.9 1765.0,913.5 1765.2,918.0 1765.4,922.2 1765.6,926.3 1765.7,930.2 1765.9,933.9 1766.1,937.4 1766.3,940.8 1766.4,944.0 1766.6,947.0 1766.8,949.9 1767.0,952.6 1767.1,955.2 1767.3,957.7 1767.5,960.0 1767.7,962.2 1767.9,964.3 1768.0,966.2 1768.2,968.1 1768.4,969.8 1768.6,971.5 1768.7,973.0 1768.9,974.5 1769.1,975.9 1769.3,977.2 1769.4,978.4 1769.6,979.6 1769.8,980.7 1770.0,981.7 1770.1,982.6 1770.3,983.6 1770.5,984.4 1770.7,985.2 1770.8,986.0 1771.0,986.7 1771.2,987.4 1771.4,988.0 1771.5,988.7 1771.7,989.2 1771.9,989.8 1772.1,990.3 1772.2,990.8 1772.4,991.3 1772.6,991.7 1772.8,992.1 1772.9,992.5 1773.1,992.9 1773.3,993.3 1773.5,993.7 1773.7,994.0 1773.8,994.3 1774.0,994.7 1774.2,995.0 1774.4,995.3 1774.5,995.5 1774.7,995.8 1774.9,996.1 1775.1,996.3 1775.2,996.6 1775.4,996.8 1775.6,997.1 1775.8,997.3 1775.9,997.5 1776.1,997.7 1776.3,998.0 1776.5,998.2 1776.6,998.4 1776.8,998.6 1777.0,998.8 1777.2,998.9 1777.3,999.1 1777.5,999.3 1777.7,999.5 1777.9,999.7 1778.0,999.8 1778.2,1000.0 1778.4,1000.2 1778.6,1000.4 1778.8,1000.5 1778.9,1000.7 1779.1,1000.8 1779.3,1001.0 1779.5,1001.1 1779.6,1001.3 1779.8,1001.4 1780.0,1001.6 1780.2,1001.7 1780.3,1001.9 1780.5,1002.0 1780.7,1002.1 1780.9,1002.3 1781.0,1002.4 1781.2,1002.5 1781.4,1002.7 1781.6,1002.8 1781.7,1002.9 1781.9,1003.0 1782.1,1003.2 1782.3,1003.3 1782.4,1003.4 1782.6,1003.5 1782.8,1003.6 1783.0,1003.7 1783.1,1003.9 1783.3,1004.0 1783.5,1004.1 1783.7,1004.2 1783.9,1004.3 1784.0,1004.4 1784.2,1004.5 1784.4,1004.6 1784.6,1004.7 1784.7,1004.8 1784.9,1004.9 1785.1,1005.0 1785.3,1005.1 1785.4,1005.2 1785.6,1005.3 1785.8,1005.4 1786.0,1005.5 1786.1,1005.6 1786.3,1005.7 1786.5,1005.7 1786.7,1005.8 1786.8,1005.9 1787.0,1006.0 1787.2,1006.1 1787.4,1006.2 1787.5,1006.2 1787.7,1006.3 1787.9,1006.4 1788.1,1006.5 1788.2,1006.5 1788.4,1006.6 1788.6,1006.7 1788.8,1006.8 1789.0,1006.8 1789.1,1006.9 1789.3,1007.0 1789.5,1007.0 1789.7,1007.1 1789.8,1007.2 1790.0,1007.2 1790.2,1007.3 1790.4,1007.3 1790.5,1007.4 1790.7,1007.5 1790.9,1007.5 1791.1,1007.6 1791.2,1007.7 1791.4,1007.7 1791.6,1007.8 1791.8,1007.8 1791.9,1007.9 1792.1,1007.9 1792.3,1008.0 1792.5,1008.0 1792.6,1008.1 1792.8,1008.2 1793.0,1008.2 1793.2,1008.3 1793.3,1008.3 1793.5,1008.4 1793.7,1008.4 1793.9,1008.5 1794.0,1008.5 1794.2,1008.6 1794.4,1008.6 1794.6,1008.7 1794.8,1008.7 1794.9,1008.7 1795.1,1008.8 1795.3,1008.8 1795.5,1008.9 1795.6,1008.9 1795.8,1009.0 1796.0,1009.0 1796.2,1009.1 1796.3,1009.1 1796.5,1009.1 1796.7,1009.2 1796.9,1009.2 1797.0,1009.3 1797.2,1009.3 1797.4,1009.4 1797.6,1009.4 1797.7,1009.4 1797.9,1009.5 1798.1,1009.5 1798.3,1009.5 1798.4,1009.6 1798.6,1009.6 1798.8,1009.7 1799.0,1009.7 1799.1,1009.7 1799.3,1009.8 1799.5,1009.8 1799.7,1009.8 1799.9,1009.9 1800.0,1009.9 1800.2,1009.9 1800.4,1010.0 1800.6,1010.0 1800.7,1010.0 1800.9,1010.1 1801.1,1010.1 1801.3,1010.1 1801.4,1010.2 1801.6,1010.2 1801.8,1010.2 1802.0,1010.3 1802.1,1010.3 1802.3,1010.3 1802.5,1010.4 1802.7,1010.4 1802.8,1010.4 1803.0,1010.4 1803.2,1010.5 1803.4,1010.5 1803.5,1010.5 1803.7,1010.6 1803.9,1010.6 1804.1,1010.6 1804.2,1010.6 1804.4,1010.7 1804.6,1010.7 1804.8,1010.7 1805.0,1010.7 1805.1,1010.8 1805.3,1010.8 1805.5,1010.8 1805.7,1010.9 1805.8,1010.9 1806.0,1010.9 1806.2,1010.9 1806.4,1011.0 1806.5,1011.0 1806.7,1011.0 1806.9,1011.0 1807.1,1011.0 1807.2,1011.1 1807.4,1011.1 1807.6,1011.1 1807.8,1011.1 1807.9,1011.2 1808.1,1011.2 1808.3,1011.2 1808.5,1011.2 1808.6,1011.2 1808.8,1011.3 1809.0,1011.3 1809.2,1011.3 1809.3,1011.3 1809.5,1011.4 1809.7,1011.4 1809.9,1011.4 1810.1,1011.4 1810.2,1011.4 1810.4,1011.5 1810.6,1011.5 1810.8,1011.5 1810.9,1011.5 1811.1,1011.5 1811.3,1011.6 1811.5,1011.6 1811.6,1011.6 1811.8,1011.6 1812.0,1011.6 1812.2,1011.7 1812.3,1011.7 1812.5,1011.7 1812.7,1011.7 1812.9,1011.7 1813.0,1011.7 1813.2,1011.8 1813.4,1011.8 1813.6,1011.8 1813.7,1011.8 1813.9,1011.8 1814.1,1011.8 1814.3,1011.9 1814.4,1011.9 1814.6,1011.9 1814.8,1011.9 1815.0,1011.9 1815.1,1011.9 1815.3,1012.0 1815.5,1012.0 1815.7,1012.0 1815.9,1012.0 1816.0,1012.0 1816.2,1012.0 1816.4,1012.1 1817.8,1012.2 1819.2,1012.3 1820.6,1012.4 1822.0,1012.5 1823.4,1012.6 1824.8,1012.7 1826.2,1012.7 1827.6,1012.8 1829.0,1012.9 1830.4,1013.0 1831.9,1013.0 1833.3,1013.1 1834.7,1013.2 1836.1,1013.2 1837.5,1013.3 1838.9,1013.3 1840.3,1013.4 1841.7,1013.4 1843.1,1013.5 1844.5,1013.5 1845.9,1013.6 1847.3,1013.6 1848.7,1013.6 1850.1,1013.7 1851.5,1013.7 1853.0,1013.7 1854.4,1013.8 1855.8,1013.8 1857.2,1013.8 1858.6,1013.9 1860.0,1013.9 1861.4,1013.9 1862.8,1013.9 1864.2,1014.0 1865.6,1014.0 1867.0,1014.0 1868.4,1014.0 1869.8,1014.1 1871.2,1014.1 1872.6,1014.1 1874.1,1014.1 1875.5,1014.1 1876.9,1014.2 1878.3,1014.2 1879.7,1014.2 1881.1,1014.2 1882.5,1014.2 1883.9,1014.2 1885.3,1014.2 1886.7,1014.3 1888.1,1014.3 1889.5,1014.3 1890.9,1014.3 1892.3,1014.3 1893.7,1014.3 1895.2,1014.3 1896.6,1014.3 1898.0,1014.3 1899.4,1014.3 1900.8,1014.3 1902.2,1014.3 1903.6,1014.3 1905.0,1014.3 1906.4,1014.3 1907.8,1014.3 1909.2,1014.2 1910.6,1014.2 1912.0,1014.1 1913.4,1014.0 1914.8,1013.8 1916.3,1013.6 1917.7,1013.2 1919.1,1012.8 1920.5,1012.4 1921.9,1012.0 1923.3,1011.7 1924.7,1011.6 1926.1,1011.7 1927.5,1012.1 1928.9,1012.5 1930.3,1013.0 1931.7,1013.4 1933.1,1013.7 1934.5,1014.0 1935.9,1014.1 1937.4,1014.3 1938.8,1014.4 1940.2,1014.4 1941.6,1014.5 1943.0,1014.5 1944.4,1014.5 1945.8,1014.5 1947.2,1014.6 1948.6,1014.6 1950.0,1014.6 1951.4,1014.6 1952.8,1014.6 1954.2,1014.6 1955.6,1014.6 1957.0,1014.6 1958.5,1014.6 1959.9,1014.7 1961.3,1014.7 1962.7,1014.7 1964.1,1014.7 1965.5,1014.7 1966.9,1014.7 1968.3,1014.7 1969.7,1014.7 1971.1,1016.2 1972.5,1018.5 1973.9,1020.5 1975.3,1020.5 1976.7,1020.5 1978.1,1020.5 1979.6,1020.5 1981.0,1020.5 1982.4,1020.5 1983.8,1020.5 1985.2,1020.5 1986.6,1020.5 1988.0,1020.6 1989.4,1020.6 1990.8,1020.6 1992.2,1020.6 1993.6,1020.6 1995.0,1020.6 1996.4,1020.6 1997.8,1020.6 1999.2,1020.6 2000.7,1020.6 2002.1,1020.6 2003.5,1020.6 2004.9,1020.6 2006.3,1020.6 2007.7,1020.6 2009.1,1020.6 2010.5,1020.6 2011.9,1020.6 2013.3,1020.6 2014.7,1020.6 2016.1,1020.6 2017.5,1020.6 2018.9,1020.6 2020.3,1020.6 2021.8,1020.6 2023.2,1020.6 2024.6,1020.6 2026.0,1020.6 2027.4,1020.6 2028.8,1020.6 2030.2,1020.6 2031.6,1020.6 2033.0,1020.6 2034.4,1020.6 2035.8,1020.6 2037.2,1020.6 2038.6,1020.6 2040.0,1020.6 2041.4,1020.6 2042.9,1020.6 2044.3,1020.6 2045.7,1020.6 2047.1,1020.6 2048.5,1020.6 2049.9,1020.6 2051.3,1020.6 2052.7,1020.7 2054.1,1020.7 2055.5,1020.7 2056.9,1020.7 2058.3,1020.7 2059.7,1020.7 2061.1,1020.7 2062.5,1020.7 2064.0,1020.7 2065.4,1020.7 2066.8,1020.7 2068.2,1020.7 2069.6,1020.7 2071.0,1020.7 2072.4,1020.7 2073.8,1020.7 2075.2,1020.7 2076.6,1020.7 2078.0,1020.7 2079.4,1020.7 2080.8,1020.7 2082.2,1020.7 2083.6,1020.7 2085.1,1020.7 2086.5,1020.7 2087.9,1020.7 2089.3,1020.7 2090.7,1020.7 2092.1,1020.7 2093.5,1020.7 2094.9,1020.7 2096.3,1020.7 2097.7,1020.7 2099.1,1020.7 2100.5,1020.7 2101.9,1020.7 2103.3,1020.7 2104.7,1020.7 2106.2,1020.7 2107.6,1020.7 2109.0,1020.7 2110.4,1020.7 2111.8,1020.7 2113.2,1020.7 2114.6,1020.7 2116.0,1020.7 2117.4,1020.7 2118.8,1020.7 2120.2,1020.7 2121.6,1020.7 2123.0,1020.7 2124.4,1020.7 2125.8,1020.7 2127.3,1020.7 2128.7,1020.7 2130.1,1020.7 2131.5,1020.7 2132.9,1020.7 2134.3,1020.7 2135.7,1020.7 2137.1,1020.7 2138.5,1020.7 2139.9,1020.7 2141.3,1020.7 2142.7,1020.7 2144.1,1020.7 2145.5,1020.7 2146.9,1020.7 2148.4,1020.7 2149.8,1020.7 2151.2,1020.7 2152.6,1020.7 2154.0,1020.7 2155.4,1020.7 2156.8,1020.7 2158.2,1020.7 2159.6,1020.7 2161.0,1020.7 2162.4,1020.7 2163.8,1020.7 2165.2,1020.7 2166.6,1020.7 2168.0,1020.7 2169.5,1020.7 2170.9,1020.7 2172.3,1020.7 2173.7,1020.7 2175.1,1020.7 2176.5,1020.7 2177.9,1020.7 2179.3,1020.7 2180.7,1020.7 2182.1,1020.7 2183.5,1020.7 2184.9,1020.7 2186.3,1020.7 2187.7,1020.7 2189.1,1020.7 2190.6,1020.7 2192.0,1020.7 2193.4,1020.7 2194.8,1020.7 2196.2,1020.7 2197.6,1020.7 2199.0,1020.7 2200.4,1020.7 2201.8,1020.7 2203.2,1020.7 2204.6,1020.7 2206.0,1020.7 2207.4,1020.7 2208.8,1020.7 2210.2,1020.7 2211.7,1020.7 2213.1,1020.7 2214.5,1020.7 2215.9,1020.7 2217.3,1020.7 2218.7,1020.7 2220.1,1020.7 2221.5,1020.7 2222.9,1020.7 2224.3,1020.7 2225.7,1020.7 2227.1,1020.7 2228.5,1020.7 2229.9,1020.7 2231.3,1020.7 2232.8,1020.7 2234.2,1020.7 2235.6,1020.7 2237.0,1020.7 2238.4,1020.7 2239.8,1020.7 2241.2,1020.7 2242.6,1020.7 2244.0,1020.7 2245.4,1020.7 2246.8,1020.7 2248.2,1020.7 2249.6,1020.7 2251.0,1020.7 2252.4,1020.7 2253.9,1020.7 2255.3,1020.7 2256.7,1020.7 2258.1,1020.7 2259.5,1020.7 2260.9,1020.7 2262.3,1020.7 2263.7,1020.7 2265.1,1020.7 2266.5,1020.7 2267.9,1020.7 2269.3,1020.7 2270.7,1020.7 2272.1,1020.7 2273.5,1020.8 2275.0,1020.8 2276.4,1020.8 2277.8,1020.8 2279.2,1020.8 2280.6,1020.8 2282.0,1020.8 2283.4,1020.8 2284.8,1020.8 2286.2,1020.8 2287.6,1020.8 2289.0,1020.8 2290.4,1020.8 2291.8,1020.8 2293.2,1020.8 2294.6,1020.8 2296.1,1020.8 2297.5,1020.8 2298.9,1020.8 2300.3,1020.8 2301.7,1020.8 2303.1,1020.8 2304.5,1020.8 2305.9,1020.8 2307.3,1020.8 2308.7,1020.8 2310.1,1020.8 2311.5,1020.8 2312.9,1020.8 2314.3,1020.8 2315.7,1020.8 2317.2,1020.8 2318.6,1020.8 2320.0,1020.8 2321.4,1020.8 2322.8,1020.8 2324.2,1020.8 2325.6,1020.8 2327.0,1020.8 2328.4,1020.8 2329.8,1020.8 2331.2,1020.8 2332.6,1020.8 2334.0,1020.8 2335.4,1020.8 2336.8,1020.8 2338.3,1020.8 2339.7,1020.8 2341.1,1020.8 2342.5,1020.8" fill="none" stroke="#808000" stroke-width="7.2" stroke-linejoin="round"/>
<polyline points="233.0,1515.2 234.4,1515.2 235.8,1515.2 237.2,1515.2 238.6,1515.2 240.0,1515.2 241.4,1515.2 242.8,1515.3 244.3,1515.3 245.7,1515.3 247.1,1515.3 248.5,1515.3 249.9,1515.3 251.3,1515.3 252.7,1515.3 254.1,1515.3 255.5,1515.3 256.9,1515.3 258.3,1515.4 259.7,1515.4 261.1,1515.4 262.5,1515.4 263.9,1515.4 265.4,1515.4 266.8,1515.4 268.2,1515.4 269.6,1515.4 271.0,1515.4 272.4,1515.4 273.8,1515.5 275.2,1515.5 276.6,1515.5 278.0,1515.5 279.4,1515.5 280.8,1515.5 282.2,1515.5 283.6,1515.5 285.0,1515.5 286.5,1515.5 287.9,1515.5 289.3,1515.5 290.7,1515.6 292.1,1515.6 293.5,1515.6 294.9,1515.6 296.3,1515.6 297.7,1515.6 299.1,1515.6 300.5,1515.6 301.9,1515.6 303.3,1515.6 304.7,1515.6 306.1,1515.7 307.6,1515.7 309.0,1515.7 310.4,1515.7 311.8,1515.7 313.2,1515.7 314.6,1515.7 316.0,1515.7 317.4,1515.7 318.8,1515.7 320.2,1515.7 321.6,1515.8 323.0,1515.8 324.4,1515.8 325.8,1515.8 327.2,1515.8 328.7,1515.8 330.1,1515.8 331.5,1515.8 332.9,1515.8 334.3,1515.8 335.7,1515.8 337.1,1515.8 338.5,1515.9 339.9,1515.9 341.3,1515.9 342.7,1515.9 344.1,1515.9 345.5,1515.9 346.9,1515.9 348.3,1515.9 349.8,1515.9 351.2,1515.9 352.6,1515.9 354.0,1516.0 355.4,1516.0 356.8,1516.0 358.2,1516.0 359.6,1516.0 361.0,1516.0 362.4,1516.0 363.8,1516.0 365.2,1516.0 366.6,1516.0 368.0,1516.0 369.4,1516.0 370.9,1516.1 372.3,1516.1 373.7,1516.1 375.1,1516.1 376.5,1516.1 377.9,1516.1 379.3,1516.1 380.7,1516.1 382.1,1516.1 383.5,1516.1 384.9,1516.1 386.3,1516.2 387.7,1516.2 389.1,1516.2 390.5,1516.2 392.0,1516.2 393.4,1516.2 394.8,1516.2 396.2,1516.2 397.6,1516.2 399.0,1516.2 400.4,1516.2 401.8,1516.3 403.2,1516.3 404.6,1516.3 406.0,1516.3 407.4,1516.3 408.8,1516.3 410.2,1516.3 411.6,1516.3 413.1,1516.3 414.5,1516.3 415.9,1516.3 417.3,1516.3 418.7,1516.4 420.1,1516.4 421.5,1516.4 422.9,1516.4 424.3,1516.4 425.7,1516.4 427.1,1516.4 428.5,1516.4 429.9,1516.4 431.3,1516.4 432.7,1516.4 434.2,1516.5 435.6,1516.5 437.0,1516.5 438.4,1516.5 439.8,1516.5 441.2,1516.5 442.6,1516.5 444.0,1516.5 445.4,1516.5 446.8,1516.5 448.2,1516.5 449.6,1516.5 451.0,1516.6 452.4,1516.6 453.8,1516.6 455.3,1516.6 456.7,1516.6 458.1,1516.6 459.5,1516.6 460.9,1516.6 462.3,1516.6 463.7,1516.6 465.1,1516.6 466.5,1516.7 467.9,1516.7 469.3,1516.7 470.7,1516.7 472.1,1516.7 473.5,1516.7 474.9,1516.7 476.4,1516.7 477.8,1516.7 479.2,1516.7 480.6,1516.7 482.0,1516.7 483.4,1516.8 484.8,1516.8 486.2,1516.8 487.6,1516.8 489.0,1516.8 490.4,1516.8 491.8,1516.8 493.2,1516.8 494.6,1516.8 496.0,1516.8 497.5,1516.8 498.9,1516.9 500.3,1516.9 501.7,1516.9 503.1,1516.9 504.5,1516.9 505.9,1516.9 507.3,1516.9 508.7,1516.9 510.1,1516.9 511.5,1516.9 512.9,1516.9 514.3,1516.9 515.7,1517.0 517.1,1517.0 518.6,1517.0 520.0,1517.0 521.4,1517.0 522.8,1517.0 524.2,1517.0 525.6,1517.0 527.0,1517.0 528.4,1517.0 529.8,1517.0 531.2,1517.0 532.6,1517.1 534.0,1517.1 535.4,1517.1 536.8,1517.1 538.2,1517.1 539.7,1517.1 541.1,1517.1 542.5,1517.1 543.9,1517.1 545.3,1517.1 546.7,1517.1 548.1,1517.1 549.5,1517.2 550.9,1517.2 552.3,1517.2 553.7,1517.2 555.1,1517.2 556.5,1517.2 557.9,1517.2 559.3,1517.2 560.8,1517.2 562.2,1517.2 563.6,1517.2 565.0,1517.2 566.4,1517.3 567.8,1517.3 569.2,1517.3 570.6,1517.3 572.0,1517.3 573.4,1517.3 574.8,1517.3 576.2,1517.3 577.6,1517.3 579.0,1517.3 580.4,1517.3 581.9,1517.3 583.3,1517.3 584.7,1517.3 586.1,1517.4 587.5,1517.4 588.9,1517.4 590.3,1517.4 591.7,1517.4 593.1,1517.4 594.5,1517.4 595.9,1517.4 597.3,1517.4 598.7,1517.4 600.1,1517.4 601.5,1517.4 603.0,1517.4 604.4,1517.4 605.8,1517.4 607.2,1517.4 608.6,1517.4 610.0,1517.4 611.4,1517.4 612.8,1517.4 614.2,1517.4 615.6,1517.4 617.0,1517.4 618.4,1517.4 619.8,1517.4 621.2,1517.4 622.6,1517.4 624.1,1517.3 625.5,1517.3 626.9,1517.3 628.3,1517.2 629.7,1517.2 631.1,1517.1 632.5,1517.0 633.9,1516.9 635.3,1516.6 636.7,1516.3 638.1,1515.7 639.5,1514.9 640.9,1513.7 642.3,1512.3 643.7,1510.5 645.2,1508.7 646.6,1507.3 648.0,1506.8 649.4,1507.3 650.8,1508.8 652.2,1510.6 653.6,1512.3 655.0,1513.8 656.4,1515.0 657.8,1515.8 659.2,1516.4 660.6,1516.8 662.0,1517.0 663.4,1517.2 664.8,1517.3 666.3,1517.4 667.7,1517.5 669.1,1517.5 670.5,1517.6 671.9,1517.6 673.3,1517.6 674.7,1517.7 676.1,1517.7 677.5,1517.7 678.9,1517.8 680.3,1517.8 681.7,1517.8 683.1,1517.8 684.5,1517.8 685.9,1517.8 687.4,1517.9 688.8,1517.9 690.2,1517.9 691.6,1517.9 693.0,1517.9 694.4,1517.9 695.8,1517.9 697.2,1517.9 698.6,1517.9 700.0,1517.9 701.4,1518.0 702.8,1518.0 704.2,1518.0 705.6,1518.0 707.0,1518.0 708.5,1518.0 709.9,1518.0 711.3,1518.0 712.7,1518.0 714.1,1518.0 715.5,1518.0 716.9,1518.0 718.3,1517.9 719.7,1517.9 721.1,1517.9 722.5,1517.9 723.9,1517.9 725.3,1517.8 726.7,1517.8 728.1,1517.8 729.6,1517.7 731.0,1517.7 732.4,1517.6 733.8,1517.4 735.2,1517.3 736.6,1517.0 738.0,1516.6 739.4,1516.1 740.8,1515.3 742.2,1514.3 743.6,1513.0 745.0,1511.5 746.4,1509.9 747.8,1508.3 749.2,1507.0 750.7,1506.4 752.1,1506.6 753.5,1507.6 754.9,1509.1 756.3,1510.8 757.7,1512.4 759.1,1513.8 760.5,1514.9 761.9,1515.8 763.3,1516.5 764.7,1517.0 766.1,1517.3 767.5,1517.5 768.9,1517.7 770.3,1517.8 771.8,1517.9 773.2,1518.0 774.6,1518.0 776.0,1518.1 777.4,1518.1 778.8,1518.1 780.2,1518.2 781.6,1518.2 783.0,1518.2 784.4,1518.2 785.8,1518.2 787.2,1518.2 788.6,1518.2 790.0,1518.1 791.4,1518.1 792.9,1518.0 794.3,1517.9 795.7,1517.8 797.1,1517.5 798.5,1517.0 799.9,1516.4 801.3,1515.5 802.7,1514.4 804.1,1513.1 805.5,1511.8 806.9,1510.9 808.3,1510.7 809.7,1511.3 811.1,1512.5 812.5,1513.8 814.0,1515.1 815.4,1516.1 816.8,1516.9 818.2,1517.5 819.6,1517.8 821.0,1518.1 822.4,1518.3 823.8,1518.4 825.2,1518.5 826.6,1518.5 828.0,1518.6 829.4,1518.6 830.8,1518.7 832.2,1518.7 833.6,1518.7 835.1,1518.8 836.5,1518.8 837.9,1518.8 839.3,1518.8 840.7,1518.9 842.1,1518.9 843.5,1518.9 844.9,1518.9 846.3,1518.9 847.7,1518.9 849.1,1518.9 850.5,1519.0 851.9,1519.0 853.3,1519.0 854.7,1519.0 856.2,1519.0 857.6,1519.0 859.0,1519.0 860.4,1519.1 861.8,1519.1 863.2,1519.1 864.6,1519.1 866.0,1519.1 867.4,1519.1 868.8,1519.1 870.2,1519.1 871.6,1519.1 873.0,1519.2 874.4,1519.2 875.8,1519.2 877.3,1519.2 878.7,1519.2 880.1,1519.2 881.5,1519.2 882.9,1519.2 884.3,1519.2 885.7,1519.2 887.1,1519.3 888.5,1519.3 889.9,1519.3 891.3,1519.3 892.7,1519.3 894.1,1519.3 895.5,1519.3 896.9,1519.3 898.4,1519.3 899.8,1519.3 901.2,1519.4 902.6,1519.4 904.0,1519.4 905.4,1519.4 906.8,1519.4 908.2,1519.4 909.6,1519.4 911.0,1519.4 912.4,1519.4 913.8,1519.4 915.2,1519.4 916.6,1519.5 918.0,1519.5 919.5,1519.5 920.9,1519.5 922.3,1519.5 923.7,1519.5 925.1,1519.5 926.5,1519.5 927.9,1519.5 929.3,1519.5 930.7,1519.5 932.1,1519.6 933.5,1519.6 934.9,1519.6 936.3,1519.6 937.7,1519.6 939.1,1519.6 940.6,1519.6 942.0,1519.6 943.4,1519.6 944.8,1519.6 946.2,1519.6 947.6,1519.7 949.0,1519.7 950.4,1519.7 951.8,1519.7 953.2,1519.7 954.6,1519.7 956.0,1519.7 957.4,1519.7 958.8,1519.7 960.2,1519.7 961.7,1519.7 963.1,1519.8 964.5,1519.8 965.9,1519.8 967.3,1519.8 968.7,1519.8 970.1,1519.8 971.5,1519.8 972.9,1519.8 974.3,1519.8 975.7,1519.8 977.1,1519.8 978.5,1519.9 979.9,1519.9 981.3,1519.9 982.8,1519.9 984.2,1519.9 985.6,1519.9 987.0,1519.9 988.4,1519.9 989.8,1519.9 991.2,1519.9 992.6,1519.9 994.0,1520.0 995.4,1520.0 996.8,1520.0 998.2,1520.0 999.6,1520.0 1001.0,1520.0 1002.4,1520.0 1003.9,1520.0 1005.3,1520.0 1006.7,1520.0 1008.1,1520.0 1009.5,1520.0 1010.9,1519.9 1012.3,1519.9 1013.7,1519.9 1015.1,1519.9 1016.5,1519.9 1017.9,1519.9 1019.3,1519.9 1020.7,1519.9 1022.1,1519.9 1023.5,1519.9 1025.0,1519.9 1026.4,1519.9 1027.8,1519.9 1029.2,1519.9 1030.6,1519.9 1032.0,1519.9 1033.4,1519.9 1034.8,1519.9 1036.2,1519.9 1037.6,1519.9 1039.0,1519.9 1040.4,1519.9 1041.8,1519.9 1043.2,1519.8 1044.6,1519.8 1046.1,1519.8 1047.5,1519.8 1048.9,1519.8 1050.3,1519.8 1051.7,1519.8 1053.1,1519.8 1054.5,1519.8 1055.9,1519.8 1057.3,1519.8 1058.7,1519.8 1060.1,1519.8 1061.5,1519.8 1062.9,1519.8 1064.3,1519.8 1065.7,1519.8 1067.2,1519.8 1068.6,1519.8 1070.0,1519.8 1071.4,1519.8 1072.8,1519.8 1074.2,1519.7 1075.6,1519.7 1077.0,1519.7 1078.4,1519.7 1079.8,1519.7 1081.2,1519.7 1082.6,1519.7 1084.0,1519.7 1085.4,1519.7 1086.8,1519.7 1088.3,1519.7 1089.7,1519.7 1091.1,1519.7 1092.5,1519.7 1093.9,1519.7 1095.3,1519.7 1096.7,1519.7 1098.1,1519.7 1099.5,1519.7 1100.9,1519.7 1102.3,1519.7 1103.7,1519.6 1105.1,1519.6 1106.5,1519.6 1107.9,1519.6 1109.4,1519.6 1110.8,1519.6 1112.2,1519.6 1113.6,1519.6 1115.0,1519.6 1116.4,1519.6 1117.8,1519.6 1119.2,1519.6 1120.6,1519.6 1122.0,1519.6 1123.4,1519.6 1124.8,1519.6 1126.2,1519.6 1127.6,1519.6 1129.0,1519.6 1130.5,1519.6 1131.9,1519.5 1133.3,1519.5 1134.7,1519.5 1136.1,1519.5 1137.5,1519.5 1138.9,1519.5 1140.3,1519.5 1141.7,1519.5 1143.1,1519.5 1144.5,1519.5 1145.9,1519.5 1147.3,1519.5 1148.7,1519.5 1150.1,1519.5 1151.6,1519.5 1153.0,1519.5 1154.4,1519.5 1155.8,1519.4 1157.2,1519.4 1158.6,1519.4 1160.0,1519.4 1161.4,1519.4 1162.8,1519.4 1164.2,1519.4 1165.6,1519.4 1167.0,1519.4 1168.4,1519.4 1169.8,1519.4 1171.2,1519.4 1172.7,1519.3 1174.1,1519.3 1175.5,1519.3 1176.9,1519.3 1178.3,1519.3 1179.7,1519.3 1181.1,1519.2 1182.5,1519.2 1183.9,1519.2 1185.3,1519.1 1186.7,1519.1 1188.1,1519.0 1189.5,1518.9 1190.9,1518.7 1192.3,1518.5 1193.8,1518.3 1195.2,1518.0 1196.6,1517.7 1198.0,1517.3 1199.4,1517.0 1200.8,1516.6 1202.2,1516.4 1203.6,1516.3 1205.0,1516.4 1206.4,1516.6 1207.8,1516.9 1209.2,1517.3 1210.6,1517.6 1212.0,1517.9 1213.4,1518.2 1214.9,1518.4 1216.3,1518.6 1217.7,1518.8 1219.1,1518.9 1220.5,1519.0 1221.9,1519.0 1223.3,1519.0 1224.7,1519.1 1226.1,1519.1 1227.5,1519.1 1228.9,1519.1 1230.3,1519.1 1231.7,1519.1 1233.1,1519.1 1234.5,1519.1 1236.0,1519.1 1237.4,1519.1 1238.8,1519.1 1240.2,1519.1 1241.6,1519.1 1243.0,1519.1 1244.4,1519.1 1245.8,1519.1 1247.2,1519.1 1248.6,1519.1 1250.0,1519.1 1251.4,1519.1 1252.8,1519.1 1254.2,1519.1 1255.6,1519.1 1257.1,1519.1 1258.5,1519.1 1259.9,1519.1 1261.3,1519.1 1262.7,1519.1 1264.1,1519.1 1265.5,1519.1 1266.9,1519.1 1268.3,1519.1 1269.7,1519.1 1271.1,1519.1 1272.5,1519.1 1273.9,1519.1 1275.3,1519.1 1276.7,1519.1 1278.2,1519.1 1279.6,1519.1 1281.0,1519.1 1282.4,1519.1 1283.8,1519.1 1285.2,1519.1 1286.6,1519.1 1288.0,1519.0 1289.4,1519.0 1290.8,1519.0 1292.2,1519.0 1293.6,1519.0 1295.0,1519.0 1296.4,1519.0 1297.8,1519.0 1299.3,1519.0 1300.7,1519.0 1302.1,1519.0 1303.5,1519.0 1304.9,1519.0 1306.3,1519.0 1307.7,1519.0 1309.1,1519.0 1310.5,1519.0 1311.9,1519.0 1313.3,1519.0 1314.7,1519.0 1316.1,1519.0 1317.5,1519.0 1318.9,1519.0 1320.4,1518.9 1321.8,1518.9 1323.2,1518.9 1324.6,1518.9 1326.0,1518.9 1327.4,1518.9 1328.8,1518.9 1330.2,1518.9 1331.6,1518.9 1333.0,1518.9 1334.4,1518.9 1335.8,1518.9 1337.2,1518.9 1338.6,1518.9 1340.0,1518.9 1341.5,1518.9 1342.9,1518.9 1344.3,1518.9 1345.7,1518.9 1347.1,1518.9 1348.5,1518.9 1349.9,1518.8 1351.3,1518.8 1352.7,1518.8 1354.1,1518.8 1355.5,1518.8 1356.9,1518.8 1358.3,1518.8 1359.7,1518.8 1361.1,1518.8 1362.6,1518.8 1364.0,1518.8 1365.4,1518.8 1366.8,1518.8 1368.2,1518.8 1369.6,1518.8 1371.0,1518.8 1372.4,1518.8 1373.8,1518.8 1375.2,1518.8 1376.6,1518.8 1378.0,1518.8 1379.4,1518.8 1380.8,1518.7 1382.2,1518.7 1383.7,1518.7 1385.1,1518.7 1386.5,1518.7 1387.9,1518.7 1389.3,1518.7 1390.7,1518.7 1392.1,1518.7 1393.5,1518.7 1394.9,1518.7 1396.3,1518.7 1397.7,1518.7 1399.1,1518.7 1400.5,1518.7 1401.9,1518.7 1403.3,1518.7 1404.8,1518.7 1406.2,1518.7 1407.6,1518.7 1409.0,1518.6 1410.4,1518.6 1411.8,1518.6 1413.2,1518.6 1414.6,1518.6 1416.0,1518.6 1417.4,1518.6 1418.8,1518.6 1420.2,1518.6 1421.6,1518.6 1423.0,1518.6 1424.4,1518.6 1425.9,1518.6 1427.3,1518.6 1428.7,1518.6 1430.1,1518.6 1431.5,1518.6 1432.9,1518.6 1434.3,1518.6 1435.7,1518.5 1437.1,1518.5 1438.5,1518.5 1439.9,1518.5 1441.3,1518.5 1442.7,1518.5 1444.1,1518.5 1445.5,1518.5 1447.0,1518.5 1448.4,1518.5 1449.8,1518.5 1451.2,1518.5 1452.6,1518.5 1454.0,1518.5 1455.4,1518.5 1456.8,1518.5 1458.2,1518.5 1459.6,1518.5 1461.0,1518.4 1462.4,1518.4 1463.8,1518.4 1465.2,1518.4 1466.6,1518.4 1468.1,1518.4 1469.5,1518.4 1470.9,1518.4 1472.3,1518.4 1473.7,1518.4 1475.1,1518.4 1476.5,1518.4 1477.9,1518.4 1479.3,1518.3 1480.7,1518.3 1482.1,1518.3 1483.5,1518.3 1484.9,1518.3 1486.3,1518.3 1487.7,1518.3 1489.2,1518.3 1490.6,1518.2 1492.0,1518.2 1493.4,1518.2 1494.8,1518.2 1496.2,1518.2 1497.6,1518.1 1499.0,1518.1 1500.4,1518.1 1501.8,1518.0 1503.2,1518.0 1504.6,1517.9 1506.0,1517.8 1507.4,1517.7 1508.8,1517.6 1510.3,1517.3 1511.7,1517.0 1513.1,1516.4 1514.5,1515.6 1515.9,1514.6 1517.3,1513.3 1518.7,1512.0 1520.1,1510.9 1521.5,1510.3 1522.9,1510.5 1524.3,1511.4 1525.7,1512.6 1527.1,1513.9 1528.5,1515.1 1529.9,1516.0 1531.4,1516.6 1532.8,1517.1 1534.2,1517.4 1535.6,1517.6 1537.0,1517.7 1538.4,1517.8 1539.8,1517.8 1541.2,1517.9 1542.6,1517.9 1544.0,1517.9 1545.4,1517.9 1546.8,1517.9 1548.2,1518.0 1549.6,1518.0 1551.0,1518.0 1552.5,1518.0 1553.9,1518.0 1555.3,1518.0 1556.7,1518.0 1558.1,1518.0 1559.5,1518.0 1560.9,1518.0 1562.3,1518.0 1563.7,1518.0 1565.1,1518.0 1566.5,1518.0 1567.9,1518.0 1569.3,1518.0 1570.7,1518.0 1572.1,1518.0 1573.6,1518.0 1575.0,1517.9 1576.4,1517.9 1577.8,1517.9 1579.2,1517.9 1580.6,1517.9 1582.0,1517.9 1583.4,1517.9 1584.8,1517.9 1586.2,1517.9 1587.6,1517.9 1589.0,1517.9 1590.4,1517.9 1591.8,1517.8 1593.2,1517.8 1594.7,1517.8 1596.1,1517.8 1597.5,1517.8 1598.9,1517.8 1600.3,1517.8 1601.7,1517.8 1603.1,1517.8 1604.5,1517.7 1605.9,1517.7 1607.3,1517.7 1608.7,1517.7 1610.1,1517.7 1611.5,1517.7 1612.9,1517.6 1614.3,1517.6 1615.8,1517.6 1617.2,1517.6 1618.6,1517.5 1620.0,1517.5 1621.4,1517.5 1622.8,1516.4 1624.2,1514.4 1625.6,1512.4 1627.0,1512.3 1628.4,1512.3 1629.8,1512.2 1631.2,1512.1 1632.6,1512.0 1634.0,1511.8 1635.4,1511.6 1636.9,1511.3 1638.3,1510.9 1639.7,1510.2 1641.1,1509.3 1642.5,1508.1 1643.9,1506.7 1645.3,1505.2 1646.7,1503.9 1648.1,1503.2 1649.5,1503.4 1650.9,1504.4 1652.3,1505.8 1653.7,1507.2 1655.1,1508.4 1656.5,1509.4 1658.0,1510.1 1659.4,1510.5 1660.8,1510.8 1662.2,1511.0 1663.6,1511.1 1665.0,1511.1 1666.4,1511.1 1667.8,1511.1 1669.2,1511.1 1670.6,1511.1 1672.0,1511.0 1673.4,1511.0 1674.8,1510.9 1676.2,1510.8 1677.6,1510.7 1679.1,1510.7 1680.5,1510.6 1681.9,1510.4 1683.3,1510.3 1684.7,1510.2 1686.1,1510.1 1687.5,1509.9 1688.9,1509.8 1690.3,1509.6 1691.7,1509.4 1693.1,1509.2 1694.5,1509.0 1695.9,1508.7 1697.3,1508.5 1698.7,1508.2 1700.2,1507.9 1700.3,1507.8 1700.5,1507.8 1700.7,1507.7 1700.9,1507.7 1701.0,1507.6 1701.2,1507.6 1701.4,1507.5 1701.6,1507.5 1701.7,1507.4 1701.9,1507.4 1702.1,1507.3 1702.3,1507.3 1702.4,1507.3 1702.6,1507.2 1702.8,1507.1 1703.0,1507.1 1703.1,1507.0 1703.3,1507.0 1703.5,1506.9 1703.7,1506.9 1703.8,1506.8 1704.0,1506.8 1704.2,1506.7 1704.4,1506.7 1704.6,1506.6 1704.7,1506.5 1704.9,1506.5 1705.1,1506.4 1705.3,1506.4 1705.4,1506.3 1705.6,1506.2 1705.8,1506.2 1706.0,1506.1 1706.1,1506.0 1706.3,1506.0 1706.5,1505.9 1706.7,1505.8 1706.8,1505.8 1707.0,1505.7 1707.2,1505.6 1707.4,1505.5 1707.5,1505.5 1707.7,1505.4 1707.9,1505.3 1708.1,1505.2 1708.2,1505.2 1708.4,1505.1 1708.6,1505.0 1708.8,1504.9 1708.9,1504.8 1709.1,1504.8 1709.3,1504.7 1709.5,1504.6 1709.6,1504.5 1709.8,1504.4 1710.0,1504.3 1710.2,1504.2 1710.4,1504.1 1710.5,1504.0 1710.7,1503.9 1710.9,1503.8 1711.1,1503.7 1711.2,1503.6 1711.4,1503.5 1711.6,1503.4 1711.8,1503.3 1711.9,1503.2 1712.1,1503.1 1712.3,1503.0 1712.5,1502.9 1712.6,1502.8 1712.8,1502.7 1713.0,1502.5 1713.2,1502.4 1713.3,1502.3 1713.5,1502.2 1713.7,1502.0 1713.9,1501.9 1714.0,1501.8 1714.2,1501.6 1714.4,1501.5 1714.6,1501.4 1714.7,1501.2 1714.9,1501.1 1715.1,1500.9 1715.3,1500.8 1715.5,1500.6 1715.6,1500.5 1715.8,1500.3 1716.0,1500.2 1716.2,1500.0 1716.3,1499.9 1716.5,1499.7 1716.7,1499.5 1716.9,1499.3 1717.0,1499.2 1717.2,1499.0 1717.4,1498.8 1717.6,1498.6 1717.7,1498.4 1717.9,1498.2 1718.1,1498.1 1718.3,1497.9 1718.4,1497.6 1718.6,1497.4 1718.8,1497.2 1719.0,1497.0 1719.1,1496.8 1719.3,1496.6 1719.5,1496.3 1719.7,1496.1 1719.8,1495.9 1720.0,1495.6 1720.2,1495.4 1720.4,1495.1 1720.6,1494.9 1720.7,1494.6 1720.9,1494.4 1721.1,1494.1 1721.3,1493.8 1721.4,1493.5 1721.6,1493.2 1721.8,1492.9 1722.0,1492.6 1722.1,1492.3 1722.3,1492.0 1722.5,1491.7 1722.7,1491.4 1722.8,1491.1 1723.0,1490.7 1723.2,1490.4 1723.4,1490.0 1723.5,1489.6 1723.7,1489.3 1723.9,1488.9 1724.1,1488.5 1724.2,1488.1 1724.4,1487.7 1724.6,1487.3 1724.8,1486.9 1724.9,1486.5 1725.1,1486.0 1725.3,1485.6 1725.5,1485.1 1725.7,1484.6 1725.8,1484.2 1726.0,1483.7 1726.2,1483.2 1726.4,1482.6 1726.5,1482.1 1726.7,1481.6 1726.9,1481.0 1727.1,1480.5 1727.2,1479.9 1727.4,1479.3 1727.6,1478.7 1727.8,1478.1 1727.9,1477.4 1728.1,1476.8 1728.3,1476.1 1728.5,1475.5 1728.6,1474.8 1728.8,1474.1 1729.0,1473.3 1729.2,1472.6 1729.3,1471.8 1729.5,1471.0 1729.7,1470.2 1729.9,1469.4 1730.0,1468.5 1730.2,1467.7 1730.4,1466.8 1730.6,1465.9 1730.7,1464.9 1730.9,1463.9 1731.1,1463.0 1731.3,1461.9 1731.5,1460.9 1731.6,1459.8 1731.8,1458.7 1732.0,1457.6 1732.2,1456.4 1732.3,1455.2 1732.5,1453.9 1732.7,1452.7 1732.9,1451.3 1733.0,1450.0 1733.2,1448.6 1733.4,1447.2 1733.6,1445.7 1733.7,1444.2 1733.9,1442.6 1734.1,1441.0 1734.3,1439.4 1734.4,1437.7 1734.6,1435.9 1734.8,1434.1 1735.0,1432.3 1735.1,1430.4 1735.3,1428.4 1735.5,1426.4 1735.7,1424.3 1735.8,1422.1 1736.0,1419.9 1736.2,1417.6 1736.4,1415.2 1736.6,1412.8 1736.7,1410.3 1736.9,1407.7 1737.1,1405.0 1737.3,1402.3 1737.4,1399.4 1737.6,1396.5 1737.8,1393.4 1738.0,1390.3 1738.1,1387.1 1738.3,1383.7 1738.5,1380.3 1738.7,1376.8 1738.8,1373.1 1739.0,1369.3 1739.2,1365.4 1739.4,1361.4 1739.5,1357.2 1739.7,1352.9 1739.9,1348.5 1740.1,1343.9 1740.2,1339.1 1740.4,1334.3 1740.6,1329.2 1740.8,1324.0 1740.9,1318.6 1741.1,1313.1 1741.3,1307.4 1741.5,1301.5 1741.7,1295.4 1741.8,1289.1 1742.0,1282.7 1742.2,1276.0 1742.4,1269.2 1742.5,1262.1 1742.7,1254.8 1742.9,1247.3 1743.1,1239.6 1743.2,1231.7 1743.4,1223.5 1743.6,1215.1 1743.8,1206.5 1743.9,1197.7 1744.1,1188.7 1744.3,1179.4 1744.5,1169.9 1744.6,1160.2 1744.8,1150.3 1745.0,1140.1 1745.2,1129.8 1745.3,1119.3 1745.5,1108.5 1745.7,1097.6 1745.9,1086.6 1746.0,1075.4 1746.2,1064.0 1746.4,1052.6 1746.6,1041.0 1746.8,1029.4 1746.9,1017.7 1747.1,1006.1 1747.3,994.4 1747.5,982.7 1747.6,971.2 1747.8,959.7 1748.0,948.4 1748.2,937.3 1748.3,926.3 1748.5,915.7 1748.7,905.3 1748.9,895.3 1749.0,885.7 1749.2,876.5 1749.4,867.8 1749.6,859.6 1749.7,852.0 1749.9,844.9 1750.1,838.5 1750.3,832.7 1750.4,827.7 1750.6,823.4 1750.8,819.8 1751.0,817.0 1751.1,815.0 1751.3,813.8 1751.5,813.4 1751.7,813.8 1751.8,815.0 1752.0,817.0 1752.2,819.8 1752.4,823.4 1752.6,827.7 1752.7,832.8 1752.9,838.5 1753.1,845.0 1753.3,852.0 1753.4,859.7 1753.6,867.9 1753.8,876.6 1754.0,885.8 1754.1,895.4 1754.3,905.4 1754.5,915.8 1754.7,926.5 1754.8,937.4 1755.0,948.6 1755.2,959.9 1755.4,971.4 1755.5,983.0 1755.7,994.6 1755.9,1006.3 1756.1,1018.0 1756.2,1029.7 1756.4,1041.4 1756.6,1052.9 1756.8,1064.4 1756.9,1075.8 1757.1,1087.0 1757.3,1098.1 1757.5,1109.0 1757.7,1119.7 1757.8,1130.3 1758.0,1140.7 1758.2,1150.8 1758.4,1160.8 1758.5,1170.5 1758.7,1180.0 1758.9,1189.3 1759.1,1198.4 1759.2,1207.3 1759.4,1215.9 1759.6,1224.3 1759.8,1232.5 1759.9,1240.4 1760.1,1248.2 1760.3,1255.7 1760.5,1263.0 1760.6,1270.1 1760.8,1277.0 1761.0,1283.7 1761.2,1290.1 1761.3,1296.4 1761.5,1302.5 1761.7,1308.5 1761.9,1314.2 1762.0,1319.8 1762.2,1325.2 1762.4,1330.4 1762.6,1335.5 1762.8,1340.4 1762.9,1345.1 1763.1,1349.7 1763.3,1354.2 1763.5,1358.5 1763.6,1362.7 1763.8,1366.8 1764.0,1370.7 1764.2,1374.5 1764.3,1378.2 1764.5,1381.8 1764.7,1385.2 1764.9,1388.6 1765.0,1391.8 1765.2,1395.0 1765.4,1398.0 1765.6,1401.0 1765.7,1403.9 1765.9,1406.7 1766.1,1409.4 1766.3,1412.0 1766.4,1414.5 1766.6,1417.0 1766.8,1419.4 1767.0,1421.7 1767.1,1423.9 1767.3,1426.1 1767.5,1428.2 1767.7,1430.3 1767.9,1432.3 1768.0,1434.2 1768.2,1436.1 1768.4,1437.9 1768.6,1439.7 1768.7,1441.4 1768.9,1443.1 1769.1,1444.7 1769.3,1446.3 1769.4,1447.8 1769.6,1449.3 1769.8,1450.7 1770.0,1452.1 1770.1,1453.5 1770.3,1454.8 1770.5,1456.1 1770.7,1457.4 1770.8,1458.6 1771.0,1459.8 1771.2,1461.0 1771.4,1462.1 1771.5,1463.2 1771.7,1464.3 1771.9,1465.3 1772.1,1466.3 1772.2,1467.3 1772.4,1468.3 1772.6,1469.2 1772.8,1470.2 1772.9,1471.1 1773.1,1471.9 1773.3,1472.8 1773.5,1473.6 1773.7,1474.4 1773.8,1475.2 1774.0,1476.0 1774.2,1476.7 1774.4,1477.4 1774.5,1478.2 1774.7,1478.8 1774.9,1479.5 1775.1,1480.2 1775.2,1480.8 1775.4,1481.5 1775.6,1482.1 1775.8,1482.7 1775.9,1483.3 1776.1,1483.9 1776.3,1484.4 1776.5,1485.0 1776.6,1485.5 1776.8,1486.0 1777.0,1486.5 1777.2,1487.0 1777.3,1487.5 1777.5,1488.0 1777.7,1488.5 1777.9,1488.9 1778.0,1489.4 1778.2,1489.8 1778.4,1490.3 1778.6,1490.7 1778.8,1491.1 1778.9,1491.5 1779.1,1491.9 1779.3,1492.3 1779.5,1492.7 1779.6,1493.0 1779.8,1493.4 1780.0,1493.7 1780.2,1494.1 1780.3,1494.4 1780.5,1494.8 1780.7,1495.1 1780.9,1495.4 1781.0,1495.7 1781.2,1496.0 1781.4,1496.3 1781.6,1496.6 1781.7,1496.9 1781.9,1497.2 1782.1,1497.5 1782.3,1497.8 1782.4,1498.0 1782.6,1498.3 1782.8,1498.6 1783.0,1498.8 1783.1,1499.1 1783.3,1499.3 1783.5,1499.6 1783.7,1499.8 1783.9,1500.0 1784.0,1500.3 1784.2,1500.5 1784.4,1500.7 1784.6,1500.9 1784.7,1501.1 1784.9,1501.3 1785.1,1501.5 1785.3,1501.7 1785.4,1501.9 1785.6,1502.1 1785.8,1502.3 1786.0,1502.5 1786.1,1502.7 1786.3,1502.9 1786.5,1503.1 1786.7,1503.2 1786.8,1503.4 1787.0,1503.6 1787.2,1503.7 1787.4,1503.9 1787.5,1504.1 1787.7,1504.2 1787.9,1504.3 1788.1,1504.5 1788.2,1504.6 1788.4,1504.8 1788.6,1504.9 1788.8,1505.0 1789.0,1505.2 1789.1,1505.3 1789.3,1505.4 1789.5,1505.6 1789.7,1505.7 1789.8,1505.8 1790.0,1505.9 1790.2,1506.0 1790.4,1506.1 1790.5,1506.3 1790.7,1506.4 1790.9,1506.5 1791.1,1506.6 1791.2,1506.7 1791.4,1506.8 1791.6,1506.9 1791.8,1507.0 1791.9,1507.1 1792.1,1507.2 1792.3,1507.3 1792.5,1507.4 1792.6,1507.5 1792.8,1507.6 1793.0,1507.7 1793.2,1507.8 1793.3,1507.8 1793.5,1507.9 1793.7,1508.0 1793.9,1508.1 1794.0,1508.2 1794.2,1508.3 1794.4,1508.4 1794.6,1508.4 1794.8,1508.5 1794.9,1508.6 1795.1,1508.7 1795.3,1508.7 1795.5,1508.8 1795.6,1508.9 1795.8,1509.0 1796.0,1509.0 1796.2,1509.1 1796.3,1509.2 1796.5,1509.2 1796.7,1509.3 1796.9,1509.4 1797.0,1509.4 1797.2,1509.5 1797.4,1509.6 1797.6,1509.6 1797.7,1509.7 1797.9,1509.7 1798.1,1509.8 1798.3,1509.9 1798.4,1509.9 1798.6,1510.0 1798.8,1510.0 1799.0,1510.1 1799.1,1510.1 1799.3,1510.2 1799.5,1510.2 1799.7,1510.3 1799.9,1510.3 1800.0,1510.4 1800.2,1510.4 1800.4,1510.5 1800.6,1510.5 1800.7,1510.6 1800.9,1510.6 1801.1,1510.7 1801.3,1510.7 1801.4,1510.8 1801.6,1510.8 1801.8,1510.9 1802.0,1510.9 1802.1,1511.0 1802.3,1511.0 1802.5,1511.0 1802.7,1511.1 1802.8,1511.1 1803.0,1511.2 1803.2,1511.2 1803.4,1511.3 1803.5,1511.3 1803.7,1511.3 1803.9,1511.4 1805.3,1511.7 1806.7,1511.9 1808.1,1512.2 1809.5,1512.4 1810.9,1512.6 1812.3,1512.8 1813.7,1512.9 1815.1,1513.1 1816.6,1513.2 1818.0,1513.4 1819.4,1513.5 1820.8,1513.6 1822.2,1513.7 1823.6,1513.8 1825.0,1513.9 1826.4,1514.0 1827.8,1514.0 1829.2,1514.1 1830.6,1514.2 1832.0,1514.2 1833.4,1514.3 1834.8,1514.4 1836.2,1514.4 1837.7,1514.5 1839.1,1514.5 1840.5,1514.6 1841.9,1514.6 1843.3,1514.6 1844.7,1514.7 1846.1,1514.7 1847.5,1514.7 1848.9,1514.8 1850.3,1514.8 1851.7,1514.8 1853.1,1514.8 1854.5,1514.9 1855.9,1514.9 1857.3,1514.9 1858.8,1514.9 1860.2,1515.0 1861.6,1515.0 1863.0,1515.0 1864.4,1515.0 1865.8,1515.0 1867.2,1515.0 1868.6,1515.1 1870.0,1515.1 1871.4,1515.1 1872.8,1515.1 1874.2,1515.1 1875.6,1515.1 1877.0,1515.1 1878.4,1515.1 1879.9,1515.2 1881.3,1515.2 1882.7,1515.2 1884.1,1515.2 1885.5,1515.2 1886.9,1515.2 1888.3,1515.2 1889.7,1515.2 1891.1,1515.2 1892.5,1515.2 1893.9,1515.2 1895.3,1515.2 1896.7,1515.2 1898.1,1515.3 1899.5,1515.3 1901.0,1515.3 1902.4,1515.3 1903.8,1515.3 1905.2,1515.3 1906.6,1515.3 1908.0,1515.3 1909.4,1515.3 1910.8,1515.3 1912.2,1515.3 1913.6,1515.3 1915.0,1515.3 1916.4,1515.3 1917.8,1515.3 1919.2,1515.3 1920.6,1515.3 1922.1,1515.3 1923.5,1515.3 1924.9,1515.3 1926.3,1515.3 1927.7,1515.3 1929.1,1515.3 1930.5,1515.3 1931.9,1515.3 1933.3,1515.3 1934.7,1515.3 1936.1,1517.1 1937.5,1519.5 1938.9,1521.3 1940.3,1521.3 1941.7,1521.3 1943.2,1521.3 1944.6,1521.3 1946.0,1521.2 1947.4,1521.2 1948.8,1521.2 1950.2,1521.1 1951.6,1521.1 1953.0,1521.0 1954.4,1520.8 1955.8,1520.5 1957.2,1520.2 1958.6,1519.7 1960.0,1519.1 1961.4,1518.5 1962.8,1517.9 1964.3,1517.5 1965.7,1517.5 1967.1,1517.9 1968.5,1518.5 1969.9,1519.1 1971.3,1519.7 1972.7,1520.2 1974.1,1520.6 1975.5,1520.8 1976.9,1521.0 1978.3,1521.1 1979.7,1521.2 1981.1,1521.2 1982.5,1521.2 1983.9,1521.3 1985.4,1521.3 1986.8,1521.3 1988.2,1521.3 1989.6,1521.3 1991.0,1521.4 1992.4,1521.4 1993.8,1521.4 1995.2,1521.4 1996.6,1521.4 1998.0,1521.4 1999.4,1521.4 2000.8,1521.4 2002.2,1521.4 2003.6,1521.4 2005.1,1521.4 2006.5,1521.4 2007.9,1521.4 2009.3,1521.4 2010.7,1521.4 2012.1,1521.4 2013.5,1521.4 2014.9,1521.4 2016.3,1521.4 2017.7,1521.4 2019.1,1521.4 2020.5,1521.4 2021.9,1521.4 2023.3,1521.4 2024.7,1521.4 2026.2,1521.4 2027.6,1521.4 2029.0,1521.4 2030.4,1521.4 2031.8,1521.4 2033.2,1521.4 2034.6,1521.4 2036.0,1521.5 2037.4,1521.5 2038.8,1521.5 2040.2,1521.5 2041.6,1521.5 2043.0,1521.5 2044.4,1521.5 2045.8,1521.5 2047.3,1521.5 2048.7,1521.5 2050.1,1521.5 2051.5,1521.5 2052.9,1521.5 2054.3,1521.5 2055.7,1521.5 2057.1,1521.5 2058.5,1521.5 2059.9,1521.5 2061.3,1521.5 2062.7,1521.5 2064.1,1521.5 2065.5,1521.5 2066.9,1521.5 2068.4,1521.5 2069.8,1521.5 2071.2,1521.5 2072.6,1521.5 2074.0,1521.5 2075.4,1521.5 2076.8,1521.5 2078.2,1521.5 2079.6,1521.5 2081.0,1521.5 2082.4,1521.5 2083.8,1521.5 2085.2,1521.5 2086.6,1521.5 2088.0,1521.5 2089.5,1521.5 2090.9,1521.5 2092.3,1521.5 2093.7,1521.5 2095.1,1521.5 2096.5,1521.5 2097.9,1521.5 2099.3,1521.5 2100.7,1521.5 2102.1,1521.5 2103.5,1521.5 2104.9,1521.5 2106.3,1521.5 2107.7,1521.5 2109.1,1521.5 2110.6,1521.5 2112.0,1521.5 2113.4,1521.5 2114.8,1521.5 2116.2,1521.5 2117.6,1521.5 2119.0,1521.5 2120.4,1521.5 2121.8,1521.5 2123.2,1521.5 2124.6,1521.5 2126.0,1521.5 2127.4,1521.5 2128.8,1521.5 2130.2,1521.5 2131.7,1521.5 2133.1,1521.5 2134.5,1521.5 2135.9,1521.5 2137.3,1521.5 2138.7,1521.5 2140.1,1521.5 2141.5,1521.5 2142.9,1521.5 2144.3,1521.5 2145.7,1521.5 2147.1,1521.5 2148.5,1521.5 2149.9,1521.5 2151.3,1521.5 2152.8,1521.5 2154.2,1521.5 2155.6,1521.5 2157.0,1521.5 2158.4,1521.5 2159.8,1521.5 2161.2,1521.5 2162.6,1521.5 2164.0,1521.5 2165.4,1521.5 2166.8,1521.5 2168.2,1521.5 2169.6,1521.5 2171.0,1521.5 2172.4,1521.5 2173.9,1521.5 2175.3,1521.5 2176.7,1521.5 2178.1,1521.5 2179.5,1521.5 2180.9,1521.5 2182.3,1521.5 2183.7,1521.5 2185.1,1521.5 2186.5,1521.5 2187.9,1521.5 2189.3,1521.5 2190.7,1521.5 2192.1,1521.5 2193.5,1521.5 2195.0,1521.5 2196.4,1521.5 2197.8,1521.5 2199.2,1521.5 2200.6,1521.5 2202.0,1521.5 2203.4,1521.5 2204.8,1521.5 2206.2,1521.5 2207.6,1521.5 2209.0,1521.5 2210.4,1521.5 2211.8,1521.5 2213.2,1521.5 2214.6,1521.5 2216.1,1521.5 2217.5,1521.5 2218.9,1521.5 2220.3,1521.5 2221.7,1521.5 2223.1,1521.5 2224.5,1521.5 2225.9,1521.5 2227.3,1521.5 2228.7,1521.5 2230.1,1521.5 2231.5,1521.5 2232.9,1521.5 2234.3,1521.5 2235.7,1521.5 2237.2,1521.5 2238.6,1521.5 2240.0,1521.5 2241.4,1521.5 2242.8,1521.5 2244.2,1521.5 2245.6,1521.5 2247.0,1521.5 2248.4,1521.5 2249.8,1521.5 2251.2,1521.5 2252.6,1521.5 2254.0,1521.5 2255.4,1521.5 2256.8,1521.5 2258.3,1521.5 2259.7,1521.5 2261.1,1521.5 2262.5,1521.5 2263.9,1521.5 2265.3,1521.5 2266.7,1521.5 2268.1,1521.5 2269.5,1521.5 2270.9,1521.5 2272.3,1521.5 2273.7,1521.5 2275.1,1521.5 2276.5,1521.5 2277.9,1521.5 2279.4,1521.5 2280.8,1521.5 2282.2,1521.5 2283.6,1521.5 2285.0,1521.5 2286.4,1521.5 2287.8,1521.5 2289.2,1521.5 2290.6,1521.5 2292.0,1521.5 2293.4,1521.5 2294.8,1521.5 2296.2,1521.5 2297.6,1521.5 2299.0,1521.5 2300.5,1521.5 2301.9,1521.5 2303.3,1521.5 2304.7,1521.5 2306.1,1521.5 2307.5,1521.5 2308.9,1521.5 2310.3,1521.5 2311.7,1521.5 2313.1,1521.5 2314.5,1521.5 2315.9,1521.5 2317.3,1521.5 2318.7,1521.5 2320.1,1521.5 2321.6,1521.5 2323.0,1521.5 2324.4,1521.5 2325.8,1521.5 2327.2,1521.5 2328.6,1521.5 2330.0,1521.5 2331.4,1521.5 2332.8,1521.5 2334.2,1521.5 2335.6,1521.5 2337.0,1521.5 2338.4,1521.5 2339.8,1521.5 2341.2,1521.5 2342.7,1521.5" fill="none" stroke="#000000" stroke-width="7.2" stroke-linejoin="round"/>
</svg>
</body></html>
